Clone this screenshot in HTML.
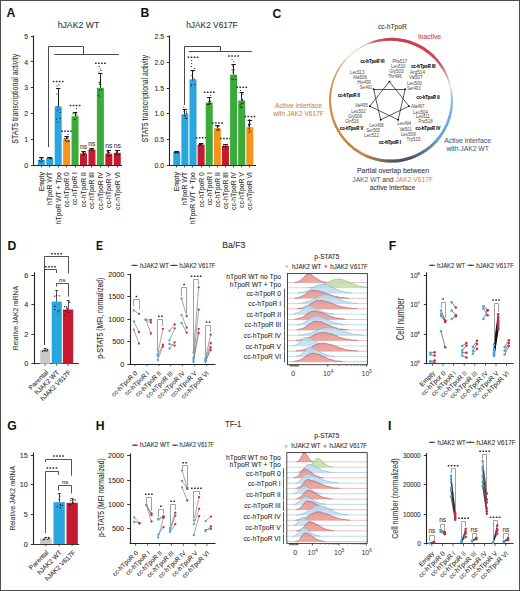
<!DOCTYPE html>
<html><head><meta charset="utf-8"><style>
html,body{margin:0;padding:0;background:#fff;}
body{width:520px;height:591px;overflow:hidden;position:relative;}
svg{display:block;font-family:"Liberation Sans", sans-serif;}
</style></head><body>
<svg width="520" height="591" viewBox="0 0 520 591">
<rect x="0" y="0" width="520" height="591" fill="#fff"/>
<text x="6.60" y="16.80" font-size="12.2" text-anchor="start" fill="#111" font-weight="bold">A</text>
<text x="57.70" y="27.70" font-size="8.8" text-anchor="start" fill="#333" stroke="#333" stroke-width="0.08" textLength="41.5" lengthAdjust="spacingAndGlyphs">hJAK2 WT</text>
<line x1="33.50" y1="35.50" x2="33.50" y2="165.70" stroke="#231f20" stroke-width="1.1"/>
<line x1="33.20" y1="165.50" x2="122.00" y2="165.50" stroke="#231f20" stroke-width="1.1"/>
<line x1="30.90" y1="165.50" x2="33.70" y2="165.50" stroke="#231f20" stroke-width="0.9"/>
<text x="28.10" y="167.70" font-size="6.9" text-anchor="end" fill="#2a2a2a" stroke="#2a2a2a" stroke-width="0.08">0</text>
<line x1="30.90" y1="139.50" x2="33.70" y2="139.50" stroke="#231f20" stroke-width="0.9"/>
<text x="28.10" y="141.90" font-size="6.9" text-anchor="end" fill="#2a2a2a" stroke="#2a2a2a" stroke-width="0.08">1</text>
<line x1="30.90" y1="113.50" x2="33.70" y2="113.50" stroke="#231f20" stroke-width="0.9"/>
<text x="28.10" y="116.10" font-size="6.9" text-anchor="end" fill="#2a2a2a" stroke="#2a2a2a" stroke-width="0.08">2</text>
<line x1="30.90" y1="87.50" x2="33.70" y2="87.50" stroke="#231f20" stroke-width="0.9"/>
<text x="28.10" y="90.30" font-size="6.9" text-anchor="end" fill="#2a2a2a" stroke="#2a2a2a" stroke-width="0.08">3</text>
<line x1="30.90" y1="61.50" x2="33.70" y2="61.50" stroke="#231f20" stroke-width="0.9"/>
<text x="28.10" y="64.50" font-size="6.9" text-anchor="end" fill="#2a2a2a" stroke="#2a2a2a" stroke-width="0.08">4</text>
<line x1="30.90" y1="36.50" x2="33.70" y2="36.50" stroke="#231f20" stroke-width="0.9"/>
<text x="28.10" y="38.70" font-size="6.9" text-anchor="end" fill="#2a2a2a" stroke="#2a2a2a" stroke-width="0.08">5</text>
<rect x="37.80" y="160.04" width="7.00" height="5.16" fill="#2aa6df"/>
<line x1="41.50" y1="165.20" x2="41.50" y2="167.40" stroke="#231f20" stroke-width="0.8"/>
<line x1="41.50" y1="160.04" x2="41.50" y2="157.72" stroke="#1a1a1a" stroke-width="1.0"/>
<line x1="39.10" y1="157.50" x2="43.50" y2="157.50" stroke="#1a1a1a" stroke-width="1.0"/>
<circle cx="41.49" cy="158.88" r="0.6" fill="#1a1a1a"/>
<circle cx="41.76" cy="159.47" r="0.6" fill="#1a1a1a"/>
<circle cx="39.39" cy="160.59" r="0.6" fill="#1a1a1a"/>
<circle cx="42.78" cy="157.89" r="0.6" fill="#1a1a1a"/>
<circle cx="40.13" cy="158.98" r="0.6" fill="#1a1a1a"/>
<circle cx="41.17" cy="162.23" r="0.6" fill="#1a1a1a"/>
<circle cx="41.20" cy="161.52" r="0.6" fill="#1a1a1a"/>
<circle cx="39.76" cy="160.65" r="0.6" fill="#1a1a1a"/>
<circle cx="42.92" cy="160.63" r="0.6" fill="#1a1a1a"/>
<text transform="translate(43.70,172.10) rotate(-90)" font-size="6.8" text-anchor="end" fill="#2a2a2a" stroke="#2a2a2a" stroke-width="0.08">Empty</text>
<rect x="46.24" y="158.23" width="7.00" height="6.97" fill="#2aa6df"/>
<line x1="49.50" y1="165.20" x2="49.50" y2="167.40" stroke="#231f20" stroke-width="0.8"/>
<line x1="49.50" y1="158.23" x2="49.50" y2="157.46" stroke="#1a1a1a" stroke-width="1.0"/>
<line x1="47.54" y1="157.50" x2="51.94" y2="157.50" stroke="#1a1a1a" stroke-width="1.0"/>
<circle cx="50.80" cy="158.27" r="0.6" fill="#1a1a1a"/>
<circle cx="47.82" cy="158.49" r="0.6" fill="#1a1a1a"/>
<circle cx="50.14" cy="158.61" r="0.6" fill="#1a1a1a"/>
<circle cx="47.68" cy="157.94" r="0.6" fill="#1a1a1a"/>
<circle cx="49.62" cy="158.77" r="0.6" fill="#1a1a1a"/>
<circle cx="51.41" cy="158.56" r="0.6" fill="#1a1a1a"/>
<circle cx="51.59" cy="158.55" r="0.6" fill="#1a1a1a"/>
<circle cx="51.06" cy="158.08" r="0.6" fill="#1a1a1a"/>
<circle cx="51.66" cy="158.15" r="0.6" fill="#1a1a1a"/>
<text transform="translate(52.14,172.10) rotate(-90)" font-size="6.8" text-anchor="end" fill="#2a2a2a" stroke="#2a2a2a" stroke-width="0.08">hTpoR WT</text>
<rect x="54.68" y="106.38" width="7.00" height="58.82" fill="#2aa6df"/>
<line x1="58.50" y1="165.20" x2="58.50" y2="167.40" stroke="#231f20" stroke-width="0.8"/>
<line x1="58.50" y1="106.38" x2="58.50" y2="88.57" stroke="#1a1a1a" stroke-width="1.0"/>
<line x1="55.98" y1="88.50" x2="60.38" y2="88.50" stroke="#1a1a1a" stroke-width="1.0"/>
<circle cx="56.41" cy="119.19" r="0.6" fill="#1a1a1a"/>
<circle cx="56.93" cy="94.06" r="0.6" fill="#1a1a1a"/>
<circle cx="57.90" cy="122.12" r="0.6" fill="#1a1a1a"/>
<circle cx="57.30" cy="110.66" r="0.6" fill="#1a1a1a"/>
<circle cx="57.68" cy="106.62" r="0.6" fill="#1a1a1a"/>
<circle cx="58.55" cy="101.33" r="0.6" fill="#1a1a1a"/>
<circle cx="59.96" cy="109.23" r="0.6" fill="#1a1a1a"/>
<circle cx="60.07" cy="112.53" r="0.6" fill="#1a1a1a"/>
<circle cx="60.34" cy="118.43" r="0.6" fill="#1a1a1a"/>
<circle cx="58.80" cy="84.80" r="0.6" fill="#1a1a1a"/>
<circle cx="56.97" cy="86.00" r="0.6" fill="#1a1a1a"/>
<rect x="52.75" y="80.83" width="1.70" height="1.53" rx="0.3" fill="#303030"/>
<rect x="55.80" y="80.83" width="1.70" height="1.53" rx="0.3" fill="#303030"/>
<rect x="58.85" y="80.83" width="1.70" height="1.53" rx="0.3" fill="#303030"/>
<rect x="61.90" y="80.83" width="1.70" height="1.53" rx="0.3" fill="#303030"/>
<text transform="translate(60.58,172.10) rotate(-90)" font-size="6.8" text-anchor="end" fill="#2a2a2a" stroke="#2a2a2a" stroke-width="0.08">hTpoR WT + Tpo</text>
<rect x="63.12" y="139.40" width="7.00" height="25.80" fill="#f7941d"/>
<line x1="66.50" y1="165.20" x2="66.50" y2="167.40" stroke="#231f20" stroke-width="0.8"/>
<line x1="66.50" y1="139.40" x2="66.50" y2="136.82" stroke="#1a1a1a" stroke-width="1.0"/>
<line x1="64.42" y1="136.50" x2="68.82" y2="136.50" stroke="#1a1a1a" stroke-width="1.0"/>
<circle cx="68.66" cy="141.17" r="0.6" fill="#1a1a1a"/>
<circle cx="66.92" cy="141.38" r="0.6" fill="#1a1a1a"/>
<circle cx="65.35" cy="140.45" r="0.6" fill="#1a1a1a"/>
<circle cx="66.94" cy="141.03" r="0.6" fill="#1a1a1a"/>
<circle cx="64.70" cy="138.35" r="0.6" fill="#1a1a1a"/>
<circle cx="68.78" cy="141.14" r="0.6" fill="#1a1a1a"/>
<circle cx="67.94" cy="137.38" r="0.6" fill="#1a1a1a"/>
<circle cx="65.08" cy="138.96" r="0.6" fill="#1a1a1a"/>
<circle cx="67.80" cy="138.39" r="0.6" fill="#1a1a1a"/>
<circle cx="67.96" cy="134.50" r="0.6" fill="#1a1a1a"/>
<rect x="61.20" y="130.44" width="1.70" height="1.53" rx="0.3" fill="#303030"/>
<rect x="64.25" y="130.44" width="1.70" height="1.53" rx="0.3" fill="#303030"/>
<rect x="67.30" y="130.44" width="1.70" height="1.53" rx="0.3" fill="#303030"/>
<rect x="70.34" y="130.44" width="1.70" height="1.53" rx="0.3" fill="#303030"/>
<text transform="translate(69.02,172.10) rotate(-90)" font-size="6.8" text-anchor="end" fill="#2a2a2a" stroke="#2a2a2a" stroke-width="0.08">cc-hTpoR 0</text>
<rect x="71.56" y="116.18" width="7.00" height="49.02" fill="#3aaa3a"/>
<line x1="75.50" y1="165.20" x2="75.50" y2="167.40" stroke="#231f20" stroke-width="0.8"/>
<line x1="75.50" y1="116.18" x2="75.50" y2="112.57" stroke="#1a1a1a" stroke-width="1.0"/>
<line x1="72.86" y1="112.50" x2="77.26" y2="112.50" stroke="#1a1a1a" stroke-width="1.0"/>
<circle cx="75.56" cy="113.05" r="0.6" fill="#1a1a1a"/>
<circle cx="76.02" cy="113.06" r="0.6" fill="#1a1a1a"/>
<circle cx="76.74" cy="115.02" r="0.6" fill="#1a1a1a"/>
<circle cx="75.08" cy="119.48" r="0.6" fill="#1a1a1a"/>
<circle cx="74.22" cy="119.60" r="0.6" fill="#1a1a1a"/>
<circle cx="75.50" cy="113.28" r="0.6" fill="#1a1a1a"/>
<circle cx="73.73" cy="112.96" r="0.6" fill="#1a1a1a"/>
<circle cx="75.55" cy="115.55" r="0.6" fill="#1a1a1a"/>
<circle cx="73.05" cy="113.82" r="0.6" fill="#1a1a1a"/>
<circle cx="76.38" cy="108.50" r="0.6" fill="#1a1a1a"/>
<rect x="69.64" y="104.73" width="1.70" height="1.53" rx="0.3" fill="#303030"/>
<rect x="72.69" y="104.73" width="1.70" height="1.53" rx="0.3" fill="#303030"/>
<rect x="75.73" y="104.73" width="1.70" height="1.53" rx="0.3" fill="#303030"/>
<rect x="78.78" y="104.73" width="1.70" height="1.53" rx="0.3" fill="#303030"/>
<text transform="translate(77.46,172.10) rotate(-90)" font-size="6.8" text-anchor="end" fill="#2a2a2a" stroke="#2a2a2a" stroke-width="0.08">cc-hTpoR I</text>
<rect x="80.00" y="153.59" width="7.00" height="11.61" fill="#c61a30"/>
<line x1="83.50" y1="165.20" x2="83.50" y2="167.40" stroke="#231f20" stroke-width="0.8"/>
<line x1="83.50" y1="153.59" x2="83.50" y2="151.53" stroke="#1a1a1a" stroke-width="1.0"/>
<line x1="81.30" y1="151.50" x2="85.70" y2="151.50" stroke="#1a1a1a" stroke-width="1.0"/>
<circle cx="85.52" cy="152.86" r="0.6" fill="#1a1a1a"/>
<circle cx="82.96" cy="155.15" r="0.6" fill="#1a1a1a"/>
<circle cx="83.59" cy="153.43" r="0.6" fill="#1a1a1a"/>
<circle cx="83.92" cy="154.15" r="0.6" fill="#1a1a1a"/>
<circle cx="84.03" cy="153.82" r="0.6" fill="#1a1a1a"/>
<circle cx="83.53" cy="155.32" r="0.6" fill="#1a1a1a"/>
<circle cx="84.47" cy="153.32" r="0.6" fill="#1a1a1a"/>
<circle cx="82.62" cy="152.56" r="0.6" fill="#1a1a1a"/>
<circle cx="83.59" cy="155.46" r="0.6" fill="#1a1a1a"/>
<text x="83.50" y="149.33" font-size="6.8" text-anchor="middle" fill="#3a3a3a" stroke="#3a3a3a" stroke-width="0.08">ns</text>
<text transform="translate(85.90,172.10) rotate(-90)" font-size="6.8" text-anchor="end" fill="#2a2a2a" stroke="#2a2a2a" stroke-width="0.08">cc-hTpoR II</text>
<rect x="88.44" y="149.72" width="7.00" height="15.48" fill="#c61a30"/>
<line x1="91.50" y1="165.20" x2="91.50" y2="167.40" stroke="#231f20" stroke-width="0.8"/>
<line x1="91.50" y1="149.72" x2="91.50" y2="148.43" stroke="#1a1a1a" stroke-width="1.0"/>
<line x1="89.74" y1="148.50" x2="94.14" y2="148.50" stroke="#1a1a1a" stroke-width="1.0"/>
<circle cx="89.79" cy="149.84" r="0.6" fill="#1a1a1a"/>
<circle cx="92.29" cy="149.51" r="0.6" fill="#1a1a1a"/>
<circle cx="92.45" cy="148.54" r="0.6" fill="#1a1a1a"/>
<circle cx="90.00" cy="150.04" r="0.6" fill="#1a1a1a"/>
<circle cx="91.79" cy="150.03" r="0.6" fill="#1a1a1a"/>
<circle cx="91.29" cy="150.16" r="0.6" fill="#1a1a1a"/>
<circle cx="92.99" cy="150.23" r="0.6" fill="#1a1a1a"/>
<circle cx="90.01" cy="148.55" r="0.6" fill="#1a1a1a"/>
<circle cx="93.98" cy="150.15" r="0.6" fill="#1a1a1a"/>
<text x="91.94" y="146.23" font-size="6.8" text-anchor="middle" fill="#3a3a3a" stroke="#3a3a3a" stroke-width="0.08">ns</text>
<text transform="translate(94.34,172.10) rotate(-90)" font-size="6.8" text-anchor="end" fill="#2a2a2a" stroke="#2a2a2a" stroke-width="0.08">cc-hTpoR III</text>
<rect x="96.88" y="87.80" width="7.00" height="77.40" fill="#3aaa3a"/>
<line x1="100.50" y1="165.20" x2="100.50" y2="167.40" stroke="#231f20" stroke-width="0.8"/>
<line x1="100.50" y1="87.80" x2="100.50" y2="73.61" stroke="#1a1a1a" stroke-width="1.0"/>
<line x1="98.18" y1="73.50" x2="102.58" y2="73.50" stroke="#1a1a1a" stroke-width="1.0"/>
<circle cx="100.19" cy="81.09" r="0.6" fill="#1a1a1a"/>
<circle cx="99.59" cy="90.30" r="0.6" fill="#1a1a1a"/>
<circle cx="99.56" cy="84.13" r="0.6" fill="#1a1a1a"/>
<circle cx="100.80" cy="84.27" r="0.6" fill="#1a1a1a"/>
<circle cx="99.84" cy="82.42" r="0.6" fill="#1a1a1a"/>
<circle cx="98.30" cy="95.14" r="0.6" fill="#1a1a1a"/>
<circle cx="101.41" cy="89.67" r="0.6" fill="#1a1a1a"/>
<circle cx="99.16" cy="82.68" r="0.6" fill="#1a1a1a"/>
<circle cx="99.23" cy="95.99" r="0.6" fill="#1a1a1a"/>
<circle cx="99.25" cy="66.50" r="0.6" fill="#1a1a1a"/>
<circle cx="100.15" cy="69.00" r="0.6" fill="#1a1a1a"/>
<circle cx="101.09" cy="70.50" r="0.6" fill="#1a1a1a"/>
<circle cx="98.95" cy="72.00" r="0.6" fill="#1a1a1a"/>
<rect x="94.95" y="62.53" width="1.70" height="1.53" rx="0.3" fill="#303030"/>
<rect x="98.00" y="62.53" width="1.70" height="1.53" rx="0.3" fill="#303030"/>
<rect x="101.05" y="62.53" width="1.70" height="1.53" rx="0.3" fill="#303030"/>
<rect x="104.10" y="62.53" width="1.70" height="1.53" rx="0.3" fill="#303030"/>
<text transform="translate(102.78,172.10) rotate(-90)" font-size="6.8" text-anchor="end" fill="#2a2a2a" stroke="#2a2a2a" stroke-width="0.08">cc-hTpoR IV</text>
<rect x="105.32" y="153.59" width="7.00" height="11.61" fill="#c61a30"/>
<line x1="108.50" y1="165.20" x2="108.50" y2="167.40" stroke="#231f20" stroke-width="0.8"/>
<line x1="108.50" y1="153.59" x2="108.50" y2="150.24" stroke="#1a1a1a" stroke-width="1.0"/>
<line x1="106.62" y1="150.50" x2="111.02" y2="150.50" stroke="#1a1a1a" stroke-width="1.0"/>
<circle cx="108.09" cy="152.46" r="0.6" fill="#1a1a1a"/>
<circle cx="108.55" cy="155.72" r="0.6" fill="#1a1a1a"/>
<circle cx="107.36" cy="155.86" r="0.6" fill="#1a1a1a"/>
<circle cx="109.48" cy="152.55" r="0.6" fill="#1a1a1a"/>
<circle cx="108.60" cy="156.04" r="0.6" fill="#1a1a1a"/>
<circle cx="107.15" cy="151.84" r="0.6" fill="#1a1a1a"/>
<circle cx="107.46" cy="153.78" r="0.6" fill="#1a1a1a"/>
<circle cx="110.31" cy="155.54" r="0.6" fill="#1a1a1a"/>
<circle cx="107.85" cy="151.57" r="0.6" fill="#1a1a1a"/>
<text x="108.82" y="148.04" font-size="6.8" text-anchor="middle" fill="#3a3a3a" stroke="#3a3a3a" stroke-width="0.08">ns</text>
<text transform="translate(111.22,172.10) rotate(-90)" font-size="6.8" text-anchor="end" fill="#2a2a2a" stroke="#2a2a2a" stroke-width="0.08">cc-hTpoR V</text>
<rect x="113.76" y="152.82" width="7.00" height="12.38" fill="#c61a30"/>
<line x1="117.50" y1="165.20" x2="117.50" y2="167.40" stroke="#231f20" stroke-width="0.8"/>
<line x1="117.50" y1="152.82" x2="117.50" y2="150.24" stroke="#1a1a1a" stroke-width="1.0"/>
<line x1="115.06" y1="150.50" x2="119.46" y2="150.50" stroke="#1a1a1a" stroke-width="1.0"/>
<circle cx="117.88" cy="154.32" r="0.6" fill="#1a1a1a"/>
<circle cx="116.58" cy="154.32" r="0.6" fill="#1a1a1a"/>
<circle cx="116.34" cy="151.00" r="0.6" fill="#1a1a1a"/>
<circle cx="116.25" cy="154.26" r="0.6" fill="#1a1a1a"/>
<circle cx="116.89" cy="152.06" r="0.6" fill="#1a1a1a"/>
<circle cx="116.86" cy="152.42" r="0.6" fill="#1a1a1a"/>
<circle cx="115.75" cy="154.88" r="0.6" fill="#1a1a1a"/>
<circle cx="119.21" cy="150.39" r="0.6" fill="#1a1a1a"/>
<circle cx="119.40" cy="154.68" r="0.6" fill="#1a1a1a"/>
<text x="117.26" y="148.04" font-size="6.8" text-anchor="middle" fill="#3a3a3a" stroke="#3a3a3a" stroke-width="0.08">ns</text>
<text transform="translate(119.66,172.10) rotate(-90)" font-size="6.8" text-anchor="end" fill="#2a2a2a" stroke="#2a2a2a" stroke-width="0.08">cc-hTpoR VI</text>
<text transform="translate(18.20,98.70) rotate(-90)" font-size="9.0" text-anchor="middle" fill="#2f2f2f" stroke="#2f2f2f" stroke-width="0.08" textLength="90" lengthAdjust="spacingAndGlyphs">STAT5 transcriptional activity</text>
<polyline points="48.50,147.00 48.50,46.50 83.50,46.50 83.50,54.40" fill="none" stroke="#4a4a4a" stroke-width="1.0"/>
<line x1="54.40" y1="54.50" x2="119.00" y2="54.50" stroke="#4a4a4a" stroke-width="1.0"/>
<text x="140.60" y="17.10" font-size="12.2" text-anchor="start" fill="#111" font-weight="bold">B</text>
<text x="186.20" y="27.70" font-size="8.8" text-anchor="start" fill="#333" stroke="#333" stroke-width="0.08" textLength="51.5" lengthAdjust="spacingAndGlyphs">hJAK2 V617F</text>
<line x1="169.50" y1="35.50" x2="169.50" y2="165.70" stroke="#231f20" stroke-width="1.1"/>
<line x1="169.10" y1="165.50" x2="256.00" y2="165.50" stroke="#231f20" stroke-width="1.1"/>
<line x1="166.80" y1="165.50" x2="169.60" y2="165.50" stroke="#231f20" stroke-width="0.9"/>
<text x="164.00" y="167.70" font-size="6.9" text-anchor="end" fill="#2a2a2a" stroke="#2a2a2a" stroke-width="0.08">0.0</text>
<line x1="166.80" y1="139.50" x2="169.60" y2="139.50" stroke="#231f20" stroke-width="0.9"/>
<text x="164.00" y="142.00" font-size="6.9" text-anchor="end" fill="#2a2a2a" stroke="#2a2a2a" stroke-width="0.08">0.5</text>
<line x1="166.80" y1="113.50" x2="169.60" y2="113.50" stroke="#231f20" stroke-width="0.9"/>
<text x="164.00" y="116.30" font-size="6.9" text-anchor="end" fill="#2a2a2a" stroke="#2a2a2a" stroke-width="0.08">1.0</text>
<line x1="166.80" y1="88.50" x2="169.60" y2="88.50" stroke="#231f20" stroke-width="0.9"/>
<text x="164.00" y="90.60" font-size="6.9" text-anchor="end" fill="#2a2a2a" stroke="#2a2a2a" stroke-width="0.08">1.5</text>
<line x1="166.80" y1="62.50" x2="169.60" y2="62.50" stroke="#231f20" stroke-width="0.9"/>
<text x="164.00" y="64.90" font-size="6.9" text-anchor="end" fill="#2a2a2a" stroke="#2a2a2a" stroke-width="0.08">2.0</text>
<line x1="166.80" y1="36.50" x2="169.60" y2="36.50" stroke="#231f20" stroke-width="0.9"/>
<text x="164.00" y="39.20" font-size="6.9" text-anchor="end" fill="#2a2a2a" stroke="#2a2a2a" stroke-width="0.08">2.5</text>
<rect x="173.25" y="152.09" width="7.00" height="13.11" fill="#2aa6df"/>
<line x1="176.50" y1="165.20" x2="176.50" y2="167.40" stroke="#231f20" stroke-width="0.8"/>
<line x1="176.50" y1="152.09" x2="176.50" y2="151.06" stroke="#1a1a1a" stroke-width="1.0"/>
<line x1="174.55" y1="151.50" x2="178.95" y2="151.50" stroke="#1a1a1a" stroke-width="1.0"/>
<circle cx="178.73" cy="151.96" r="0.6" fill="#1a1a1a"/>
<circle cx="175.53" cy="152.93" r="0.6" fill="#1a1a1a"/>
<circle cx="178.23" cy="152.57" r="0.6" fill="#1a1a1a"/>
<circle cx="176.83" cy="152.41" r="0.6" fill="#1a1a1a"/>
<circle cx="176.05" cy="151.68" r="0.6" fill="#1a1a1a"/>
<circle cx="174.85" cy="151.56" r="0.6" fill="#1a1a1a"/>
<circle cx="175.81" cy="152.27" r="0.6" fill="#1a1a1a"/>
<circle cx="174.75" cy="152.70" r="0.6" fill="#1a1a1a"/>
<circle cx="177.60" cy="152.88" r="0.6" fill="#1a1a1a"/>
<text transform="translate(179.15,172.10) rotate(-90)" font-size="6.8" text-anchor="end" fill="#2a2a2a" stroke="#2a2a2a" stroke-width="0.08">Empty</text>
<rect x="181.37" y="114.31" width="7.00" height="50.89" fill="#2aa6df"/>
<line x1="184.50" y1="165.20" x2="184.50" y2="167.40" stroke="#231f20" stroke-width="0.8"/>
<line x1="184.50" y1="114.31" x2="184.50" y2="109.17" stroke="#1a1a1a" stroke-width="1.0"/>
<line x1="182.67" y1="109.50" x2="187.07" y2="109.50" stroke="#1a1a1a" stroke-width="1.0"/>
<circle cx="186.61" cy="118.45" r="0.6" fill="#1a1a1a"/>
<circle cx="185.21" cy="118.22" r="0.6" fill="#1a1a1a"/>
<circle cx="185.95" cy="109.56" r="0.6" fill="#1a1a1a"/>
<circle cx="183.99" cy="111.11" r="0.6" fill="#1a1a1a"/>
<circle cx="184.98" cy="115.90" r="0.6" fill="#1a1a1a"/>
<circle cx="186.80" cy="113.47" r="0.6" fill="#1a1a1a"/>
<circle cx="184.17" cy="115.41" r="0.6" fill="#1a1a1a"/>
<circle cx="186.46" cy="111.90" r="0.6" fill="#1a1a1a"/>
<circle cx="186.11" cy="114.09" r="0.6" fill="#1a1a1a"/>
<circle cx="184.34" cy="104.50" r="0.6" fill="#1a1a1a"/>
<circle cx="183.78" cy="107.00" r="0.6" fill="#1a1a1a"/>
<circle cx="184.99" cy="109.50" r="0.6" fill="#1a1a1a"/>
<text transform="translate(187.27,172.10) rotate(-90)" font-size="6.8" text-anchor="end" fill="#2a2a2a" stroke="#2a2a2a" stroke-width="0.08">hTpoR WT</text>
<rect x="189.49" y="79.36" width="7.00" height="85.84" fill="#2aa6df"/>
<line x1="192.50" y1="165.20" x2="192.50" y2="167.40" stroke="#231f20" stroke-width="0.8"/>
<line x1="192.50" y1="79.36" x2="192.50" y2="70.11" stroke="#1a1a1a" stroke-width="1.0"/>
<line x1="190.79" y1="70.50" x2="195.19" y2="70.50" stroke="#1a1a1a" stroke-width="1.0"/>
<circle cx="191.54" cy="84.93" r="0.6" fill="#1a1a1a"/>
<circle cx="194.85" cy="84.49" r="0.6" fill="#1a1a1a"/>
<circle cx="194.41" cy="84.74" r="0.6" fill="#1a1a1a"/>
<circle cx="193.56" cy="70.70" r="0.6" fill="#1a1a1a"/>
<circle cx="191.01" cy="85.74" r="0.6" fill="#1a1a1a"/>
<circle cx="191.97" cy="75.34" r="0.6" fill="#1a1a1a"/>
<circle cx="192.65" cy="79.84" r="0.6" fill="#1a1a1a"/>
<circle cx="194.21" cy="78.89" r="0.6" fill="#1a1a1a"/>
<circle cx="191.03" cy="70.60" r="0.6" fill="#1a1a1a"/>
<circle cx="191.65" cy="60.50" r="0.6" fill="#1a1a1a"/>
<circle cx="191.64" cy="63.50" r="0.6" fill="#1a1a1a"/>
<circle cx="191.44" cy="66.50" r="0.6" fill="#1a1a1a"/>
<circle cx="194.70" cy="68.50" r="0.6" fill="#1a1a1a"/>
<rect x="187.57" y="56.53" width="1.70" height="1.53" rx="0.3" fill="#303030"/>
<rect x="190.62" y="56.53" width="1.70" height="1.53" rx="0.3" fill="#303030"/>
<rect x="193.67" y="56.53" width="1.70" height="1.53" rx="0.3" fill="#303030"/>
<rect x="196.72" y="56.53" width="1.70" height="1.53" rx="0.3" fill="#303030"/>
<text transform="translate(195.39,172.10) rotate(-90)" font-size="6.8" text-anchor="end" fill="#2a2a2a" stroke="#2a2a2a" stroke-width="0.08">hTpoR WT + Tpo</text>
<rect x="197.61" y="144.64" width="7.00" height="20.56" fill="#c61a30"/>
<line x1="201.50" y1="165.20" x2="201.50" y2="167.40" stroke="#231f20" stroke-width="0.8"/>
<line x1="201.50" y1="144.64" x2="201.50" y2="143.10" stroke="#1a1a1a" stroke-width="1.0"/>
<line x1="198.91" y1="143.50" x2="203.31" y2="143.50" stroke="#1a1a1a" stroke-width="1.0"/>
<circle cx="199.29" cy="145.68" r="0.6" fill="#1a1a1a"/>
<circle cx="200.30" cy="144.65" r="0.6" fill="#1a1a1a"/>
<circle cx="200.46" cy="144.10" r="0.6" fill="#1a1a1a"/>
<circle cx="201.49" cy="145.07" r="0.6" fill="#1a1a1a"/>
<circle cx="199.75" cy="144.23" r="0.6" fill="#1a1a1a"/>
<circle cx="199.45" cy="144.14" r="0.6" fill="#1a1a1a"/>
<circle cx="202.06" cy="144.80" r="0.6" fill="#1a1a1a"/>
<circle cx="199.26" cy="144.29" r="0.6" fill="#1a1a1a"/>
<circle cx="200.55" cy="143.70" r="0.6" fill="#1a1a1a"/>
<rect x="195.69" y="137.04" width="1.70" height="1.53" rx="0.3" fill="#303030"/>
<rect x="198.74" y="137.04" width="1.70" height="1.53" rx="0.3" fill="#303030"/>
<rect x="201.79" y="137.04" width="1.70" height="1.53" rx="0.3" fill="#303030"/>
<rect x="204.84" y="137.04" width="1.70" height="1.53" rx="0.3" fill="#303030"/>
<text transform="translate(203.51,172.10) rotate(-90)" font-size="6.8" text-anchor="end" fill="#2a2a2a" stroke="#2a2a2a" stroke-width="0.08">cc-hTpoR 0</text>
<rect x="205.73" y="102.49" width="7.00" height="62.71" fill="#3aaa3a"/>
<line x1="209.50" y1="165.20" x2="209.50" y2="167.40" stroke="#231f20" stroke-width="0.8"/>
<line x1="209.50" y1="102.49" x2="209.50" y2="97.35" stroke="#1a1a1a" stroke-width="1.0"/>
<line x1="207.03" y1="97.50" x2="211.43" y2="97.50" stroke="#1a1a1a" stroke-width="1.0"/>
<circle cx="210.47" cy="103.51" r="0.6" fill="#1a1a1a"/>
<circle cx="210.56" cy="101.32" r="0.6" fill="#1a1a1a"/>
<circle cx="208.93" cy="103.69" r="0.6" fill="#1a1a1a"/>
<circle cx="209.21" cy="101.25" r="0.6" fill="#1a1a1a"/>
<circle cx="208.88" cy="104.47" r="0.6" fill="#1a1a1a"/>
<circle cx="209.06" cy="104.39" r="0.6" fill="#1a1a1a"/>
<circle cx="209.39" cy="100.00" r="0.6" fill="#1a1a1a"/>
<circle cx="207.34" cy="104.40" r="0.6" fill="#1a1a1a"/>
<circle cx="208.90" cy="101.76" r="0.6" fill="#1a1a1a"/>
<circle cx="210.60" cy="95.50" r="0.6" fill="#1a1a1a"/>
<rect x="203.81" y="91.53" width="1.70" height="1.53" rx="0.3" fill="#303030"/>
<rect x="206.86" y="91.53" width="1.70" height="1.53" rx="0.3" fill="#303030"/>
<rect x="209.91" y="91.53" width="1.70" height="1.53" rx="0.3" fill="#303030"/>
<rect x="212.96" y="91.53" width="1.70" height="1.53" rx="0.3" fill="#303030"/>
<text transform="translate(211.63,172.10) rotate(-90)" font-size="6.8" text-anchor="end" fill="#2a2a2a" stroke="#2a2a2a" stroke-width="0.08">cc-hTpoR I</text>
<rect x="213.85" y="128.19" width="7.00" height="37.01" fill="#f7941d"/>
<line x1="217.50" y1="165.20" x2="217.50" y2="167.40" stroke="#231f20" stroke-width="0.8"/>
<line x1="217.50" y1="128.19" x2="217.50" y2="125.62" stroke="#1a1a1a" stroke-width="1.0"/>
<line x1="215.15" y1="125.50" x2="219.55" y2="125.50" stroke="#1a1a1a" stroke-width="1.0"/>
<circle cx="216.80" cy="130.32" r="0.6" fill="#1a1a1a"/>
<circle cx="218.63" cy="130.13" r="0.6" fill="#1a1a1a"/>
<circle cx="217.19" cy="127.03" r="0.6" fill="#1a1a1a"/>
<circle cx="218.73" cy="126.35" r="0.6" fill="#1a1a1a"/>
<circle cx="219.05" cy="128.98" r="0.6" fill="#1a1a1a"/>
<circle cx="218.09" cy="129.62" r="0.6" fill="#1a1a1a"/>
<circle cx="217.63" cy="129.33" r="0.6" fill="#1a1a1a"/>
<circle cx="217.74" cy="126.25" r="0.6" fill="#1a1a1a"/>
<circle cx="215.78" cy="125.77" r="0.6" fill="#1a1a1a"/>
<rect x="211.93" y="122.23" width="1.70" height="1.53" rx="0.3" fill="#303030"/>
<rect x="214.98" y="122.23" width="1.70" height="1.53" rx="0.3" fill="#303030"/>
<rect x="218.03" y="122.23" width="1.70" height="1.53" rx="0.3" fill="#303030"/>
<rect x="221.08" y="122.23" width="1.70" height="1.53" rx="0.3" fill="#303030"/>
<text transform="translate(219.75,172.10) rotate(-90)" font-size="6.8" text-anchor="end" fill="#2a2a2a" stroke="#2a2a2a" stroke-width="0.08">cc-hTpoR II</text>
<rect x="221.97" y="145.67" width="7.00" height="19.53" fill="#c61a30"/>
<line x1="225.50" y1="165.20" x2="225.50" y2="167.40" stroke="#231f20" stroke-width="0.8"/>
<line x1="225.50" y1="145.67" x2="225.50" y2="144.13" stroke="#1a1a1a" stroke-width="1.0"/>
<line x1="223.27" y1="144.50" x2="227.67" y2="144.50" stroke="#1a1a1a" stroke-width="1.0"/>
<circle cx="223.46" cy="146.47" r="0.6" fill="#1a1a1a"/>
<circle cx="223.71" cy="144.47" r="0.6" fill="#1a1a1a"/>
<circle cx="224.06" cy="146.78" r="0.6" fill="#1a1a1a"/>
<circle cx="226.97" cy="144.27" r="0.6" fill="#1a1a1a"/>
<circle cx="226.98" cy="144.56" r="0.6" fill="#1a1a1a"/>
<circle cx="226.95" cy="146.18" r="0.6" fill="#1a1a1a"/>
<circle cx="225.82" cy="146.99" r="0.6" fill="#1a1a1a"/>
<circle cx="223.43" cy="146.54" r="0.6" fill="#1a1a1a"/>
<circle cx="225.52" cy="146.45" r="0.6" fill="#1a1a1a"/>
<rect x="220.05" y="137.74" width="1.70" height="1.53" rx="0.3" fill="#303030"/>
<rect x="223.10" y="137.74" width="1.70" height="1.53" rx="0.3" fill="#303030"/>
<rect x="226.15" y="137.74" width="1.70" height="1.53" rx="0.3" fill="#303030"/>
<rect x="229.20" y="137.74" width="1.70" height="1.53" rx="0.3" fill="#303030"/>
<text transform="translate(227.87,172.10) rotate(-90)" font-size="6.8" text-anchor="end" fill="#2a2a2a" stroke="#2a2a2a" stroke-width="0.08">cc-hTpoR III</text>
<rect x="230.09" y="74.74" width="7.00" height="90.46" fill="#3aaa3a"/>
<line x1="233.50" y1="165.20" x2="233.50" y2="167.40" stroke="#231f20" stroke-width="0.8"/>
<line x1="233.50" y1="74.74" x2="233.50" y2="64.46" stroke="#1a1a1a" stroke-width="1.0"/>
<line x1="231.39" y1="64.50" x2="235.79" y2="64.50" stroke="#1a1a1a" stroke-width="1.0"/>
<circle cx="231.86" cy="78.94" r="0.6" fill="#1a1a1a"/>
<circle cx="235.50" cy="79.60" r="0.6" fill="#1a1a1a"/>
<circle cx="232.82" cy="66.16" r="0.6" fill="#1a1a1a"/>
<circle cx="235.03" cy="75.99" r="0.6" fill="#1a1a1a"/>
<circle cx="232.18" cy="69.70" r="0.6" fill="#1a1a1a"/>
<circle cx="234.10" cy="69.85" r="0.6" fill="#1a1a1a"/>
<circle cx="233.12" cy="79.69" r="0.6" fill="#1a1a1a"/>
<circle cx="233.14" cy="72.15" r="0.6" fill="#1a1a1a"/>
<circle cx="233.23" cy="71.81" r="0.6" fill="#1a1a1a"/>
<circle cx="232.09" cy="59.50" r="0.6" fill="#1a1a1a"/>
<circle cx="233.59" cy="61.50" r="0.6" fill="#1a1a1a"/>
<rect x="228.17" y="55.23" width="1.70" height="1.53" rx="0.3" fill="#303030"/>
<rect x="231.22" y="55.23" width="1.70" height="1.53" rx="0.3" fill="#303030"/>
<rect x="234.27" y="55.23" width="1.70" height="1.53" rx="0.3" fill="#303030"/>
<rect x="237.32" y="55.23" width="1.70" height="1.53" rx="0.3" fill="#303030"/>
<text transform="translate(235.99,172.10) rotate(-90)" font-size="6.8" text-anchor="end" fill="#2a2a2a" stroke="#2a2a2a" stroke-width="0.08">cc-hTpoR IV</text>
<rect x="238.21" y="100.44" width="7.00" height="64.76" fill="#3aaa3a"/>
<line x1="241.50" y1="165.20" x2="241.50" y2="167.40" stroke="#231f20" stroke-width="0.8"/>
<line x1="241.50" y1="100.44" x2="241.50" y2="92.21" stroke="#1a1a1a" stroke-width="1.0"/>
<line x1="239.51" y1="92.50" x2="243.91" y2="92.50" stroke="#1a1a1a" stroke-width="1.0"/>
<circle cx="241.33" cy="107.83" r="0.6" fill="#1a1a1a"/>
<circle cx="240.22" cy="104.30" r="0.6" fill="#1a1a1a"/>
<circle cx="242.84" cy="103.42" r="0.6" fill="#1a1a1a"/>
<circle cx="241.79" cy="103.15" r="0.6" fill="#1a1a1a"/>
<circle cx="242.34" cy="100.18" r="0.6" fill="#1a1a1a"/>
<circle cx="240.17" cy="106.65" r="0.6" fill="#1a1a1a"/>
<circle cx="242.80" cy="94.12" r="0.6" fill="#1a1a1a"/>
<circle cx="241.79" cy="106.95" r="0.6" fill="#1a1a1a"/>
<circle cx="242.67" cy="99.55" r="0.6" fill="#1a1a1a"/>
<circle cx="240.58" cy="90.50" r="0.6" fill="#1a1a1a"/>
<rect x="236.28" y="86.53" width="1.70" height="1.53" rx="0.3" fill="#303030"/>
<rect x="239.34" y="86.53" width="1.70" height="1.53" rx="0.3" fill="#303030"/>
<rect x="242.38" y="86.53" width="1.70" height="1.53" rx="0.3" fill="#303030"/>
<rect x="245.44" y="86.53" width="1.70" height="1.53" rx="0.3" fill="#303030"/>
<text transform="translate(244.11,172.10) rotate(-90)" font-size="6.8" text-anchor="end" fill="#2a2a2a" stroke="#2a2a2a" stroke-width="0.08">cc-hTpoR V</text>
<rect x="246.33" y="127.16" width="7.00" height="38.04" fill="#f7941d"/>
<line x1="249.50" y1="165.20" x2="249.50" y2="167.40" stroke="#231f20" stroke-width="0.8"/>
<line x1="249.50" y1="127.16" x2="249.50" y2="121.00" stroke="#1a1a1a" stroke-width="1.0"/>
<line x1="247.63" y1="120.50" x2="252.03" y2="120.50" stroke="#1a1a1a" stroke-width="1.0"/>
<circle cx="248.51" cy="124.44" r="0.6" fill="#1a1a1a"/>
<circle cx="249.02" cy="128.17" r="0.6" fill="#1a1a1a"/>
<circle cx="250.67" cy="124.03" r="0.6" fill="#1a1a1a"/>
<circle cx="248.93" cy="132.48" r="0.6" fill="#1a1a1a"/>
<circle cx="249.45" cy="129.57" r="0.6" fill="#1a1a1a"/>
<circle cx="250.20" cy="131.31" r="0.6" fill="#1a1a1a"/>
<circle cx="248.59" cy="124.44" r="0.6" fill="#1a1a1a"/>
<circle cx="249.74" cy="121.58" r="0.6" fill="#1a1a1a"/>
<circle cx="248.39" cy="125.79" r="0.6" fill="#1a1a1a"/>
<circle cx="249.33" cy="119.50" r="0.6" fill="#1a1a1a"/>
<rect x="244.41" y="115.73" width="1.70" height="1.53" rx="0.3" fill="#303030"/>
<rect x="247.46" y="115.73" width="1.70" height="1.53" rx="0.3" fill="#303030"/>
<rect x="250.50" y="115.73" width="1.70" height="1.53" rx="0.3" fill="#303030"/>
<rect x="253.56" y="115.73" width="1.70" height="1.53" rx="0.3" fill="#303030"/>
<text transform="translate(252.23,172.10) rotate(-90)" font-size="6.8" text-anchor="end" fill="#2a2a2a" stroke="#2a2a2a" stroke-width="0.08">cc-hTpoR VI</text>
<text transform="translate(147.80,98.90) rotate(-90)" font-size="9.0" text-anchor="middle" fill="#2f2f2f" stroke="#2f2f2f" stroke-width="0.08" textLength="87.4" lengthAdjust="spacingAndGlyphs">STAT5 transcriptional activity</text>
<polyline points="184.50,104.00 184.50,46.50 220.50,46.50 220.50,51.00" fill="none" stroke="#4a4a4a" stroke-width="1.0"/>
<line x1="188.90" y1="51.50" x2="251.80" y2="51.50" stroke="#4a4a4a" stroke-width="1.0"/>
<text x="272.60" y="17.50" font-size="12.2" text-anchor="start" fill="#111" font-weight="bold">C</text>
<text x="392.40" y="29.20" font-size="7.0" text-anchor="middle" fill="#333" stroke="#333" stroke-width="0.08" textLength="29" lengthAdjust="spacingAndGlyphs">cc-hTpoR</text>
<text x="418.00" y="38.80" font-size="7.0" text-anchor="start" fill="#c8364a" stroke="#c8364a" stroke-width="0.08" textLength="23" lengthAdjust="spacingAndGlyphs">Inactive</text>
<text x="298.60" y="108.20" font-size="7.0" text-anchor="middle" fill="#cf8a3e" stroke="#cf8a3e" stroke-width="0.08" textLength="47" lengthAdjust="spacingAndGlyphs">Active interface</text>
<text x="298.60" y="116.20" font-size="7.0" text-anchor="middle" fill="#cf8a3e" stroke="#cf8a3e" stroke-width="0.08" textLength="50.5" lengthAdjust="spacingAndGlyphs">with JAK2 V617F</text>
<text x="467.60" y="143.00" font-size="7.0" text-anchor="middle" fill="#3d5f82" stroke="#3d5f82" stroke-width="0.08" textLength="46.7" lengthAdjust="spacingAndGlyphs">Active interface</text>
<text x="467.60" y="150.80" font-size="7.0" text-anchor="middle" fill="#3d5f82" stroke="#3d5f82" stroke-width="0.08" textLength="42.4" lengthAdjust="spacingAndGlyphs">with JAK2 WT</text>
<text x="393.00" y="173.00" font-size="7.2" text-anchor="middle" fill="#333" stroke="#333" stroke-width="0.08" textLength="72" lengthAdjust="spacingAndGlyphs">Partial overlap between</text>
<text x="352.3" y="182.0" font-size="7.2" textLength="80.7" lengthAdjust="spacingAndGlyphs"><tspan fill="#3d5f82">JAK2 WT</tspan><tspan fill="#333"> and </tspan><tspan fill="#cf8a3e">JAK2 V617F</tspan></text>
<text x="392.40" y="190.00" font-size="7.2" text-anchor="middle" fill="#333" stroke="#333" stroke-width="0.08" textLength="45.5" lengthAdjust="spacingAndGlyphs">active interface</text>
<path d="M366.91,44.27 A60.9,60.9 0 0 1 368.98,43.42" fill="none" stroke="#dea09a" stroke-width="1.00"/>
<path d="M368.38,43.66 A60.9,60.9 0 0 1 370.47,42.86" fill="none" stroke="#dc928e" stroke-width="1.21"/>
<path d="M369.87,43.08 A60.9,60.9 0 0 1 371.98,42.35" fill="none" stroke="#d98382" stroke-width="1.42"/>
<path d="M371.37,42.55 A60.9,60.9 0 0 1 373.50,41.87" fill="none" stroke="#d67477" stroke-width="1.62"/>
<path d="M372.89,42.06 A60.9,60.9 0 0 1 375.03,41.43" fill="none" stroke="#d4666b" stroke-width="1.83"/>
<path d="M374.42,41.60 A60.9,60.9 0 0 1 376.58,41.03" fill="none" stroke="#d15961" stroke-width="2.02"/>
<path d="M375.96,41.19 A60.9,60.9 0 0 1 378.13,40.68" fill="none" stroke="#d1565f" stroke-width="2.12"/>
<path d="M377.51,40.81 A60.9,60.9 0 0 1 379.69,40.36" fill="none" stroke="#d0535d" stroke-width="2.22"/>
<path d="M379.07,40.48 A60.9,60.9 0 0 1 381.26,40.08" fill="none" stroke="#d0515b" stroke-width="2.32"/>
<path d="M380.63,40.19 A60.9,60.9 0 0 1 382.84,39.85" fill="none" stroke="#cf4e59" stroke-width="2.42"/>
<path d="M382.21,39.94 A60.9,60.9 0 0 1 384.42,39.66" fill="none" stroke="#ce4b57" stroke-width="2.52"/>
<path d="M383.79,39.73 A60.9,60.9 0 0 1 386.01,39.50" fill="none" stroke="#ce4855" stroke-width="2.62"/>
<path d="M385.37,39.56 A60.9,60.9 0 0 1 387.60,39.39" fill="none" stroke="#cd4553" stroke-width="2.72"/>
<path d="M386.96,39.43 A60.9,60.9 0 0 1 389.19,39.33" fill="none" stroke="#cd4351" stroke-width="2.82"/>
<path d="M388.56,39.35 A60.9,60.9 0 0 1 390.79,39.30" fill="none" stroke="#cc404f" stroke-width="2.92"/>
<path d="M390.15,39.31 A60.9,60.9 0 0 1 392.38,39.32" fill="none" stroke="#cc3e4e" stroke-width="3.00"/>
<path d="M391.74,39.30 A60.9,60.9 0 0 1 393.97,39.37" fill="none" stroke="#cc3e4e" stroke-width="3.00"/>
<path d="M393.34,39.34 A60.9,60.9 0 0 1 395.57,39.47" fill="none" stroke="#cc3e4e" stroke-width="3.00"/>
<path d="M394.93,39.43 A60.9,60.9 0 0 1 397.15,39.61" fill="none" stroke="#cc3e4e" stroke-width="3.00"/>
<path d="M396.52,39.55 A60.9,60.9 0 0 1 398.74,39.79" fill="none" stroke="#cc3e4e" stroke-width="3.00"/>
<path d="M398.11,39.72 A60.9,60.9 0 0 1 400.32,40.02" fill="none" stroke="#cc3e4e" stroke-width="3.00"/>
<path d="M399.69,39.92 A60.9,60.9 0 0 1 401.89,40.28" fill="none" stroke="#cc3e4e" stroke-width="3.00"/>
<path d="M401.26,40.17 A60.9,60.9 0 0 1 403.45,40.59" fill="none" stroke="#cc3e4e" stroke-width="3.00"/>
<path d="M402.83,40.46 A60.9,60.9 0 0 1 405.01,40.93" fill="none" stroke="#cc3e4e" stroke-width="3.00"/>
<path d="M404.39,40.79 A60.9,60.9 0 0 1 406.56,41.32" fill="none" stroke="#cc3e4e" stroke-width="3.00"/>
<path d="M405.94,41.16 A60.9,60.9 0 0 1 408.09,41.75" fill="none" stroke="#cc3e4e" stroke-width="3.00"/>
<path d="M407.48,41.57 A60.9,60.9 0 0 1 409.62,42.22" fill="none" stroke="#cc3e4e" stroke-width="3.00"/>
<path d="M409.01,42.02 A60.9,60.9 0 0 1 411.13,42.72" fill="none" stroke="#cc3e4e" stroke-width="3.00"/>
<path d="M410.53,42.51 A60.9,60.9 0 0 1 412.63,43.27" fill="none" stroke="#cc3e4e" stroke-width="3.00"/>
<path d="M412.03,43.05 A60.9,60.9 0 0 1 414.11,43.85" fill="none" stroke="#cc3e4e" stroke-width="3.00"/>
<path d="M413.52,43.62 A60.9,60.9 0 0 1 415.58,44.48" fill="none" stroke="#cc3e4e" stroke-width="3.00"/>
<path d="M414.99,44.22 A60.9,60.9 0 0 1 417.03,45.14" fill="none" stroke="#cc3e4e" stroke-width="3.00"/>
<path d="M416.45,44.87 A60.9,60.9 0 0 1 418.46,45.84" fill="none" stroke="#cc3e4e" stroke-width="3.00"/>
<path d="M417.89,45.56 A60.9,60.9 0 0 1 419.87,46.58" fill="none" stroke="#cc3e4e" stroke-width="3.00"/>
<path d="M419.31,46.28 A60.9,60.9 0 0 1 421.27,47.35" fill="none" stroke="#cc3e4e" stroke-width="3.00"/>
<path d="M420.71,47.04 A60.9,60.9 0 0 1 422.64,48.16" fill="none" stroke="#cc3e4e" stroke-width="3.00"/>
<path d="M422.09,47.83 A60.9,60.9 0 0 1 423.99,49.01" fill="none" stroke="#cc3e4e" stroke-width="3.00"/>
<path d="M423.45,48.67 A60.9,60.9 0 0 1 425.32,49.89" fill="none" stroke="#cc3e4e" stroke-width="3.00"/>
<path d="M424.79,49.53 A60.9,60.9 0 0 1 426.62,50.81" fill="none" stroke="#cc3e4e" stroke-width="3.00"/>
<path d="M426.10,50.44 A60.9,60.9 0 0 1 427.90,51.76" fill="none" stroke="#cc3f4f" stroke-width="2.96"/>
<path d="M427.40,51.37 A60.9,60.9 0 0 1 429.16,52.74" fill="none" stroke="#cc4151" stroke-width="2.92"/>
<path d="M428.66,52.34 A60.9,60.9 0 0 1 430.39,53.75" fill="none" stroke="#cc4353" stroke-width="2.87"/>
<path d="M429.90,53.34 A60.9,60.9 0 0 1 431.59,54.80" fill="none" stroke="#cd4655" stroke-width="2.83"/>
<path d="M431.11,54.38 A60.9,60.9 0 0 1 432.77,55.88" fill="none" stroke="#cd4857" stroke-width="2.78"/>
<path d="M432.30,55.44 A60.9,60.9 0 0 1 433.91,56.99" fill="none" stroke="#cd4a59" stroke-width="2.74"/>
<path d="M433.46,56.54 A60.9,60.9 0 0 1 435.03,58.13" fill="none" stroke="#ce4c5b" stroke-width="2.69"/>
<path d="M434.59,57.67 A60.9,60.9 0 0 1 436.11,59.29" fill="none" stroke="#ce4e5d" stroke-width="2.65"/>
<path d="M435.68,58.82 A60.9,60.9 0 0 1 437.17,60.49" fill="none" stroke="#ce505f" stroke-width="2.60"/>
<path d="M436.75,60.01 A60.9,60.9 0 0 1 438.19,61.71" fill="none" stroke="#ce5261" stroke-width="2.56"/>
<path d="M437.79,61.22 A60.9,60.9 0 0 1 439.19,62.96" fill="none" stroke="#cf5463" stroke-width="2.51"/>
<path d="M438.79,62.46 A60.9,60.9 0 0 1 440.14,64.23" fill="none" stroke="#cf5665" stroke-width="2.47"/>
<path d="M439.76,63.72 A60.9,60.9 0 0 1 441.07,65.53" fill="none" stroke="#cf5867" stroke-width="2.42"/>
<path d="M440.70,65.01 A60.9,60.9 0 0 1 441.96,66.85" fill="none" stroke="#d05e6c" stroke-width="2.35"/>
<path d="M441.61,66.32 A60.9,60.9 0 0 1 442.81,68.20" fill="none" stroke="#d26774" stroke-width="2.26"/>
<path d="M442.48,67.66 A60.9,60.9 0 0 1 443.63,69.57" fill="none" stroke="#d4707c" stroke-width="2.17"/>
<path d="M443.31,69.02 A60.9,60.9 0 0 1 444.42,70.95" fill="none" stroke="#d67985" stroke-width="2.08"/>
<path d="M444.11,70.40 A60.9,60.9 0 0 1 445.17,72.36" fill="none" stroke="#d8828d" stroke-width="1.98"/>
<path d="M444.87,71.80 A60.9,60.9 0 0 1 445.88,73.79" fill="none" stroke="#da8b95" stroke-width="1.89"/>
<path d="M445.60,73.22 A60.9,60.9 0 0 1 446.55,75.24" fill="none" stroke="#dc949e" stroke-width="1.80"/>
<path d="M446.28,74.66 A60.9,60.9 0 0 1 447.18,76.70" fill="none" stroke="#dd9da6" stroke-width="1.71"/>
<path d="M446.93,76.11 A60.9,60.9 0 0 1 447.78,78.18" fill="none" stroke="#dfa6ae" stroke-width="1.62"/>
<path d="M447.54,77.58 A60.9,60.9 0 0 1 448.34,79.67" fill="none" stroke="#deb2ba" stroke-width="1.54"/>
<path d="M448.12,79.07 A60.9,60.9 0 0 1 448.85,81.18" fill="none" stroke="#ddbec7" stroke-width="1.46"/>
<path d="M448.65,80.57 A60.9,60.9 0 0 1 449.33,82.70" fill="none" stroke="#dbcad4" stroke-width="1.39"/>
<path d="M449.14,82.09 A60.9,60.9 0 0 1 449.77,84.23" fill="none" stroke="#dad6e0" stroke-width="1.31"/>
<path d="M449.60,83.62 A60.9,60.9 0 0 1 450.17,85.78" fill="none" stroke="#d8e2ed" stroke-width="1.24"/>
<path d="M450.01,85.16 A60.9,60.9 0 0 1 450.52,87.33" fill="none" stroke="#d3e5f3" stroke-width="1.25"/>
<path d="M450.39,86.71 A60.9,60.9 0 0 1 450.84,88.89" fill="none" stroke="#cae1f2" stroke-width="1.35"/>
<path d="M450.72,88.27 A60.9,60.9 0 0 1 451.12,90.46" fill="none" stroke="#c2dcf0" stroke-width="1.45"/>
<path d="M451.01,89.83 A60.9,60.9 0 0 1 451.35,92.04" fill="none" stroke="#b9d8ef" stroke-width="1.55"/>
<path d="M451.26,91.41 A60.9,60.9 0 0 1 451.54,93.62" fill="none" stroke="#b0d3ee" stroke-width="1.65"/>
<path d="M451.47,92.99 A60.9,60.9 0 0 1 451.70,95.21" fill="none" stroke="#a7cfed" stroke-width="1.75"/>
<path d="M451.64,94.57 A60.9,60.9 0 0 1 451.81,96.80" fill="none" stroke="#9fcaeb" stroke-width="1.85"/>
<path d="M451.77,96.16 A60.9,60.9 0 0 1 451.87,98.39" fill="none" stroke="#96c6ea" stroke-width="1.95"/>
<path d="M451.85,97.76 A60.9,60.9 0 0 1 451.90,99.99" fill="none" stroke="#90c3e9" stroke-width="2.02"/>
<path d="M451.89,99.35 A60.9,60.9 0 0 1 451.88,101.58" fill="none" stroke="#8dc1e8" stroke-width="2.07"/>
<path d="M451.90,100.94 A60.9,60.9 0 0 1 451.83,103.17" fill="none" stroke="#8ac0e8" stroke-width="2.11"/>
<path d="M451.86,102.54 A60.9,60.9 0 0 1 451.73,104.77" fill="none" stroke="#88bee7" stroke-width="2.15"/>
<path d="M451.77,104.13 A60.9,60.9 0 0 1 451.59,106.35" fill="none" stroke="#85bce6" stroke-width="2.20"/>
<path d="M451.65,105.72 A60.9,60.9 0 0 1 451.41,107.94" fill="none" stroke="#82bbe6" stroke-width="2.24"/>
<path d="M451.48,107.31 A60.9,60.9 0 0 1 451.18,109.52" fill="none" stroke="#7fb9e5" stroke-width="2.29"/>
<path d="M451.28,108.89 A60.9,60.9 0 0 1 450.92,111.09" fill="none" stroke="#7cb8e4" stroke-width="2.33"/>
<path d="M451.03,110.46 A60.9,60.9 0 0 1 450.61,112.65" fill="none" stroke="#7ab6e4" stroke-width="2.38"/>
<path d="M450.74,112.03 A60.9,60.9 0 0 1 450.27,114.21" fill="none" stroke="#77b4e3" stroke-width="2.42"/>
<path d="M450.41,113.59 A60.9,60.9 0 0 1 449.88,115.76" fill="none" stroke="#74b3e2" stroke-width="2.46"/>
<path d="M450.04,115.14 A60.9,60.9 0 0 1 449.45,117.29" fill="none" stroke="#71b1e1" stroke-width="2.50"/>
<path d="M449.63,116.68 A60.9,60.9 0 0 1 448.98,118.82" fill="none" stroke="#71b0e1" stroke-width="2.52"/>
<path d="M449.18,118.21 A60.9,60.9 0 0 1 448.48,120.33" fill="none" stroke="#70afe0" stroke-width="2.53"/>
<path d="M448.69,119.73 A60.9,60.9 0 0 1 447.93,121.83" fill="none" stroke="#70aedf" stroke-width="2.54"/>
<path d="M448.15,121.23 A60.9,60.9 0 0 1 447.35,123.31" fill="none" stroke="#6faede" stroke-width="2.56"/>
<path d="M447.58,122.72 A60.9,60.9 0 0 1 446.72,124.78" fill="none" stroke="#6faddd" stroke-width="2.57"/>
<path d="M446.98,124.19 A60.9,60.9 0 0 1 446.06,126.23" fill="none" stroke="#6eacdc" stroke-width="2.58"/>
<path d="M446.33,125.65 A60.9,60.9 0 0 1 445.36,127.66" fill="none" stroke="#6eabdc" stroke-width="2.60"/>
<path d="M445.64,127.09 A60.9,60.9 0 0 1 444.62,129.07" fill="none" stroke="#6daadb" stroke-width="2.61"/>
<path d="M444.92,128.51 A60.9,60.9 0 0 1 443.85,130.47" fill="none" stroke="#6da9da" stroke-width="2.62"/>
<path d="M444.16,129.91 A60.9,60.9 0 0 1 443.04,131.84" fill="none" stroke="#6ca8d9" stroke-width="2.64"/>
<path d="M443.37,131.29 A60.9,60.9 0 0 1 442.19,133.19" fill="none" stroke="#6ba7d8" stroke-width="2.65"/>
<path d="M442.53,132.65 A60.9,60.9 0 0 1 441.31,134.52" fill="none" stroke="#6ba6d8" stroke-width="2.67"/>
<path d="M441.67,133.99 A60.9,60.9 0 0 1 440.39,135.82" fill="none" stroke="#6aa5d7" stroke-width="2.68"/>
<path d="M440.76,135.30 A60.9,60.9 0 0 1 439.44,137.10" fill="none" stroke="#6aa4d6" stroke-width="2.69"/>
<path d="M439.83,136.60 A60.9,60.9 0 0 1 438.46,138.36" fill="none" stroke="#69a2d3" stroke-width="2.71"/>
<path d="M438.86,137.86 A60.9,60.9 0 0 1 437.45,139.59" fill="none" stroke="#689ece" stroke-width="2.72"/>
<path d="M437.86,139.10 A60.9,60.9 0 0 1 436.40,140.79" fill="none" stroke="#679bca" stroke-width="2.74"/>
<path d="M436.82,140.31 A60.9,60.9 0 0 1 435.32,141.97" fill="none" stroke="#6698c5" stroke-width="2.75"/>
<path d="M435.76,141.50 A60.9,60.9 0 0 1 434.21,143.11" fill="none" stroke="#6494c0" stroke-width="2.76"/>
<path d="M434.66,142.66 A60.9,60.9 0 0 1 433.07,144.23" fill="none" stroke="#6391bc" stroke-width="2.78"/>
<path d="M433.53,143.79 A60.9,60.9 0 0 1 431.91,145.31" fill="none" stroke="#628db7" stroke-width="2.79"/>
<path d="M432.38,144.88 A60.9,60.9 0 0 1 430.71,146.37" fill="none" stroke="#618ab2" stroke-width="2.81"/>
<path d="M431.19,145.95 A60.9,60.9 0 0 1 429.49,147.39" fill="none" stroke="#6086ad" stroke-width="2.82"/>
<path d="M429.98,146.99 A60.9,60.9 0 0 1 428.24,148.39" fill="none" stroke="#5f83a9" stroke-width="2.84"/>
<path d="M428.74,147.99 A60.9,60.9 0 0 1 426.97,149.34" fill="none" stroke="#5e80a4" stroke-width="2.85"/>
<path d="M427.48,148.96 A60.9,60.9 0 0 1 425.67,150.27" fill="none" stroke="#5c7c9f" stroke-width="2.86"/>
<path d="M426.19,149.90 A60.9,60.9 0 0 1 424.35,151.16" fill="none" stroke="#5b799b" stroke-width="2.88"/>
<path d="M424.88,150.81 A60.9,60.9 0 0 1 423.00,152.01" fill="none" stroke="#5a7596" stroke-width="2.89"/>
<path d="M423.54,151.68 A60.9,60.9 0 0 1 421.63,152.83" fill="none" stroke="#597291" stroke-width="2.90"/>
<path d="M422.18,152.51 A60.9,60.9 0 0 1 420.25,153.62" fill="none" stroke="#576f8d" stroke-width="2.91"/>
<path d="M420.80,153.31 A60.9,60.9 0 0 1 418.84,154.37" fill="none" stroke="#566c89" stroke-width="2.92"/>
<path d="M419.40,154.07 A60.9,60.9 0 0 1 417.41,155.08" fill="none" stroke="#556985" stroke-width="2.93"/>
<path d="M417.98,154.80 A60.9,60.9 0 0 1 415.96,155.75" fill="none" stroke="#536680" stroke-width="2.94"/>
<path d="M416.54,155.48 A60.9,60.9 0 0 1 414.50,156.38" fill="none" stroke="#52637c" stroke-width="2.95"/>
<path d="M415.09,156.13 A60.9,60.9 0 0 1 413.02,156.98" fill="none" stroke="#506078" stroke-width="2.96"/>
<path d="M413.62,156.74 A60.9,60.9 0 0 1 411.53,157.54" fill="none" stroke="#4f5d74" stroke-width="2.97"/>
<path d="M412.13,157.32 A60.9,60.9 0 0 1 410.02,158.05" fill="none" stroke="#4e5a70" stroke-width="2.98"/>
<path d="M410.63,157.85 A60.9,60.9 0 0 1 408.50,158.53" fill="none" stroke="#4c576b" stroke-width="2.98"/>
<path d="M409.11,158.34 A60.9,60.9 0 0 1 406.97,158.97" fill="none" stroke="#4b5467" stroke-width="2.99"/>
<path d="M407.58,158.80 A60.9,60.9 0 0 1 405.42,159.37" fill="none" stroke="#4a5263" stroke-width="3.00"/>
<path d="M406.04,159.21 A60.9,60.9 0 0 1 403.87,159.72" fill="none" stroke="#4b5262" stroke-width="3.00"/>
<path d="M404.49,159.59 A60.9,60.9 0 0 1 402.31,160.04" fill="none" stroke="#4d5261" stroke-width="3.00"/>
<path d="M402.93,159.92 A60.9,60.9 0 0 1 400.74,160.32" fill="none" stroke="#4e5360" stroke-width="3.00"/>
<path d="M401.37,160.21 A60.9,60.9 0 0 1 399.16,160.55" fill="none" stroke="#4f535f" stroke-width="3.00"/>
<path d="M399.79,160.46 A60.9,60.9 0 0 1 397.58,160.74" fill="none" stroke="#51545e" stroke-width="3.00"/>
<path d="M398.21,160.67 A60.9,60.9 0 0 1 395.99,160.90" fill="none" stroke="#52545d" stroke-width="3.00"/>
<path d="M396.63,160.84 A60.9,60.9 0 0 1 394.40,161.01" fill="none" stroke="#54545c" stroke-width="3.00"/>
<path d="M395.04,160.97 A60.9,60.9 0 0 1 392.81,161.07" fill="none" stroke="#55555b" stroke-width="3.00"/>
<path d="M393.44,161.05 A60.9,60.9 0 0 1 391.21,161.10" fill="none" stroke="#56555a" stroke-width="3.00"/>
<path d="M391.85,161.09 A60.9,60.9 0 0 1 389.62,161.08" fill="none" stroke="#595659" stroke-width="3.00"/>
<path d="M390.26,161.10 A60.9,60.9 0 0 1 388.03,161.03" fill="none" stroke="#605957" stroke-width="2.97"/>
<path d="M388.66,161.06 A60.9,60.9 0 0 1 386.43,160.93" fill="none" stroke="#685d56" stroke-width="2.95"/>
<path d="M387.07,160.97 A60.9,60.9 0 0 1 384.85,160.79" fill="none" stroke="#6f6054" stroke-width="2.92"/>
<path d="M385.48,160.85 A60.9,60.9 0 0 1 383.26,160.61" fill="none" stroke="#776352" stroke-width="2.90"/>
<path d="M383.89,160.68 A60.9,60.9 0 0 1 381.68,160.38" fill="none" stroke="#7e6650" stroke-width="2.87"/>
<path d="M382.31,160.48 A60.9,60.9 0 0 1 380.11,160.12" fill="none" stroke="#866a4f" stroke-width="2.85"/>
<path d="M380.74,160.23 A60.9,60.9 0 0 1 378.55,159.81" fill="none" stroke="#8d6d4d" stroke-width="2.82"/>
<path d="M379.17,159.94 A60.9,60.9 0 0 1 376.99,159.47" fill="none" stroke="#94704b" stroke-width="2.80"/>
<path d="M377.61,159.61 A60.9,60.9 0 0 1 375.44,159.08" fill="none" stroke="#99724a" stroke-width="2.77"/>
<path d="M376.06,159.24 A60.9,60.9 0 0 1 373.91,158.65" fill="none" stroke="#9d7449" stroke-width="2.75"/>
<path d="M374.52,158.83 A60.9,60.9 0 0 1 372.38,158.18" fill="none" stroke="#a27648" stroke-width="2.73"/>
<path d="M372.99,158.38 A60.9,60.9 0 0 1 370.87,157.68" fill="none" stroke="#a77847" stroke-width="2.71"/>
<path d="M371.47,157.89 A60.9,60.9 0 0 1 369.37,157.13" fill="none" stroke="#ab7b46" stroke-width="2.69"/>
<path d="M369.97,157.35 A60.9,60.9 0 0 1 367.89,156.55" fill="none" stroke="#b07d45" stroke-width="2.67"/>
<path d="M368.48,156.78 A60.9,60.9 0 0 1 366.42,155.92" fill="none" stroke="#b57f44" stroke-width="2.65"/>
<path d="M367.01,156.18 A60.9,60.9 0 0 1 364.97,155.26" fill="none" stroke="#b98143" stroke-width="2.62"/>
<path d="M365.55,155.53 A60.9,60.9 0 0 1 363.54,154.56" fill="none" stroke="#be8342" stroke-width="2.60"/>
<path d="M364.11,154.84 A60.9,60.9 0 0 1 362.13,153.82" fill="none" stroke="#bf8441" stroke-width="2.59"/>
<path d="M362.69,154.12 A60.9,60.9 0 0 1 360.73,153.05" fill="none" stroke="#bf8441" stroke-width="2.58"/>
<path d="M361.29,153.36 A60.9,60.9 0 0 1 359.36,152.24" fill="none" stroke="#c08441" stroke-width="2.56"/>
<path d="M359.91,152.57 A60.9,60.9 0 0 1 358.01,151.39" fill="none" stroke="#c08540" stroke-width="2.55"/>
<path d="M358.55,151.73 A60.9,60.9 0 0 1 356.68,150.51" fill="none" stroke="#c18540" stroke-width="2.54"/>
<path d="M357.21,150.87 A60.9,60.9 0 0 1 355.38,149.59" fill="none" stroke="#c18540" stroke-width="2.52"/>
<path d="M355.90,149.96 A60.9,60.9 0 0 1 354.10,148.64" fill="none" stroke="#c28540" stroke-width="2.51"/>
<path d="M354.60,149.03 A60.9,60.9 0 0 1 352.84,147.66" fill="none" stroke="#c2863f" stroke-width="2.50"/>
<path d="M353.34,148.06 A60.9,60.9 0 0 1 351.61,146.65" fill="none" stroke="#c2863f" stroke-width="2.48"/>
<path d="M352.10,147.06 A60.9,60.9 0 0 1 350.41,145.60" fill="none" stroke="#c3863f" stroke-width="2.47"/>
<path d="M350.89,146.02 A60.9,60.9 0 0 1 349.23,144.52" fill="none" stroke="#c3863f" stroke-width="2.46"/>
<path d="M349.70,144.96 A60.9,60.9 0 0 1 348.09,143.41" fill="none" stroke="#c4873e" stroke-width="2.44"/>
<path d="M348.54,143.86 A60.9,60.9 0 0 1 346.97,142.27" fill="none" stroke="#c4873e" stroke-width="2.43"/>
<path d="M347.41,142.73 A60.9,60.9 0 0 1 345.89,141.11" fill="none" stroke="#c5873e" stroke-width="2.42"/>
<path d="M346.32,141.58 A60.9,60.9 0 0 1 344.83,139.91" fill="none" stroke="#c5873e" stroke-width="2.40"/>
<path d="M345.25,140.39 A60.9,60.9 0 0 1 343.81,138.69" fill="none" stroke="#c5883d" stroke-width="2.39"/>
<path d="M344.21,139.18 A60.9,60.9 0 0 1 342.81,137.44" fill="none" stroke="#c6883d" stroke-width="2.38"/>
<path d="M343.21,137.94 A60.9,60.9 0 0 1 341.86,136.17" fill="none" stroke="#c6883d" stroke-width="2.36"/>
<path d="M342.24,136.68 A60.9,60.9 0 0 1 340.93,134.87" fill="none" stroke="#c7883d" stroke-width="2.35"/>
<path d="M341.30,135.39 A60.9,60.9 0 0 1 340.04,133.55" fill="none" stroke="#c7893c" stroke-width="2.34"/>
<path d="M340.39,134.08 A60.9,60.9 0 0 1 339.19,132.20" fill="none" stroke="#c8893c" stroke-width="2.32"/>
<path d="M339.52,132.74 A60.9,60.9 0 0 1 338.37,130.83" fill="none" stroke="#c8893c" stroke-width="2.31"/>
<path d="M338.69,131.38 A60.9,60.9 0 0 1 337.58,129.45" fill="none" stroke="#c98a3c" stroke-width="2.30"/>
<path d="M337.89,130.00 A60.9,60.9 0 0 1 336.83,128.04" fill="none" stroke="#c98a3c" stroke-width="2.28"/>
<path d="M337.13,128.60 A60.9,60.9 0 0 1 336.12,126.61" fill="none" stroke="#c98a3c" stroke-width="2.26"/>
<path d="M336.40,127.18 A60.9,60.9 0 0 1 335.45,125.16" fill="none" stroke="#c98a3c" stroke-width="2.25"/>
<path d="M335.72,125.74 A60.9,60.9 0 0 1 334.82,123.70" fill="none" stroke="#ca8b3d" stroke-width="2.23"/>
<path d="M335.07,124.29 A60.9,60.9 0 0 1 334.22,122.22" fill="none" stroke="#ca8b3d" stroke-width="2.21"/>
<path d="M334.46,122.82 A60.9,60.9 0 0 1 333.66,120.73" fill="none" stroke="#ca8b3d" stroke-width="2.19"/>
<path d="M333.88,121.33 A60.9,60.9 0 0 1 333.15,119.22" fill="none" stroke="#cb8b3d" stroke-width="2.18"/>
<path d="M333.35,119.83 A60.9,60.9 0 0 1 332.67,117.70" fill="none" stroke="#cb8c3e" stroke-width="2.16"/>
<path d="M332.86,118.31 A60.9,60.9 0 0 1 332.23,116.17" fill="none" stroke="#cb8c3e" stroke-width="2.14"/>
<path d="M332.40,116.78 A60.9,60.9 0 0 1 331.83,114.62" fill="none" stroke="#cc8c3e" stroke-width="2.13"/>
<path d="M331.99,115.24 A60.9,60.9 0 0 1 331.48,113.07" fill="none" stroke="#cc8c3e" stroke-width="2.11"/>
<path d="M331.61,113.69 A60.9,60.9 0 0 1 331.16,111.51" fill="none" stroke="#cc8d3f" stroke-width="2.09"/>
<path d="M331.28,112.13 A60.9,60.9 0 0 1 330.88,109.94" fill="none" stroke="#cc8d3f" stroke-width="2.07"/>
<path d="M330.99,110.57 A60.9,60.9 0 0 1 330.65,108.36" fill="none" stroke="#cd8d3f" stroke-width="2.06"/>
<path d="M330.74,108.99 A60.9,60.9 0 0 1 330.46,106.78" fill="none" stroke="#cd8d3f" stroke-width="2.04"/>
<path d="M330.53,107.41 A60.9,60.9 0 0 1 330.30,105.19" fill="none" stroke="#cd8e40" stroke-width="2.02"/>
<path d="M330.36,105.83 A60.9,60.9 0 0 1 330.19,103.60" fill="none" stroke="#ce8e40" stroke-width="2.01"/>
<path d="M330.23,104.24 A60.9,60.9 0 0 1 330.13,102.01" fill="none" stroke="#ce8e40" stroke-width="1.99"/>
<path d="M330.15,102.64 A60.9,60.9 0 0 1 330.10,100.41" fill="none" stroke="#ce8e40" stroke-width="1.97"/>
<path d="M330.11,101.05 A60.9,60.9 0 0 1 330.12,98.82" fill="none" stroke="#cf8f41" stroke-width="1.95"/>
<path d="M330.10,99.46 A60.9,60.9 0 0 1 330.17,97.23" fill="none" stroke="#cf8f41" stroke-width="1.94"/>
<path d="M330.14,97.86 A60.9,60.9 0 0 1 330.27,95.63" fill="none" stroke="#cf8f41" stroke-width="1.92"/>
<path d="M330.23,96.27 A60.9,60.9 0 0 1 330.41,94.05" fill="none" stroke="#cf8f41" stroke-width="1.90"/>
<path d="M330.35,94.68 A60.9,60.9 0 0 1 330.59,92.46" fill="none" stroke="#d09143" stroke-width="1.87"/>
<path d="M330.52,93.09 A60.9,60.9 0 0 1 330.82,90.88" fill="none" stroke="#d09246" stroke-width="1.83"/>
<path d="M330.72,91.51 A60.9,60.9 0 0 1 331.08,89.31" fill="none" stroke="#d19348" stroke-width="1.80"/>
<path d="M330.97,89.94 A60.9,60.9 0 0 1 331.39,87.75" fill="none" stroke="#d1944a" stroke-width="1.76"/>
<path d="M331.26,88.37 A60.9,60.9 0 0 1 331.73,86.19" fill="none" stroke="#d2954d" stroke-width="1.73"/>
<path d="M331.59,86.81 A60.9,60.9 0 0 1 332.12,84.64" fill="none" stroke="#d2974f" stroke-width="1.69"/>
<path d="M331.96,85.26 A60.9,60.9 0 0 1 332.55,83.11" fill="none" stroke="#d39851" stroke-width="1.65"/>
<path d="M332.37,83.72 A60.9,60.9 0 0 1 333.02,81.58" fill="none" stroke="#d39953" stroke-width="1.62"/>
<path d="M332.82,82.19 A60.9,60.9 0 0 1 333.52,80.07" fill="none" stroke="#d49a56" stroke-width="1.58"/>
<path d="M333.31,80.67 A60.9,60.9 0 0 1 334.07,78.57" fill="none" stroke="#d49b58" stroke-width="1.55"/>
<path d="M333.85,79.17 A60.9,60.9 0 0 1 334.65,77.09" fill="none" stroke="#d59d5a" stroke-width="1.51"/>
<path d="M334.42,77.68 A60.9,60.9 0 0 1 335.28,75.62" fill="none" stroke="#d59e5c" stroke-width="1.47"/>
<path d="M335.02,76.21 A60.9,60.9 0 0 1 335.94,74.17" fill="none" stroke="#d69f5f" stroke-width="1.44"/>
<path d="M335.67,74.75 A60.9,60.9 0 0 1 336.64,72.74" fill="none" stroke="#d6a061" stroke-width="1.40"/>
<path d="M336.36,73.31 A60.9,60.9 0 0 1 337.38,71.33" fill="none" stroke="#d7a163" stroke-width="1.37"/>
<path d="M337.08,71.89 A60.9,60.9 0 0 1 338.15,69.93" fill="none" stroke="#d7a366" stroke-width="1.33"/>
<path d="M337.84,70.49 A60.9,60.9 0 0 1 338.96,68.56" fill="none" stroke="#d8a468" stroke-width="1.29"/>
<path d="M338.63,69.11 A60.9,60.9 0 0 1 339.81,67.21" fill="none" stroke="#d9a76d" stroke-width="1.26"/>
<path d="M339.47,67.75 A60.9,60.9 0 0 1 340.69,65.88" fill="none" stroke="#daa972" stroke-width="1.22"/>
<path d="M340.33,66.41 A60.9,60.9 0 0 1 341.61,64.58" fill="none" stroke="#dbac77" stroke-width="1.18"/>
<path d="M341.24,65.10 A60.9,60.9 0 0 1 342.56,63.30" fill="none" stroke="#dcaf7c" stroke-width="1.14"/>
<path d="M342.17,63.80 A60.9,60.9 0 0 1 343.54,62.04" fill="none" stroke="#ddb181" stroke-width="1.11"/>
<path d="M343.14,62.54 A60.9,60.9 0 0 1 344.55,60.81" fill="none" stroke="#deb486" stroke-width="1.07"/>
<path d="M344.14,61.30 A60.9,60.9 0 0 1 345.60,59.61" fill="none" stroke="#dfb78b" stroke-width="1.03"/>
<path d="M345.18,60.09 A60.9,60.9 0 0 1 346.68,58.43" fill="none" stroke="#e0ba90" stroke-width="0.99"/>
<path d="M346.24,58.90 A60.9,60.9 0 0 1 347.79,57.29" fill="none" stroke="#e1bc95" stroke-width="0.96"/>
<path d="M347.34,57.74 A60.9,60.9 0 0 1 348.93,56.17" fill="none" stroke="#e2bf9a" stroke-width="0.92"/>
<path d="M348.47,56.61 A60.9,60.9 0 0 1 350.09,55.09" fill="none" stroke="#e3c29f" stroke-width="0.88"/>
<path d="M349.62,55.52 A60.9,60.9 0 0 1 351.29,54.03" fill="none" stroke="#e4c4a4" stroke-width="0.84"/>
<path d="M350.81,54.45 A60.9,60.9 0 0 1 352.51,53.01" fill="none" stroke="#e5c7a9" stroke-width="0.81"/>
<path d="M352.02,53.41 A60.9,60.9 0 0 1 353.76,52.01" fill="none" stroke="#e5c5a9" stroke-width="0.81"/>
<path d="M353.26,52.41 A60.9,60.9 0 0 1 355.03,51.06" fill="none" stroke="#e5c2a8" stroke-width="0.82"/>
<path d="M354.52,51.44 A60.9,60.9 0 0 1 356.33,50.13" fill="none" stroke="#e4c0a7" stroke-width="0.83"/>
<path d="M355.81,50.50 A60.9,60.9 0 0 1 357.65,49.24" fill="none" stroke="#e3bda6" stroke-width="0.83"/>
<path d="M357.12,49.59 A60.9,60.9 0 0 1 359.00,48.39" fill="none" stroke="#e3baa5" stroke-width="0.84"/>
<path d="M358.46,48.72 A60.9,60.9 0 0 1 360.37,47.57" fill="none" stroke="#e2b7a4" stroke-width="0.85"/>
<path d="M359.82,47.89 A60.9,60.9 0 0 1 361.75,46.78" fill="none" stroke="#e2b4a3" stroke-width="0.86"/>
<path d="M361.20,47.09 A60.9,60.9 0 0 1 363.16,46.03" fill="none" stroke="#e1b1a3" stroke-width="0.87"/>
<path d="M362.60,46.33 A60.9,60.9 0 0 1 364.59,45.32" fill="none" stroke="#e1afa2" stroke-width="0.88"/>
<path d="M364.02,45.60 A60.9,60.9 0 0 1 366.04,44.65" fill="none" stroke="#e0aca1" stroke-width="0.89"/>
<path d="M365.46,44.92 A60.9,60.9 0 0 1 367.50,44.02" fill="none" stroke="#e0a9a0" stroke-width="0.90"/>
<polyline points="389.40,81.60 409.00,106.17 380.68,119.81 373.69,89.50 405.11,89.50 398.12,119.81 369.80,106.17 389.40,81.60" fill="none" stroke="#231f20" stroke-width="0.75" stroke-linejoin="miter"/>
<circle cx="389.40" cy="81.60" r="0.95" fill="#111"/>
<circle cx="405.11" cy="89.17" r="0.95" fill="#111"/>
<circle cx="409.00" cy="106.17" r="0.95" fill="#111"/>
<circle cx="398.12" cy="119.81" r="0.95" fill="#111"/>
<circle cx="380.68" cy="119.81" r="0.95" fill="#111"/>
<circle cx="369.80" cy="106.17" r="0.95" fill="#111"/>
<circle cx="373.69" cy="89.17" r="0.95" fill="#111"/>
<text x="360.40" y="63.00" font-size="4.6" text-anchor="start" fill="#111" font-weight="bold" stroke="#111" stroke-width="0.18" textLength="24.1" lengthAdjust="spacingAndGlyphs">cc-hTpoR VI</text>
<text x="392.50" y="62.70" font-size="4.6" text-anchor="start" fill="#4a4a4a" stroke="#4a4a4a" stroke-width="0.0001" textLength="14.7" lengthAdjust="spacingAndGlyphs">Phe517</text>
<text x="391.10" y="68.00" font-size="4.6" text-anchor="start" fill="#4a4a4a" stroke="#4a4a4a" stroke-width="0.0001" textLength="14.4" lengthAdjust="spacingAndGlyphs">Leu510</text>
<text x="389.30" y="73.20" font-size="4.6" text-anchor="start" fill="#4a4a4a" stroke="#4a4a4a" stroke-width="0.0001" textLength="14.2" lengthAdjust="spacingAndGlyphs">Gly503</text>
<text x="387.90" y="78.20" font-size="4.6" text-anchor="start" fill="#4a4a4a" stroke="#4a4a4a" stroke-width="0.0001" textLength="13.8" lengthAdjust="spacingAndGlyphs">Thr496</text>
<text x="350.00" y="73.90" font-size="4.6" text-anchor="start" fill="#4a4a4a" stroke="#4a4a4a" stroke-width="0.0001" textLength="14.3" lengthAdjust="spacingAndGlyphs">Leu513</text>
<text x="353.00" y="79.00" font-size="4.6" text-anchor="start" fill="#4a4a4a" stroke="#4a4a4a" stroke-width="0.0001" textLength="14" lengthAdjust="spacingAndGlyphs">Ala506</text>
<text x="357.20" y="83.90" font-size="4.6" text-anchor="start" fill="#4a4a4a" stroke="#4a4a4a" stroke-width="0.0001" textLength="13.6" lengthAdjust="spacingAndGlyphs">His499</text>
<text x="359.80" y="88.80" font-size="4.6" text-anchor="start" fill="#4a4a4a" stroke="#4a4a4a" stroke-width="0.0001" textLength="12.2" lengthAdjust="spacingAndGlyphs">Ser492</text>
<text x="338.00" y="96.60" font-size="4.6" text-anchor="start" fill="#111" font-weight="bold" stroke="#111" stroke-width="0.18" textLength="21.8" lengthAdjust="spacingAndGlyphs">cc-hTpoR II</text>
<text x="411.20" y="68.40" font-size="4.6" text-anchor="start" fill="#111" font-weight="bold" stroke="#111" stroke-width="0.18" textLength="24.3" lengthAdjust="spacingAndGlyphs">cc-hTpoR III</text>
<text x="410.00" y="74.35" font-size="4.6" text-anchor="start" fill="#4a4a4a" stroke="#4a4a4a" stroke-width="0.0001" textLength="15" lengthAdjust="spacingAndGlyphs">Arg514</text>
<text x="409.00" y="79.35" font-size="4.6" text-anchor="start" fill="#4a4a4a" stroke="#4a4a4a" stroke-width="0.0001" textLength="13.5" lengthAdjust="spacingAndGlyphs">Val507</text>
<text x="406.90" y="84.70" font-size="4.6" text-anchor="start" fill="#4a4a4a" stroke="#4a4a4a" stroke-width="0.0001" textLength="15.0" lengthAdjust="spacingAndGlyphs">Leu500</text>
<text x="406.90" y="89.70" font-size="4.6" text-anchor="start" fill="#4a4a4a" stroke="#4a4a4a" stroke-width="0.0001" textLength="13.7" lengthAdjust="spacingAndGlyphs">Ser493</text>
<text x="416.60" y="98.80" font-size="4.6" text-anchor="start" fill="#111" font-weight="bold" stroke="#111" stroke-width="0.18" textLength="22.9" lengthAdjust="spacingAndGlyphs">cc-hTpoR 0</text>
<text x="411.00" y="107.85" font-size="4.6" text-anchor="start" fill="#4a4a4a" stroke="#4a4a4a" stroke-width="0.0001" textLength="13.4" lengthAdjust="spacingAndGlyphs">Ala497</text>
<text x="413.00" y="113.50" font-size="4.6" text-anchor="start" fill="#4a4a4a" stroke="#4a4a4a" stroke-width="0.0001" textLength="15" lengthAdjust="spacingAndGlyphs">Leu504</text>
<text x="416.00" y="118.20" font-size="4.6" text-anchor="start" fill="#4a4a4a" stroke="#4a4a4a" stroke-width="0.0001" textLength="14" lengthAdjust="spacingAndGlyphs">Leu511</text>
<text x="418.50" y="123.20" font-size="4.6" text-anchor="start" fill="#4a4a4a" stroke="#4a4a4a" stroke-width="0.0001" textLength="14.1" lengthAdjust="spacingAndGlyphs">Pro518</text>
<text x="355.00" y="107.20" font-size="4.6" text-anchor="start" fill="#4a4a4a" stroke="#4a4a4a" stroke-width="0.0001" textLength="12.75" lengthAdjust="spacingAndGlyphs">Val495</text>
<text x="351.25" y="113.10" font-size="4.6" text-anchor="start" fill="#4a4a4a" stroke="#4a4a4a" stroke-width="0.0001" textLength="14.35" lengthAdjust="spacingAndGlyphs">Leu502</text>
<text x="348.00" y="117.85" font-size="4.6" text-anchor="start" fill="#4a4a4a" stroke="#4a4a4a" stroke-width="0.0001" textLength="14" lengthAdjust="spacingAndGlyphs">Gly509</text>
<text x="345.00" y="123.10" font-size="4.6" text-anchor="start" fill="#4a4a4a" stroke="#4a4a4a" stroke-width="0.0001" textLength="13.75" lengthAdjust="spacingAndGlyphs">Gln516</text>
<text x="339.80" y="130.40" font-size="4.6" text-anchor="start" fill="#111" font-weight="bold" stroke="#111" stroke-width="0.18" textLength="23.4" lengthAdjust="spacingAndGlyphs">cc-hTpoR V</text>
<text x="369.40" y="126.60" font-size="4.6" text-anchor="start" fill="#4a4a4a" stroke="#4a4a4a" stroke-width="0.0001" textLength="14.35" lengthAdjust="spacingAndGlyphs">Leu498</text>
<text x="366.25" y="131.60" font-size="4.6" text-anchor="start" fill="#4a4a4a" stroke="#4a4a4a" stroke-width="0.0001" textLength="13.75" lengthAdjust="spacingAndGlyphs">Ser505</text>
<text x="364.00" y="136.85" font-size="4.6" text-anchor="start" fill="#4a4a4a" stroke="#4a4a4a" stroke-width="0.0001" textLength="15" lengthAdjust="spacingAndGlyphs">Leu512</text>
<text x="379.00" y="144.40" font-size="4.6" text-anchor="start" fill="#111" font-weight="bold" stroke="#111" stroke-width="0.18" textLength="22.0" lengthAdjust="spacingAndGlyphs">cc-hTpoR I</text>
<text x="397.30" y="124.70" font-size="4.6" text-anchor="start" fill="#4a4a4a" stroke="#4a4a4a" stroke-width="0.0001" textLength="13.7" lengthAdjust="spacingAndGlyphs">Leu494</text>
<text x="399.40" y="130.50" font-size="4.6" text-anchor="start" fill="#4a4a4a" stroke="#4a4a4a" stroke-width="0.0001" textLength="12.3" lengthAdjust="spacingAndGlyphs">Val501</text>
<text x="400.90" y="135.80" font-size="4.6" text-anchor="start" fill="#4a4a4a" stroke="#4a4a4a" stroke-width="0.0001" textLength="14.7" lengthAdjust="spacingAndGlyphs">Leu508</text>
<text x="406.60" y="140.60" font-size="4.6" text-anchor="start" fill="#4a4a4a" stroke="#4a4a4a" stroke-width="0.0001" textLength="13.8" lengthAdjust="spacingAndGlyphs">Trp515</text>
<text x="415.60" y="130.40" font-size="4.6" text-anchor="start" fill="#111" font-weight="bold" stroke="#111" stroke-width="0.18" textLength="24.8" lengthAdjust="spacingAndGlyphs">cc-hTpoR IV</text>
<text x="7.60" y="250.40" font-size="12.2" text-anchor="start" fill="#111" font-weight="bold">D</text>
<line x1="34.50" y1="272.30" x2="34.50" y2="364.30" stroke="#231f20" stroke-width="1.1"/>
<line x1="31.40" y1="363.50" x2="34.20" y2="363.50" stroke="#231f20" stroke-width="0.9"/>
<text x="28.30" y="366.30" font-size="7.2" text-anchor="end" fill="#2a2a2a" stroke="#2a2a2a" stroke-width="0.08">0</text>
<line x1="31.40" y1="334.50" x2="34.20" y2="334.50" stroke="#231f20" stroke-width="0.9"/>
<text x="28.30" y="336.80" font-size="7.2" text-anchor="end" fill="#2a2a2a" stroke="#2a2a2a" stroke-width="0.08">2</text>
<line x1="31.40" y1="304.50" x2="34.20" y2="304.50" stroke="#231f20" stroke-width="0.9"/>
<text x="28.30" y="307.30" font-size="7.2" text-anchor="end" fill="#2a2a2a" stroke="#2a2a2a" stroke-width="0.08">4</text>
<line x1="31.40" y1="275.50" x2="34.20" y2="275.50" stroke="#231f20" stroke-width="0.9"/>
<text x="28.30" y="277.80" font-size="7.2" text-anchor="end" fill="#2a2a2a" stroke="#2a2a2a" stroke-width="0.08">6</text>
<line x1="33.80" y1="363.50" x2="79.00" y2="363.50" stroke="#231f20" stroke-width="0.9"/>
<rect x="40.20" y="349.79" width="9.80" height="14.01" fill="#c9c9cb"/>
<line x1="45.10" y1="363.80" x2="45.10" y2="366.00" stroke="#231f20" stroke-width="0.7"/>
<line x1="45.50" y1="349.79" x2="45.50" y2="348.31" stroke="#231f20" stroke-width="0.8"/>
<line x1="43.60" y1="348.50" x2="46.60" y2="348.50" stroke="#231f20" stroke-width="0.8"/>
<circle cx="43.85" cy="350.60" r="0.7" fill="#231f20"/>
<circle cx="42.61" cy="351.24" r="0.7" fill="#231f20"/>
<circle cx="44.96" cy="350.08" r="0.7" fill="#231f20"/>
<circle cx="44.88" cy="350.77" r="0.7" fill="#231f20"/>
<circle cx="47.35" cy="349.96" r="0.7" fill="#231f20"/>
<circle cx="44.97" cy="350.44" r="0.7" fill="#231f20"/>
<circle cx="47.60" cy="349.49" r="0.7" fill="#231f20"/>
<circle cx="46.74" cy="351.15" r="0.7" fill="#231f20"/>
<rect x="51.70" y="301.56" width="10.10" height="62.25" fill="#2aa6df"/>
<line x1="56.75" y1="363.80" x2="56.75" y2="366.00" stroke="#231f20" stroke-width="0.7"/>
<line x1="56.50" y1="301.56" x2="56.50" y2="290.49" stroke="#231f20" stroke-width="0.8"/>
<line x1="55.25" y1="290.50" x2="58.25" y2="290.50" stroke="#231f20" stroke-width="0.8"/>
<circle cx="56.52" cy="295.57" r="0.7" fill="#231f20"/>
<circle cx="54.89" cy="306.37" r="0.7" fill="#231f20"/>
<circle cx="57.98" cy="311.70" r="0.7" fill="#231f20"/>
<circle cx="59.23" cy="295.85" r="0.7" fill="#231f20"/>
<circle cx="54.58" cy="296.21" r="0.7" fill="#231f20"/>
<circle cx="54.56" cy="306.08" r="0.7" fill="#231f20"/>
<circle cx="59.26" cy="310.40" r="0.7" fill="#231f20"/>
<circle cx="55.04" cy="309.63" r="0.7" fill="#231f20"/>
<rect x="62.90" y="309.52" width="10.30" height="54.28" fill="#c61a30"/>
<line x1="68.05" y1="363.80" x2="68.05" y2="366.00" stroke="#231f20" stroke-width="0.7"/>
<line x1="68.50" y1="309.52" x2="68.50" y2="300.67" stroke="#231f20" stroke-width="0.8"/>
<line x1="66.55" y1="300.50" x2="69.55" y2="300.50" stroke="#231f20" stroke-width="0.8"/>
<circle cx="66.74" cy="308.16" r="0.7" fill="#231f20"/>
<circle cx="69.65" cy="302.19" r="0.7" fill="#231f20"/>
<circle cx="65.20" cy="315.43" r="0.7" fill="#231f20"/>
<circle cx="66.59" cy="306.98" r="0.7" fill="#231f20"/>
<circle cx="68.61" cy="312.63" r="0.7" fill="#231f20"/>
<circle cx="64.60" cy="306.60" r="0.7" fill="#231f20"/>
<circle cx="67.60" cy="309.27" r="0.7" fill="#231f20"/>
<circle cx="66.02" cy="311.03" r="0.7" fill="#231f20"/>
<polyline points="44.50,345.00 44.50,256.50 68.50,256.50 68.50,273.30" fill="none" stroke="#2a2a2a" stroke-width="0.8"/>
<rect x="51.13" y="253.04" width="1.70" height="1.53" rx="0.3" fill="#303030"/>
<rect x="54.18" y="253.04" width="1.70" height="1.53" rx="0.3" fill="#303030"/>
<rect x="57.23" y="253.04" width="1.70" height="1.53" rx="0.3" fill="#303030"/>
<rect x="60.28" y="253.04" width="1.70" height="1.53" rx="0.3" fill="#303030"/>
<polyline points="44.50,345.00 44.50,269.50 56.50,269.50 56.50,273.00" fill="none" stroke="#2a2a2a" stroke-width="0.8"/>
<rect x="45.02" y="266.04" width="1.70" height="1.53" rx="0.3" fill="#303030"/>
<rect x="48.07" y="266.04" width="1.70" height="1.53" rx="0.3" fill="#303030"/>
<rect x="51.12" y="266.04" width="1.70" height="1.53" rx="0.3" fill="#303030"/>
<rect x="54.17" y="266.04" width="1.70" height="1.53" rx="0.3" fill="#303030"/>
<polyline points="56.50,286.50 56.50,283.50 68.50,283.50 68.50,296.50" fill="none" stroke="#2a2a2a" stroke-width="0.8"/>
<text x="62.30" y="281.90" font-size="6.1" text-anchor="middle" fill="#3a3a3a" stroke="#3a3a3a" stroke-width="0.08">ns</text>
<text transform="translate(18.40,318.20) rotate(-90)" font-size="8.0" text-anchor="middle" fill="#3a3a3a" stroke="#3a3a3a" stroke-width="0.08" textLength="64.3" lengthAdjust="spacingAndGlyphs">Relative JAK2 mRNA</text>
<text transform="translate(48.60,372.80) rotate(-45)" font-size="6.6" text-anchor="end" fill="#2a2a2a" stroke="#2a2a2a" stroke-width="0.08">Parental</text>
<text transform="translate(59.60,372.80) rotate(-45)" font-size="6.6" text-anchor="end" fill="#2a2a2a" stroke="#2a2a2a" stroke-width="0.08">hJAK2 WT</text>
<text transform="translate(71.40,372.80) rotate(-45)" font-size="6.5" text-anchor="end" fill="#2a2a2a" stroke="#2a2a2a" stroke-width="0.08">hJAK2 V617F</text>
<text x="7.20" y="429.90" font-size="12.2" text-anchor="start" fill="#111" font-weight="bold">G</text>
<line x1="33.50" y1="452.55" x2="33.50" y2="544.50" stroke="#231f20" stroke-width="1.1"/>
<line x1="30.80" y1="544.50" x2="33.60" y2="544.50" stroke="#231f20" stroke-width="0.9"/>
<text x="27.70" y="546.50" font-size="7.2" text-anchor="end" fill="#2a2a2a" stroke="#2a2a2a" stroke-width="0.08">0</text>
<line x1="30.80" y1="514.50" x2="33.60" y2="514.50" stroke="#231f20" stroke-width="0.9"/>
<text x="27.70" y="516.85" font-size="7.2" text-anchor="end" fill="#2a2a2a" stroke="#2a2a2a" stroke-width="0.08">5</text>
<line x1="30.80" y1="484.50" x2="33.60" y2="484.50" stroke="#231f20" stroke-width="0.9"/>
<text x="27.70" y="487.20" font-size="7.2" text-anchor="end" fill="#2a2a2a" stroke="#2a2a2a" stroke-width="0.08">10</text>
<line x1="30.80" y1="455.50" x2="33.60" y2="455.50" stroke="#231f20" stroke-width="0.9"/>
<text x="27.70" y="457.55" font-size="7.2" text-anchor="end" fill="#2a2a2a" stroke="#2a2a2a" stroke-width="0.08">15</text>
<line x1="33.20" y1="544.50" x2="79.20" y2="544.50" stroke="#231f20" stroke-width="0.9"/>
<rect x="40.00" y="538.66" width="11.80" height="5.34" fill="#c9c9cb"/>
<line x1="45.90" y1="544.00" x2="45.90" y2="546.20" stroke="#231f20" stroke-width="0.7"/>
<line x1="45.50" y1="538.66" x2="45.50" y2="537.18" stroke="#231f20" stroke-width="0.8"/>
<line x1="44.40" y1="537.50" x2="47.40" y2="537.50" stroke="#231f20" stroke-width="0.8"/>
<circle cx="49.09" cy="538.34" r="0.7" fill="#231f20"/>
<circle cx="46.21" cy="537.53" r="0.7" fill="#231f20"/>
<circle cx="44.32" cy="539.15" r="0.7" fill="#231f20"/>
<circle cx="43.19" cy="539.81" r="0.7" fill="#231f20"/>
<circle cx="48.76" cy="537.47" r="0.7" fill="#231f20"/>
<circle cx="48.99" cy="538.29" r="0.7" fill="#231f20"/>
<circle cx="47.81" cy="539.43" r="0.7" fill="#231f20"/>
<circle cx="44.47" cy="539.18" r="0.7" fill="#231f20"/>
<rect x="53.50" y="502.19" width="11.30" height="41.81" fill="#2aa6df"/>
<line x1="59.15" y1="544.00" x2="59.15" y2="546.20" stroke="#231f20" stroke-width="0.7"/>
<line x1="59.50" y1="502.19" x2="59.50" y2="493.00" stroke="#231f20" stroke-width="0.8"/>
<line x1="57.65" y1="493.50" x2="60.65" y2="493.50" stroke="#231f20" stroke-width="0.8"/>
<circle cx="60.23" cy="507.82" r="0.7" fill="#231f20"/>
<circle cx="57.51" cy="506.87" r="0.7" fill="#231f20"/>
<circle cx="62.38" cy="505.37" r="0.7" fill="#231f20"/>
<circle cx="59.40" cy="495.08" r="0.7" fill="#231f20"/>
<circle cx="59.11" cy="499.48" r="0.7" fill="#231f20"/>
<circle cx="60.68" cy="505.48" r="0.7" fill="#231f20"/>
<circle cx="59.61" cy="496.35" r="0.7" fill="#231f20"/>
<circle cx="60.17" cy="504.60" r="0.7" fill="#231f20"/>
<rect x="66.50" y="502.79" width="11.30" height="41.21" fill="#c61a30"/>
<line x1="72.15" y1="544.00" x2="72.15" y2="546.20" stroke="#231f20" stroke-width="0.7"/>
<line x1="72.50" y1="502.79" x2="72.50" y2="498.93" stroke="#231f20" stroke-width="0.8"/>
<line x1="70.65" y1="498.50" x2="73.65" y2="498.50" stroke="#231f20" stroke-width="0.8"/>
<circle cx="69.90" cy="505.79" r="0.7" fill="#231f20"/>
<circle cx="73.24" cy="499.88" r="0.7" fill="#231f20"/>
<circle cx="75.17" cy="500.02" r="0.7" fill="#231f20"/>
<circle cx="70.97" cy="504.49" r="0.7" fill="#231f20"/>
<circle cx="72.83" cy="503.21" r="0.7" fill="#231f20"/>
<circle cx="73.18" cy="502.46" r="0.7" fill="#231f20"/>
<circle cx="70.84" cy="500.29" r="0.7" fill="#231f20"/>
<circle cx="69.13" cy="504.45" r="0.7" fill="#231f20"/>
<polyline points="45.50,462.00 45.50,459.50 71.50,459.50 71.50,475.80" fill="none" stroke="#2a2a2a" stroke-width="0.8"/>
<rect x="53.12" y="455.24" width="1.70" height="1.53" rx="0.3" fill="#303030"/>
<rect x="56.17" y="455.24" width="1.70" height="1.53" rx="0.3" fill="#303030"/>
<rect x="59.22" y="455.24" width="1.70" height="1.53" rx="0.3" fill="#303030"/>
<rect x="62.27" y="455.24" width="1.70" height="1.53" rx="0.3" fill="#303030"/>
<polyline points="45.50,533.00 45.50,471.50 58.50,471.50 58.50,475.00" fill="none" stroke="#2a2a2a" stroke-width="0.8"/>
<rect x="46.48" y="467.24" width="1.70" height="1.53" rx="0.3" fill="#303030"/>
<rect x="49.52" y="467.24" width="1.70" height="1.53" rx="0.3" fill="#303030"/>
<rect x="52.58" y="467.24" width="1.70" height="1.53" rx="0.3" fill="#303030"/>
<rect x="55.62" y="467.24" width="1.70" height="1.53" rx="0.3" fill="#303030"/>
<polyline points="58.50,490.50 58.50,485.50 71.50,485.50 71.50,493.50" fill="none" stroke="#2a2a2a" stroke-width="0.8"/>
<text x="65.15" y="483.50" font-size="6.1" text-anchor="middle" fill="#3a3a3a" stroke="#3a3a3a" stroke-width="0.08">ns</text>
<text transform="translate(15.40,498.30) rotate(-90)" font-size="8.0" text-anchor="middle" fill="#3a3a3a" stroke="#3a3a3a" stroke-width="0.08" textLength="64.6" lengthAdjust="spacingAndGlyphs">Relative JAK2 mRNA</text>
<text transform="translate(48.90,553.00) rotate(-45)" font-size="6.6" text-anchor="end" fill="#2a2a2a" stroke="#2a2a2a" stroke-width="0.08">Parental</text>
<text transform="translate(62.20,553.00) rotate(-45)" font-size="6.6" text-anchor="end" fill="#2a2a2a" stroke="#2a2a2a" stroke-width="0.08">hJAK2 WT</text>
<text transform="translate(75.80,553.00) rotate(-45)" font-size="6.5" text-anchor="end" fill="#2a2a2a" stroke="#2a2a2a" stroke-width="0.08">hJAK2 V617F</text>
<text x="95.90" y="250.20" font-size="12.2" text-anchor="start" fill="#111" font-weight="bold" textLength="7.0" lengthAdjust="spacingAndGlyphs">E</text>
<text x="222.20" y="247.50" font-size="8.6" text-anchor="start" fill="#2a2a2a" stroke="#2a2a2a" stroke-width="0.08" textLength="23.1" lengthAdjust="spacingAndGlyphs">Ba/F3</text>
<line x1="131.40" y1="265.40" x2="137.60" y2="265.40" stroke="#333" stroke-width="1.0"/>
<circle cx="134.50" cy="265.40" r="0.8" fill="#333"/>
<text x="140.00" y="267.65" font-size="6.4" text-anchor="start" fill="#2a2a2a" stroke="#2a2a2a" stroke-width="0.08" textLength="28.9" lengthAdjust="spacingAndGlyphs">hJAK2 WT</text>
<line x1="170.30" y1="265.40" x2="177.50" y2="265.40" stroke="#6a1a24" stroke-width="1.0"/>
<circle cx="173.90" cy="265.40" r="0.8" fill="#6a1a24"/>
<text x="179.40" y="267.65" font-size="6.4" text-anchor="start" fill="#2a2a2a" stroke="#2a2a2a" stroke-width="0.08" textLength="36.0" lengthAdjust="spacingAndGlyphs">hJAK2 V617F</text>
<line x1="130.50" y1="273.80" x2="130.50" y2="364.50" stroke="#231f20" stroke-width="1.1"/>
<line x1="127.30" y1="364.50" x2="130.10" y2="364.50" stroke="#231f20" stroke-width="0.9"/>
<text x="124.20" y="366.50" font-size="7.2" text-anchor="end" fill="#2a2a2a" stroke="#2a2a2a" stroke-width="0.08">0</text>
<line x1="127.30" y1="341.50" x2="130.10" y2="341.50" stroke="#231f20" stroke-width="0.9"/>
<text x="124.20" y="344.12" font-size="7.2" text-anchor="end" fill="#2a2a2a" stroke="#2a2a2a" stroke-width="0.08">500</text>
<line x1="127.30" y1="319.50" x2="130.10" y2="319.50" stroke="#231f20" stroke-width="0.9"/>
<text x="124.20" y="321.75" font-size="7.2" text-anchor="end" fill="#2a2a2a" stroke="#2a2a2a" stroke-width="0.08">1000</text>
<line x1="127.30" y1="296.50" x2="130.10" y2="296.50" stroke="#231f20" stroke-width="0.9"/>
<text x="124.20" y="299.38" font-size="7.2" text-anchor="end" fill="#2a2a2a" stroke="#2a2a2a" stroke-width="0.08">1500</text>
<line x1="127.30" y1="274.50" x2="130.10" y2="274.50" stroke="#231f20" stroke-width="0.9"/>
<text x="124.20" y="277.00" font-size="7.2" text-anchor="end" fill="#2a2a2a" stroke="#2a2a2a" stroke-width="0.08">2000</text>
<line x1="129.70" y1="364.50" x2="215.50" y2="364.50" stroke="#231f20" stroke-width="1.1"/>
<line x1="134.90" y1="364.00" x2="134.90" y2="366.20" stroke="#231f20" stroke-width="0.7"/>
<line x1="146.80" y1="364.00" x2="146.80" y2="366.20" stroke="#231f20" stroke-width="0.7"/>
<line x1="158.80" y1="364.00" x2="158.80" y2="366.20" stroke="#231f20" stroke-width="0.7"/>
<line x1="170.60" y1="364.00" x2="170.60" y2="366.20" stroke="#231f20" stroke-width="0.7"/>
<line x1="182.60" y1="364.00" x2="182.60" y2="366.20" stroke="#231f20" stroke-width="0.7"/>
<line x1="194.60" y1="364.00" x2="194.60" y2="366.20" stroke="#231f20" stroke-width="0.7"/>
<line x1="206.60" y1="364.00" x2="206.60" y2="366.20" stroke="#231f20" stroke-width="0.7"/>
<line x1="133.80" y1="310.40" x2="139.00" y2="313.80" stroke="#6a6a6a" stroke-width="0.6"/>
<line x1="133.80" y1="321.50" x2="139.00" y2="332.00" stroke="#6a6a6a" stroke-width="0.6"/>
<line x1="133.80" y1="329.60" x2="139.00" y2="343.60" stroke="#6a6a6a" stroke-width="0.6"/>
<circle cx="133.80" cy="310.40" r="1.15" fill="#4aa3dc"/>
<circle cx="139.00" cy="313.80" r="1.15" fill="#c62d3e"/>
<circle cx="133.80" cy="321.50" r="1.15" fill="#4aa3dc"/>
<circle cx="139.00" cy="332.00" r="1.15" fill="#c62d3e"/>
<circle cx="133.80" cy="329.60" r="1.15" fill="#4aa3dc"/>
<circle cx="139.00" cy="343.60" r="1.15" fill="#c62d3e"/>
<line x1="145.70" y1="319.60" x2="150.90" y2="320.00" stroke="#6a6a6a" stroke-width="0.6"/>
<line x1="145.70" y1="319.80" x2="150.90" y2="322.50" stroke="#6a6a6a" stroke-width="0.6"/>
<line x1="145.70" y1="319.60" x2="150.90" y2="333.50" stroke="#6a6a6a" stroke-width="0.6"/>
<circle cx="145.70" cy="319.60" r="1.15" fill="#4aa3dc"/>
<circle cx="150.90" cy="320.00" r="1.15" fill="#c62d3e"/>
<circle cx="145.70" cy="319.80" r="1.15" fill="#4aa3dc"/>
<circle cx="150.90" cy="322.50" r="1.15" fill="#c62d3e"/>
<circle cx="145.70" cy="319.60" r="1.15" fill="#4aa3dc"/>
<circle cx="150.90" cy="333.50" r="1.15" fill="#c62d3e"/>
<line x1="157.70" y1="354.20" x2="162.90" y2="328.80" stroke="#6a6a6a" stroke-width="0.6"/>
<line x1="157.70" y1="356.00" x2="162.90" y2="344.60" stroke="#6a6a6a" stroke-width="0.6"/>
<line x1="157.70" y1="360.00" x2="162.90" y2="346.50" stroke="#6a6a6a" stroke-width="0.6"/>
<circle cx="157.70" cy="354.20" r="1.15" fill="#4aa3dc"/>
<circle cx="162.90" cy="328.80" r="1.15" fill="#c62d3e"/>
<circle cx="157.70" cy="356.00" r="1.15" fill="#4aa3dc"/>
<circle cx="162.90" cy="344.60" r="1.15" fill="#c62d3e"/>
<circle cx="157.70" cy="360.00" r="1.15" fill="#4aa3dc"/>
<circle cx="162.90" cy="346.50" r="1.15" fill="#c62d3e"/>
<line x1="169.50" y1="330.80" x2="174.70" y2="324.40" stroke="#6a6a6a" stroke-width="0.6"/>
<line x1="169.50" y1="340.40" x2="174.70" y2="328.30" stroke="#6a6a6a" stroke-width="0.6"/>
<line x1="169.50" y1="348.50" x2="174.70" y2="342.30" stroke="#6a6a6a" stroke-width="0.6"/>
<line x1="169.50" y1="344.00" x2="174.70" y2="345.60" stroke="#6a6a6a" stroke-width="0.6"/>
<circle cx="169.50" cy="330.80" r="1.15" fill="#4aa3dc"/>
<circle cx="174.70" cy="324.40" r="1.15" fill="#c62d3e"/>
<circle cx="169.50" cy="340.40" r="1.15" fill="#4aa3dc"/>
<circle cx="174.70" cy="328.30" r="1.15" fill="#c62d3e"/>
<circle cx="169.50" cy="348.50" r="1.15" fill="#4aa3dc"/>
<circle cx="174.70" cy="342.30" r="1.15" fill="#c62d3e"/>
<circle cx="169.50" cy="344.00" r="1.15" fill="#4aa3dc"/>
<circle cx="174.70" cy="345.60" r="1.15" fill="#c62d3e"/>
<line x1="181.50" y1="298.50" x2="186.70" y2="316.20" stroke="#6a6a6a" stroke-width="0.6"/>
<line x1="181.50" y1="314.80" x2="186.70" y2="327.70" stroke="#6a6a6a" stroke-width="0.6"/>
<line x1="181.50" y1="323.00" x2="186.70" y2="332.70" stroke="#6a6a6a" stroke-width="0.6"/>
<circle cx="181.50" cy="298.50" r="1.15" fill="#4aa3dc"/>
<circle cx="186.70" cy="316.20" r="1.15" fill="#c62d3e"/>
<circle cx="181.50" cy="314.80" r="1.15" fill="#4aa3dc"/>
<circle cx="186.70" cy="327.70" r="1.15" fill="#c62d3e"/>
<circle cx="181.50" cy="323.00" r="1.15" fill="#4aa3dc"/>
<circle cx="186.70" cy="332.70" r="1.15" fill="#c62d3e"/>
<line x1="193.50" y1="352.30" x2="198.70" y2="287.30" stroke="#6a6a6a" stroke-width="0.6"/>
<line x1="193.50" y1="358.00" x2="198.70" y2="309.60" stroke="#6a6a6a" stroke-width="0.6"/>
<line x1="193.50" y1="362.00" x2="198.70" y2="328.80" stroke="#6a6a6a" stroke-width="0.6"/>
<line x1="193.50" y1="360.00" x2="198.70" y2="333.00" stroke="#6a6a6a" stroke-width="0.6"/>
<circle cx="193.50" cy="352.30" r="1.15" fill="#4aa3dc"/>
<circle cx="198.70" cy="287.30" r="1.15" fill="#c62d3e"/>
<circle cx="193.50" cy="358.00" r="1.15" fill="#4aa3dc"/>
<circle cx="198.70" cy="309.60" r="1.15" fill="#c62d3e"/>
<circle cx="193.50" cy="362.00" r="1.15" fill="#4aa3dc"/>
<circle cx="198.70" cy="328.80" r="1.15" fill="#c62d3e"/>
<circle cx="193.50" cy="360.00" r="1.15" fill="#4aa3dc"/>
<circle cx="198.70" cy="333.00" r="1.15" fill="#c62d3e"/>
<line x1="205.50" y1="358.00" x2="210.70" y2="334.60" stroke="#6a6a6a" stroke-width="0.6"/>
<line x1="205.50" y1="360.00" x2="210.70" y2="343.00" stroke="#6a6a6a" stroke-width="0.6"/>
<line x1="205.50" y1="362.00" x2="210.70" y2="347.50" stroke="#6a6a6a" stroke-width="0.6"/>
<line x1="205.50" y1="361.00" x2="210.70" y2="350.00" stroke="#6a6a6a" stroke-width="0.6"/>
<circle cx="205.50" cy="358.00" r="1.15" fill="#4aa3dc"/>
<circle cx="210.70" cy="334.60" r="1.15" fill="#c62d3e"/>
<circle cx="205.50" cy="360.00" r="1.15" fill="#4aa3dc"/>
<circle cx="210.70" cy="343.00" r="1.15" fill="#c62d3e"/>
<circle cx="205.50" cy="362.00" r="1.15" fill="#4aa3dc"/>
<circle cx="210.70" cy="347.50" r="1.15" fill="#c62d3e"/>
<circle cx="205.50" cy="361.00" r="1.15" fill="#4aa3dc"/>
<circle cx="210.70" cy="350.00" r="1.15" fill="#c62d3e"/>
<polyline points="133.50,306.00 133.50,299.50 139.50,299.50 139.50,310.00" fill="none" stroke="#8a8a8a" stroke-width="0.8"/>
<rect x="135.55" y="295.63" width="1.70" height="1.53" rx="0.3" fill="#303030"/>
<polyline points="157.50,352.00 157.50,319.50 162.50,319.50 162.50,326.00" fill="none" stroke="#8a8a8a" stroke-width="0.8"/>
<rect x="157.93" y="315.44" width="1.70" height="1.53" rx="0.3" fill="#303030"/>
<rect x="160.98" y="315.44" width="1.70" height="1.53" rx="0.3" fill="#303030"/>
<polyline points="181.50,296.00 181.50,287.50 186.50,287.50 186.50,313.00" fill="none" stroke="#8a8a8a" stroke-width="0.8"/>
<rect x="183.25" y="283.74" width="1.70" height="1.53" rx="0.3" fill="#303030"/>
<polyline points="193.50,350.00 193.50,279.50 198.50,279.50 198.50,285.00" fill="none" stroke="#8a8a8a" stroke-width="0.8"/>
<rect x="190.68" y="275.44" width="1.70" height="1.53" rx="0.3" fill="#303030"/>
<rect x="193.73" y="275.44" width="1.70" height="1.53" rx="0.3" fill="#303030"/>
<rect x="196.78" y="275.44" width="1.70" height="1.53" rx="0.3" fill="#303030"/>
<rect x="199.83" y="275.44" width="1.70" height="1.53" rx="0.3" fill="#303030"/>
<polyline points="205.50,356.00 205.50,325.50 210.50,325.50 210.50,332.00" fill="none" stroke="#8a8a8a" stroke-width="0.8"/>
<rect x="205.72" y="321.24" width="1.70" height="1.53" rx="0.3" fill="#303030"/>
<rect x="208.78" y="321.24" width="1.70" height="1.53" rx="0.3" fill="#303030"/>
<text transform="translate(103.40,318.20) rotate(-90)" font-size="8.6" text-anchor="middle" fill="#2a2a2a" stroke="#2a2a2a" stroke-width="0.08" textLength="81" lengthAdjust="spacingAndGlyphs">p-STAT5 (MFI, normalized)</text>
<text transform="translate(137.70,373.60) rotate(-45)" font-size="6.5" text-anchor="end" fill="#2a2a2a" stroke="#2a2a2a" stroke-width="0.08">cc-hTpoR 0</text>
<text transform="translate(149.60,373.60) rotate(-45)" font-size="6.5" text-anchor="end" fill="#2a2a2a" stroke="#2a2a2a" stroke-width="0.08">cc-hTpoR I</text>
<text transform="translate(161.60,373.60) rotate(-45)" font-size="6.5" text-anchor="end" fill="#2a2a2a" stroke="#2a2a2a" stroke-width="0.08">cc-hTpoR II</text>
<text transform="translate(173.40,373.60) rotate(-45)" font-size="6.5" text-anchor="end" fill="#2a2a2a" stroke="#2a2a2a" stroke-width="0.08">cc-hTpoR III</text>
<text transform="translate(185.40,373.60) rotate(-45)" font-size="6.5" text-anchor="end" fill="#2a2a2a" stroke="#2a2a2a" stroke-width="0.08">cc-hTpoR IV</text>
<text transform="translate(197.40,373.60) rotate(-45)" font-size="6.5" text-anchor="end" fill="#2a2a2a" stroke="#2a2a2a" stroke-width="0.08">cc-hTpoR V</text>
<text transform="translate(209.40,373.60) rotate(-45)" font-size="6.5" text-anchor="end" fill="#2a2a2a" stroke="#2a2a2a" stroke-width="0.08">cc-hTpoR VI</text>
<text x="95.70" y="430.00" font-size="12.2" text-anchor="start" fill="#111" font-weight="bold">H</text>
<text x="225.10" y="427.30" font-size="8.6" text-anchor="start" fill="#2a2a2a" stroke="#2a2a2a" stroke-width="0.08" textLength="16.3" lengthAdjust="spacingAndGlyphs">TF-1</text>
<line x1="132.00" y1="445.20" x2="138.00" y2="445.20" stroke="#333" stroke-width="1.0"/>
<circle cx="135.00" cy="445.20" r="0.8" fill="#333"/>
<text x="139.90" y="447.45" font-size="6.4" text-anchor="start" fill="#2a2a2a" stroke="#2a2a2a" stroke-width="0.08" textLength="29.8" lengthAdjust="spacingAndGlyphs">hJAK2 WT</text>
<line x1="172.20" y1="445.20" x2="177.70" y2="445.20" stroke="#6a1a24" stroke-width="1.0"/>
<circle cx="174.95" cy="445.20" r="0.8" fill="#6a1a24"/>
<text x="179.60" y="447.45" font-size="6.4" text-anchor="start" fill="#2a2a2a" stroke="#2a2a2a" stroke-width="0.08" textLength="34.3" lengthAdjust="spacingAndGlyphs">hJAK2 V617F</text>
<line x1="130.50" y1="453.40" x2="130.50" y2="544.10" stroke="#231f20" stroke-width="1.1"/>
<line x1="127.20" y1="528.50" x2="130.00" y2="528.50" stroke="#231f20" stroke-width="0.9"/>
<text x="124.10" y="531.40" font-size="7.2" text-anchor="end" fill="#2a2a2a" stroke="#2a2a2a" stroke-width="0.08">500</text>
<line x1="127.20" y1="504.50" x2="130.00" y2="504.50" stroke="#231f20" stroke-width="0.9"/>
<text x="124.10" y="507.00" font-size="7.2" text-anchor="end" fill="#2a2a2a" stroke="#2a2a2a" stroke-width="0.08">1000</text>
<line x1="127.20" y1="480.50" x2="130.00" y2="480.50" stroke="#231f20" stroke-width="0.9"/>
<text x="124.10" y="482.60" font-size="7.2" text-anchor="end" fill="#2a2a2a" stroke="#2a2a2a" stroke-width="0.08">1500</text>
<line x1="127.20" y1="455.50" x2="130.00" y2="455.50" stroke="#231f20" stroke-width="0.9"/>
<text x="124.10" y="458.20" font-size="7.2" text-anchor="end" fill="#2a2a2a" stroke="#2a2a2a" stroke-width="0.08">2000</text>
<line x1="129.60" y1="543.50" x2="215.50" y2="543.50" stroke="#231f20" stroke-width="1.1"/>
<line x1="135.60" y1="543.60" x2="135.60" y2="545.80" stroke="#231f20" stroke-width="0.7"/>
<line x1="147.60" y1="543.60" x2="147.60" y2="545.80" stroke="#231f20" stroke-width="0.7"/>
<line x1="159.60" y1="543.60" x2="159.60" y2="545.80" stroke="#231f20" stroke-width="0.7"/>
<line x1="171.40" y1="543.60" x2="171.40" y2="545.80" stroke="#231f20" stroke-width="0.7"/>
<line x1="183.40" y1="543.60" x2="183.40" y2="545.80" stroke="#231f20" stroke-width="0.7"/>
<line x1="195.20" y1="543.60" x2="195.20" y2="545.80" stroke="#231f20" stroke-width="0.7"/>
<line x1="207.00" y1="543.60" x2="207.00" y2="545.80" stroke="#231f20" stroke-width="0.7"/>
<line x1="134.20" y1="517.30" x2="139.50" y2="523.50" stroke="#6a6a6a" stroke-width="0.6"/>
<line x1="134.20" y1="521.90" x2="139.50" y2="523.00" stroke="#6a6a6a" stroke-width="0.6"/>
<circle cx="134.20" cy="517.30" r="1.15" fill="#4aa3dc"/>
<circle cx="139.50" cy="523.50" r="1.15" fill="#c62d3e"/>
<circle cx="134.20" cy="521.90" r="1.15" fill="#4aa3dc"/>
<circle cx="139.50" cy="523.00" r="1.15" fill="#c62d3e"/>
<line x1="146.20" y1="504.60" x2="151.50" y2="513.40" stroke="#6a6a6a" stroke-width="0.6"/>
<line x1="146.20" y1="505.00" x2="151.50" y2="515.00" stroke="#6a6a6a" stroke-width="0.6"/>
<line x1="146.20" y1="504.80" x2="151.50" y2="521.50" stroke="#6a6a6a" stroke-width="0.6"/>
<circle cx="146.20" cy="504.60" r="1.15" fill="#4aa3dc"/>
<circle cx="151.50" cy="513.40" r="1.15" fill="#c62d3e"/>
<circle cx="146.20" cy="505.00" r="1.15" fill="#4aa3dc"/>
<circle cx="151.50" cy="515.00" r="1.15" fill="#c62d3e"/>
<circle cx="146.20" cy="504.80" r="1.15" fill="#4aa3dc"/>
<circle cx="151.50" cy="521.50" r="1.15" fill="#c62d3e"/>
<line x1="158.20" y1="519.00" x2="163.50" y2="516.20" stroke="#6a6a6a" stroke-width="0.6"/>
<line x1="158.20" y1="519.60" x2="163.50" y2="517.30" stroke="#6a6a6a" stroke-width="0.6"/>
<line x1="158.20" y1="534.60" x2="163.50" y2="527.20" stroke="#6a6a6a" stroke-width="0.6"/>
<line x1="158.20" y1="537.40" x2="163.50" y2="517.50" stroke="#6a6a6a" stroke-width="0.6"/>
<circle cx="158.20" cy="519.00" r="1.15" fill="#4aa3dc"/>
<circle cx="163.50" cy="516.20" r="1.15" fill="#c62d3e"/>
<circle cx="158.20" cy="519.60" r="1.15" fill="#4aa3dc"/>
<circle cx="163.50" cy="517.30" r="1.15" fill="#c62d3e"/>
<circle cx="158.20" cy="534.60" r="1.15" fill="#4aa3dc"/>
<circle cx="163.50" cy="527.20" r="1.15" fill="#c62d3e"/>
<circle cx="158.20" cy="537.40" r="1.15" fill="#4aa3dc"/>
<circle cx="163.50" cy="517.50" r="1.15" fill="#c62d3e"/>
<line x1="170.00" y1="528.20" x2="175.30" y2="512.70" stroke="#6a6a6a" stroke-width="0.6"/>
<line x1="170.00" y1="530.50" x2="175.30" y2="515.70" stroke="#6a6a6a" stroke-width="0.6"/>
<line x1="170.00" y1="531.90" x2="175.30" y2="524.20" stroke="#6a6a6a" stroke-width="0.6"/>
<circle cx="170.00" cy="528.20" r="1.15" fill="#4aa3dc"/>
<circle cx="175.30" cy="512.70" r="1.15" fill="#c62d3e"/>
<circle cx="170.00" cy="530.50" r="1.15" fill="#4aa3dc"/>
<circle cx="175.30" cy="515.70" r="1.15" fill="#c62d3e"/>
<circle cx="170.00" cy="531.90" r="1.15" fill="#4aa3dc"/>
<circle cx="175.30" cy="524.20" r="1.15" fill="#c62d3e"/>
<line x1="182.00" y1="470.50" x2="187.30" y2="487.80" stroke="#6a6a6a" stroke-width="0.6"/>
<line x1="182.00" y1="481.00" x2="187.30" y2="488.90" stroke="#6a6a6a" stroke-width="0.6"/>
<line x1="182.00" y1="487.30" x2="187.30" y2="500.50" stroke="#6a6a6a" stroke-width="0.6"/>
<circle cx="182.00" cy="470.50" r="1.15" fill="#4aa3dc"/>
<circle cx="187.30" cy="487.80" r="1.15" fill="#c62d3e"/>
<circle cx="182.00" cy="481.00" r="1.15" fill="#4aa3dc"/>
<circle cx="187.30" cy="488.90" r="1.15" fill="#c62d3e"/>
<circle cx="182.00" cy="487.30" r="1.15" fill="#4aa3dc"/>
<circle cx="187.30" cy="500.50" r="1.15" fill="#c62d3e"/>
<line x1="193.80" y1="520.30" x2="199.10" y2="497.20" stroke="#6a6a6a" stroke-width="0.6"/>
<line x1="193.80" y1="524.20" x2="199.10" y2="508.80" stroke="#6a6a6a" stroke-width="0.6"/>
<line x1="193.80" y1="535.00" x2="199.10" y2="516.20" stroke="#6a6a6a" stroke-width="0.6"/>
<circle cx="193.80" cy="520.30" r="1.15" fill="#4aa3dc"/>
<circle cx="199.10" cy="497.20" r="1.15" fill="#c62d3e"/>
<circle cx="193.80" cy="524.20" r="1.15" fill="#4aa3dc"/>
<circle cx="199.10" cy="508.80" r="1.15" fill="#c62d3e"/>
<circle cx="193.80" cy="535.00" r="1.15" fill="#4aa3dc"/>
<circle cx="199.10" cy="516.20" r="1.15" fill="#c62d3e"/>
<line x1="205.60" y1="521.20" x2="210.90" y2="516.60" stroke="#6a6a6a" stroke-width="0.6"/>
<line x1="205.60" y1="531.20" x2="210.90" y2="526.50" stroke="#6a6a6a" stroke-width="0.6"/>
<line x1="205.60" y1="530.00" x2="210.90" y2="528.80" stroke="#6a6a6a" stroke-width="0.6"/>
<circle cx="205.60" cy="521.20" r="1.15" fill="#4aa3dc"/>
<circle cx="210.90" cy="516.60" r="1.15" fill="#c62d3e"/>
<circle cx="205.60" cy="531.20" r="1.15" fill="#4aa3dc"/>
<circle cx="210.90" cy="526.50" r="1.15" fill="#c62d3e"/>
<circle cx="205.60" cy="530.00" r="1.15" fill="#4aa3dc"/>
<circle cx="210.90" cy="528.80" r="1.15" fill="#c62d3e"/>
<polyline points="146.50,503.00 146.50,497.50 151.50,497.50 151.50,511.00" fill="none" stroke="#8a8a8a" stroke-width="0.8"/>
<rect x="144.95" y="493.44" width="1.70" height="1.53" rx="0.3" fill="#303030"/>
<rect x="148.00" y="493.44" width="1.70" height="1.53" rx="0.3" fill="#303030"/>
<rect x="151.05" y="493.44" width="1.70" height="1.53" rx="0.3" fill="#303030"/>
<polyline points="158.50,517.00 158.50,509.50 163.50,509.50 163.50,514.00" fill="none" stroke="#8a8a8a" stroke-width="0.8"/>
<rect x="160.00" y="505.44" width="1.70" height="1.53" rx="0.3" fill="#303030"/>
<polyline points="170.50,526.00 170.50,504.50 175.50,504.50 175.50,510.00" fill="none" stroke="#8a8a8a" stroke-width="0.8"/>
<rect x="170.28" y="500.44" width="1.70" height="1.53" rx="0.3" fill="#303030"/>
<rect x="173.33" y="500.44" width="1.70" height="1.53" rx="0.3" fill="#303030"/>
<polyline points="182.50,469.00 182.50,465.50 187.50,465.50 187.50,486.00" fill="none" stroke="#8a8a8a" stroke-width="0.8"/>
<rect x="182.28" y="462.04" width="1.70" height="1.53" rx="0.3" fill="#303030"/>
<rect x="185.33" y="462.04" width="1.70" height="1.53" rx="0.3" fill="#303030"/>
<polyline points="193.50,518.00 193.50,491.50 199.50,491.50 199.50,495.00" fill="none" stroke="#8a8a8a" stroke-width="0.8"/>
<rect x="191.03" y="487.44" width="1.70" height="1.53" rx="0.3" fill="#303030"/>
<rect x="194.08" y="487.44" width="1.70" height="1.53" rx="0.3" fill="#303030"/>
<rect x="197.12" y="487.44" width="1.70" height="1.53" rx="0.3" fill="#303030"/>
<rect x="200.18" y="487.44" width="1.70" height="1.53" rx="0.3" fill="#303030"/>
<text transform="translate(103.60,497.60) rotate(-90)" font-size="8.6" text-anchor="middle" fill="#2a2a2a" stroke="#2a2a2a" stroke-width="0.08" textLength="78.7" lengthAdjust="spacingAndGlyphs">p-STAT5 (MFI normalized)</text>
<text transform="translate(138.40,553.40) rotate(-45)" font-size="6.4" text-anchor="end" fill="#2a2a2a" stroke="#2a2a2a" stroke-width="0.08">cc-hTpoR 0</text>
<text transform="translate(150.40,553.40) rotate(-45)" font-size="6.4" text-anchor="end" fill="#2a2a2a" stroke="#2a2a2a" stroke-width="0.08">cc-hTpoR I</text>
<text transform="translate(162.40,553.40) rotate(-45)" font-size="6.4" text-anchor="end" fill="#2a2a2a" stroke="#2a2a2a" stroke-width="0.08">cc-hTpoR II</text>
<text transform="translate(174.20,553.40) rotate(-45)" font-size="6.4" text-anchor="end" fill="#2a2a2a" stroke="#2a2a2a" stroke-width="0.08">cc-hTpoR III</text>
<text transform="translate(186.20,553.40) rotate(-45)" font-size="6.4" text-anchor="end" fill="#2a2a2a" stroke="#2a2a2a" stroke-width="0.08">cc-hTpoR IV</text>
<text transform="translate(198.00,553.40) rotate(-45)" font-size="6.4" text-anchor="end" fill="#2a2a2a" stroke="#2a2a2a" stroke-width="0.08">cc-hTpoR V</text>
<text transform="translate(209.80,553.40) rotate(-45)" font-size="6.4" text-anchor="end" fill="#2a2a2a" stroke="#2a2a2a" stroke-width="0.08">cc-hTpoR VI</text>
<line x1="287.50" y1="282.50" x2="367.40" y2="282.50" stroke="#e29a9a" stroke-width="0.6"/>
<path d="M288.00,282.50 L288.00,282.50 L289.13,282.50 L290.25,282.49 L291.38,282.48 L292.51,282.46 L293.64,282.41 L294.76,282.33 L295.89,282.19 L297.02,282.11 L298.14,281.63 L299.27,281.24 L300.40,280.32 L301.53,279.39 L302.65,278.44 L303.78,277.61 L304.91,276.00 L306.03,275.30 L307.16,274.43 L308.29,274.39 L309.42,274.16 L310.54,274.43 L311.67,274.96 L312.80,275.72 L313.92,276.65 L315.05,277.26 L316.18,278.43 L317.31,278.81 L318.43,279.66 L319.56,280.20 L320.69,280.75 L321.81,281.58 L322.94,281.88 L324.07,281.80 L325.20,282.17 L326.32,282.29 L327.45,282.37 L328.58,282.42 L329.70,282.46 L330.83,282.47 L331.96,282.49 L333.09,282.49 L334.21,282.50 L335.34,282.50 L336.47,282.50 L337.59,282.50 L338.72,282.50 L339.85,282.50 L340.98,282.50 L342.10,282.50 L343.23,282.50 L344.36,282.50 L345.48,282.50 L346.61,282.50 L347.74,282.50 L348.87,282.50 L349.99,282.50 L351.12,282.50 L352.25,282.50 L353.37,282.50 L354.50,282.50 L355.63,282.50 L356.76,282.50 L357.88,282.50 L359.01,282.50 L360.14,282.50 L361.26,282.50 L362.39,282.50 L363.52,282.50 L364.65,282.50 L365.77,282.50 L366.90,282.50 L366.90,282.50 Z" fill="#e8928a" fill-opacity="0.82" stroke="none"/>
<path d="M294.76,282.33 L295.89,282.19 L297.02,282.11 L298.14,281.63 L299.27,281.24 L300.40,280.32 L301.53,279.39 L302.65,278.44 L303.78,277.61 L304.91,276.00 L306.03,275.30 L307.16,274.43 L308.29,274.39 L309.42,274.16 L310.54,274.43 L311.67,274.96 L312.80,275.72 L313.92,276.65 L315.05,277.26 L316.18,278.43 L317.31,278.81 L318.43,279.66 L319.56,280.20 L320.69,280.75 L321.81,281.58 L322.94,281.88 L324.07,281.80 L325.20,282.17 L326.32,282.29" fill="none" stroke="#a04e50" stroke-width="0.6"/>
<line x1="287.50" y1="287.78" x2="367.40" y2="287.78" stroke="#a6d08c" stroke-width="0.6"/>
<path d="M288.00,287.78 L288.00,287.78 L289.13,287.78 L290.25,287.78 L291.38,287.78 L292.51,287.78 L293.64,287.78 L294.76,287.78 L295.89,287.77 L297.02,287.77 L298.14,287.77 L299.27,287.76 L300.40,287.76 L301.53,287.74 L302.65,287.73 L303.78,287.71 L304.91,287.69 L306.03,287.65 L307.16,287.61 L308.29,287.56 L309.42,287.49 L310.54,287.40 L311.67,287.10 L312.80,287.11 L313.92,287.14 L315.05,286.99 L316.18,286.73 L317.31,286.37 L318.43,285.80 L319.56,285.61 L320.69,285.10 L321.81,284.88 L322.94,284.45 L324.07,283.74 L325.20,283.26 L326.32,283.05 L327.45,282.07 L328.58,282.00 L329.70,281.54 L330.83,281.09 L331.96,280.31 L333.09,280.03 L334.21,279.72 L335.34,279.51 L336.47,279.55 L337.59,279.30 L338.72,279.08 L339.85,279.50 L340.98,279.43 L342.10,279.73 L343.23,280.10 L344.36,280.01 L345.48,280.86 L346.61,281.23 L347.74,281.59 L348.87,282.09 L349.99,282.54 L351.12,282.87 L352.25,283.55 L353.37,283.72 L354.50,284.44 L355.63,284.94 L356.76,285.21 L357.88,285.64 L359.01,286.20 L360.14,286.45 L361.26,286.25 L362.39,286.87 L363.52,286.96 L364.65,286.78 L365.77,287.11 L366.90,287.31 L366.90,287.78 Z" fill="#bcdca2" fill-opacity="0.82" stroke="none"/>
<path d="M308.29,287.56 L309.42,287.49 L310.54,287.40 L311.67,287.10 L312.80,287.11 L313.92,287.14 L315.05,286.99 L316.18,286.73 L317.31,286.37 L318.43,285.80 L319.56,285.61 L320.69,285.10 L321.81,284.88 L322.94,284.45 L324.07,283.74 L325.20,283.26 L326.32,283.05 L327.45,282.07 L328.58,282.00 L329.70,281.54 L330.83,281.09 L331.96,280.31 L333.09,280.03 L334.21,279.72 L335.34,279.51 L336.47,279.55 L337.59,279.30 L338.72,279.08 L339.85,279.50 L340.98,279.43 L342.10,279.73 L343.23,280.10 L344.36,280.01 L345.48,280.86 L346.61,281.23 L347.74,281.59 L348.87,282.09 L349.99,282.54 L351.12,282.87 L352.25,283.55 L353.37,283.72 L354.50,284.44 L355.63,284.94 L356.76,285.21 L357.88,285.64 L359.01,286.20 L360.14,286.45 L361.26,286.25 L362.39,286.87 L363.52,286.96 L364.65,286.78 L365.77,287.11 L366.90,287.31" fill="none" stroke="#84b468" stroke-width="0.6"/>
<line x1="287.50" y1="293.06" x2="367.40" y2="293.06" stroke="#94c4e4" stroke-width="0.6"/>
<path d="M288.00,293.06 L288.00,293.05 L289.13,293.05 L290.25,293.04 L291.38,293.03 L292.51,293.02 L293.64,293.00 L294.76,292.97 L295.89,292.93 L297.02,292.87 L298.14,292.79 L299.27,292.69 L300.40,292.40 L301.53,292.13 L302.65,292.19 L303.78,292.16 L304.91,291.47 L306.03,291.42 L307.16,290.86 L308.29,290.02 L309.42,289.89 L310.54,289.12 L311.67,288.66 L312.80,287.85 L313.92,287.19 L315.05,286.29 L316.18,285.94 L317.31,285.46 L318.43,284.96 L319.56,284.35 L320.69,284.31 L321.81,284.05 L322.94,283.86 L324.07,283.94 L325.20,284.18 L326.32,284.55 L327.45,284.90 L328.58,285.53 L329.70,286.14 L330.83,286.56 L331.96,287.04 L333.09,287.73 L334.21,288.08 L335.34,288.72 L336.47,289.42 L337.59,289.71 L338.72,290.03 L339.85,290.89 L340.98,291.16 L342.10,291.29 L343.23,291.58 L344.36,291.94 L345.48,292.20 L346.61,292.16 L347.74,292.18 L348.87,292.43 L349.99,292.71 L351.12,292.79 L352.25,292.85 L353.37,292.91 L354.50,292.95 L355.63,292.98 L356.76,293.00 L357.88,293.02 L359.01,293.03 L360.14,293.04 L361.26,293.04 L362.39,293.05 L363.52,293.05 L364.65,293.06 L365.77,293.06 L366.90,293.06 L366.90,293.06 Z" fill="#badcf0" fill-opacity="0.82" stroke="none"/>
<path d="M298.14,292.79 L299.27,292.69 L300.40,292.40 L301.53,292.13 L302.65,292.19 L303.78,292.16 L304.91,291.47 L306.03,291.42 L307.16,290.86 L308.29,290.02 L309.42,289.89 L310.54,289.12 L311.67,288.66 L312.80,287.85 L313.92,287.19 L315.05,286.29 L316.18,285.94 L317.31,285.46 L318.43,284.96 L319.56,284.35 L320.69,284.31 L321.81,284.05 L322.94,283.86 L324.07,283.94 L325.20,284.18 L326.32,284.55 L327.45,284.90 L328.58,285.53 L329.70,286.14 L330.83,286.56 L331.96,287.04 L333.09,287.73 L334.21,288.08 L335.34,288.72 L336.47,289.42 L337.59,289.71 L338.72,290.03 L339.85,290.89 L340.98,291.16 L342.10,291.29 L343.23,291.58 L344.36,291.94 L345.48,292.20 L346.61,292.16 L347.74,292.18 L348.87,292.43 L349.99,292.71 L351.12,292.79 L352.25,292.85" fill="none" stroke="#7ab0d4" stroke-width="0.6"/>
<line x1="287.50" y1="298.34" x2="367.40" y2="298.34" stroke="#e29a9a" stroke-width="0.6"/>
<path d="M288.00,298.34 L288.00,298.33 L289.13,298.32 L290.25,298.31 L291.38,298.29 L292.51,298.25 L293.64,298.20 L294.76,298.12 L295.89,298.01 L297.02,298.02 L298.14,297.42 L299.27,297.33 L300.40,296.80 L301.53,296.36 L302.65,295.79 L303.78,295.31 L304.91,294.47 L306.03,293.64 L307.16,292.93 L308.29,292.23 L309.42,291.76 L310.54,290.94 L311.67,290.52 L312.80,290.55 L313.92,290.49 L315.05,290.72 L316.18,290.43 L317.31,290.81 L318.43,291.02 L319.56,291.06 L320.69,291.92 L321.81,291.81 L322.94,292.10 L324.07,292.72 L325.20,292.93 L326.32,293.62 L327.45,293.86 L328.58,294.13 L329.70,294.48 L330.83,295.27 L331.96,295.36 L333.09,296.01 L334.21,296.13 L335.34,296.70 L336.47,296.58 L337.59,296.79 L338.72,297.01 L339.85,297.53 L340.98,297.58 L342.10,297.55 L343.23,297.53 L344.36,297.98 L345.48,297.96 L346.61,298.04 L347.74,298.10 L348.87,298.15 L349.99,298.19 L351.12,298.22 L352.25,298.25 L353.37,298.27 L354.50,298.29 L355.63,298.30 L356.76,298.31 L357.88,298.32 L359.01,298.32 L360.14,298.33 L361.26,298.33 L362.39,298.33 L363.52,298.34 L364.65,298.34 L365.77,298.34 L366.90,298.34 L366.90,298.34 Z" fill="#e8928a" fill-opacity="0.82" stroke="none"/>
<path d="M294.76,298.12 L295.89,298.01 L297.02,298.02 L298.14,297.42 L299.27,297.33 L300.40,296.80 L301.53,296.36 L302.65,295.79 L303.78,295.31 L304.91,294.47 L306.03,293.64 L307.16,292.93 L308.29,292.23 L309.42,291.76 L310.54,290.94 L311.67,290.52 L312.80,290.55 L313.92,290.49 L315.05,290.72 L316.18,290.43 L317.31,290.81 L318.43,291.02 L319.56,291.06 L320.69,291.92 L321.81,291.81 L322.94,292.10 L324.07,292.72 L325.20,292.93 L326.32,293.62 L327.45,293.86 L328.58,294.13 L329.70,294.48 L330.83,295.27 L331.96,295.36 L333.09,296.01 L334.21,296.13 L335.34,296.70 L336.47,296.58 L337.59,296.79 L338.72,297.01 L339.85,297.53 L340.98,297.58 L342.10,297.55 L343.23,297.53 L344.36,297.98 L345.48,297.96 L346.61,298.04 L347.74,298.10 L348.87,298.15" fill="none" stroke="#a04e50" stroke-width="0.6"/>
<line x1="287.50" y1="303.62" x2="367.40" y2="303.62" stroke="#94c4e4" stroke-width="0.6"/>
<path d="M288.00,303.62 L288.00,303.61 L289.13,303.61 L290.25,303.60 L291.38,303.59 L292.51,303.57 L293.64,303.55 L294.76,303.53 L295.89,303.49 L297.02,303.44 L298.14,303.38 L299.27,303.29 L300.40,303.18 L301.53,303.33 L302.65,302.93 L303.78,302.37 L304.91,302.14 L306.03,301.88 L307.16,301.59 L308.29,301.11 L309.42,300.68 L310.54,300.55 L311.67,300.16 L312.80,299.17 L313.92,299.03 L315.05,298.12 L316.18,297.70 L317.31,297.18 L318.43,296.63 L319.56,295.58 L320.69,295.30 L321.81,295.13 L322.94,295.08 L324.07,294.41 L325.20,294.50 L326.32,294.88 L327.45,294.57 L328.58,294.95 L329.70,295.19 L330.83,295.73 L331.96,296.27 L333.09,296.25 L334.21,297.06 L335.34,297.55 L336.47,298.12 L337.59,298.46 L338.72,299.19 L339.85,299.35 L340.98,299.86 L342.10,300.20 L343.23,300.95 L344.36,301.16 L345.48,301.39 L346.61,301.64 L347.74,302.26 L348.87,302.44 L349.99,302.72 L351.12,302.71 L352.25,302.93 L353.37,302.86 L354.50,303.18 L355.63,303.27 L356.76,303.35 L357.88,303.41 L359.01,303.46 L360.14,303.50 L361.26,303.53 L362.39,303.55 L363.52,303.57 L364.65,303.58 L365.77,303.59 L366.90,303.60 L366.90,303.62 Z" fill="#badcf0" fill-opacity="0.82" stroke="none"/>
<path d="M298.14,303.38 L299.27,303.29 L300.40,303.18 L301.53,303.33 L302.65,302.93 L303.78,302.37 L304.91,302.14 L306.03,301.88 L307.16,301.59 L308.29,301.11 L309.42,300.68 L310.54,300.55 L311.67,300.16 L312.80,299.17 L313.92,299.03 L315.05,298.12 L316.18,297.70 L317.31,297.18 L318.43,296.63 L319.56,295.58 L320.69,295.30 L321.81,295.13 L322.94,295.08 L324.07,294.41 L325.20,294.50 L326.32,294.88 L327.45,294.57 L328.58,294.95 L329.70,295.19 L330.83,295.73 L331.96,296.27 L333.09,296.25 L334.21,297.06 L335.34,297.55 L336.47,298.12 L337.59,298.46 L338.72,299.19 L339.85,299.35 L340.98,299.86 L342.10,300.20 L343.23,300.95 L344.36,301.16 L345.48,301.39 L346.61,301.64 L347.74,302.26 L348.87,302.44 L349.99,302.72 L351.12,302.71 L352.25,302.93 L353.37,302.86 L354.50,303.18 L355.63,303.27 L356.76,303.35 L357.88,303.41" fill="none" stroke="#7ab0d4" stroke-width="0.6"/>
<line x1="287.50" y1="308.90" x2="367.40" y2="308.90" stroke="#e29a9a" stroke-width="0.6"/>
<path d="M288.00,308.90 L288.00,308.89 L289.13,308.89 L290.25,308.88 L291.38,308.87 L292.51,308.86 L293.64,308.84 L294.76,308.80 L295.89,308.75 L297.02,308.68 L298.14,308.58 L299.27,308.57 L300.40,307.98 L301.53,308.02 L302.65,307.90 L303.78,307.50 L304.91,306.72 L306.03,306.30 L307.16,306.08 L308.29,305.33 L309.42,304.78 L310.54,304.06 L311.67,303.10 L312.80,302.68 L313.92,301.96 L315.05,301.19 L316.18,300.80 L317.31,300.35 L318.43,300.44 L319.56,300.79 L320.69,300.36 L321.81,300.76 L322.94,300.66 L324.07,300.87 L325.20,301.47 L326.32,301.53 L327.45,301.75 L328.58,302.18 L329.70,302.85 L330.83,303.22 L331.96,303.28 L333.09,303.82 L334.21,304.67 L335.34,304.62 L336.47,305.22 L337.59,305.51 L338.72,306.08 L339.85,306.31 L340.98,306.73 L342.10,306.87 L343.23,306.93 L344.36,307.16 L345.48,307.32 L346.61,307.96 L347.74,307.70 L348.87,307.80 L349.99,308.50 L351.12,308.15 L352.25,308.67 L353.37,308.52 L354.50,308.59 L355.63,308.65 L356.76,308.70 L357.88,308.74 L359.01,308.77 L360.14,308.80 L361.26,308.82 L362.39,308.84 L363.52,308.85 L364.65,308.86 L365.77,308.87 L366.90,308.88 L366.90,308.90 Z" fill="#e8928a" fill-opacity="0.82" stroke="none"/>
<path d="M297.02,308.68 L298.14,308.58 L299.27,308.57 L300.40,307.98 L301.53,308.02 L302.65,307.90 L303.78,307.50 L304.91,306.72 L306.03,306.30 L307.16,306.08 L308.29,305.33 L309.42,304.78 L310.54,304.06 L311.67,303.10 L312.80,302.68 L313.92,301.96 L315.05,301.19 L316.18,300.80 L317.31,300.35 L318.43,300.44 L319.56,300.79 L320.69,300.36 L321.81,300.76 L322.94,300.66 L324.07,300.87 L325.20,301.47 L326.32,301.53 L327.45,301.75 L328.58,302.18 L329.70,302.85 L330.83,303.22 L331.96,303.28 L333.09,303.82 L334.21,304.67 L335.34,304.62 L336.47,305.22 L337.59,305.51 L338.72,306.08 L339.85,306.31 L340.98,306.73 L342.10,306.87 L343.23,306.93 L344.36,307.16 L345.48,307.32 L346.61,307.96 L347.74,307.70 L348.87,307.80 L349.99,308.50 L351.12,308.15 L352.25,308.67 L353.37,308.52 L354.50,308.59 L355.63,308.65 L356.76,308.70" fill="none" stroke="#a04e50" stroke-width="0.6"/>
<line x1="287.50" y1="314.18" x2="367.40" y2="314.18" stroke="#94c4e4" stroke-width="0.6"/>
<path d="M288.00,314.18 L288.00,314.18 L289.13,314.17 L290.25,314.16 L291.38,314.13 L292.51,314.08 L293.64,313.99 L294.76,313.83 L295.89,313.33 L297.02,313.18 L298.14,312.48 L299.27,312.11 L300.40,311.06 L301.53,310.00 L302.65,308.92 L303.78,307.86 L304.91,306.58 L306.03,306.05 L307.16,305.66 L308.29,305.48 L309.42,306.05 L310.54,306.15 L311.67,306.61 L312.80,306.66 L313.92,307.33 L315.05,307.82 L316.18,308.53 L317.31,308.72 L318.43,309.46 L319.56,310.11 L320.69,310.41 L321.81,311.20 L322.94,311.78 L324.07,312.01 L325.20,312.52 L326.32,312.82 L327.45,312.87 L328.58,313.19 L329.70,313.77 L330.83,313.54 L331.96,313.76 L333.09,313.87 L334.21,313.95 L335.34,314.01 L336.47,314.06 L337.59,314.09 L338.72,314.12 L339.85,314.14 L340.98,314.15 L342.10,314.16 L343.23,314.17 L344.36,314.17 L345.48,314.17 L346.61,314.18 L347.74,314.18 L348.87,314.18 L349.99,314.18 L351.12,314.18 L352.25,314.18 L353.37,314.18 L354.50,314.18 L355.63,314.18 L356.76,314.18 L357.88,314.18 L359.01,314.18 L360.14,314.18 L361.26,314.18 L362.39,314.18 L363.52,314.18 L364.65,314.18 L365.77,314.18 L366.90,314.18 L366.90,314.18 Z" fill="#badcf0" fill-opacity="0.82" stroke="none"/>
<path d="M293.64,313.99 L294.76,313.83 L295.89,313.33 L297.02,313.18 L298.14,312.48 L299.27,312.11 L300.40,311.06 L301.53,310.00 L302.65,308.92 L303.78,307.86 L304.91,306.58 L306.03,306.05 L307.16,305.66 L308.29,305.48 L309.42,306.05 L310.54,306.15 L311.67,306.61 L312.80,306.66 L313.92,307.33 L315.05,307.82 L316.18,308.53 L317.31,308.72 L318.43,309.46 L319.56,310.11 L320.69,310.41 L321.81,311.20 L322.94,311.78 L324.07,312.01 L325.20,312.52 L326.32,312.82 L327.45,312.87 L328.58,313.19 L329.70,313.77 L330.83,313.54 L331.96,313.76 L333.09,313.87 L334.21,313.95" fill="none" stroke="#7ab0d4" stroke-width="0.6"/>
<line x1="287.50" y1="319.46" x2="367.40" y2="319.46" stroke="#e29a9a" stroke-width="0.6"/>
<path d="M288.00,319.46 L288.00,319.45 L289.13,319.44 L290.25,319.43 L291.38,319.40 L292.51,319.37 L293.64,319.31 L294.76,319.22 L295.89,319.10 L297.02,318.89 L298.14,318.44 L299.27,318.21 L300.40,317.78 L301.53,317.75 L302.65,317.04 L303.78,316.44 L304.91,315.75 L306.03,314.71 L307.16,314.08 L308.29,313.04 L309.42,312.24 L310.54,311.95 L311.67,311.49 L312.80,311.27 L313.92,310.96 L315.05,311.19 L316.18,311.11 L317.31,311.68 L318.43,311.90 L319.56,311.85 L320.69,312.62 L321.81,312.58 L322.94,312.98 L324.07,313.83 L325.20,314.05 L326.32,314.67 L327.45,315.22 L328.58,315.32 L329.70,316.19 L330.83,316.33 L331.96,316.82 L333.09,317.12 L334.21,317.69 L335.34,317.99 L336.47,317.97 L337.59,318.09 L338.72,318.41 L339.85,318.64 L340.98,318.59 L342.10,318.76 L343.23,319.07 L344.36,319.15 L345.48,319.22 L346.61,319.27 L347.74,319.31 L348.87,319.35 L349.99,319.38 L351.12,319.40 L352.25,319.41 L353.37,319.43 L354.50,319.44 L355.63,319.44 L356.76,319.45 L357.88,319.45 L359.01,319.45 L360.14,319.46 L361.26,319.46 L362.39,319.46 L363.52,319.46 L364.65,319.46 L365.77,319.46 L366.90,319.46 L366.90,319.46 Z" fill="#e8928a" fill-opacity="0.82" stroke="none"/>
<path d="M294.76,319.22 L295.89,319.10 L297.02,318.89 L298.14,318.44 L299.27,318.21 L300.40,317.78 L301.53,317.75 L302.65,317.04 L303.78,316.44 L304.91,315.75 L306.03,314.71 L307.16,314.08 L308.29,313.04 L309.42,312.24 L310.54,311.95 L311.67,311.49 L312.80,311.27 L313.92,310.96 L315.05,311.19 L316.18,311.11 L317.31,311.68 L318.43,311.90 L319.56,311.85 L320.69,312.62 L321.81,312.58 L322.94,312.98 L324.07,313.83 L325.20,314.05 L326.32,314.67 L327.45,315.22 L328.58,315.32 L329.70,316.19 L330.83,316.33 L331.96,316.82 L333.09,317.12 L334.21,317.69 L335.34,317.99 L336.47,317.97 L337.59,318.09 L338.72,318.41 L339.85,318.64 L340.98,318.59 L342.10,318.76 L343.23,319.07 L344.36,319.15 L345.48,319.22" fill="none" stroke="#a04e50" stroke-width="0.6"/>
<line x1="287.50" y1="324.74" x2="367.40" y2="324.74" stroke="#94c4e4" stroke-width="0.6"/>
<path d="M288.00,324.74 L288.00,324.74 L289.13,324.73 L290.25,324.73 L291.38,324.72 L292.51,324.70 L293.64,324.68 L294.76,324.64 L295.89,324.57 L297.02,324.48 L298.14,324.35 L299.27,324.32 L300.40,324.03 L301.53,323.86 L302.65,323.44 L303.78,322.85 L304.91,321.92 L306.03,321.08 L307.16,320.37 L308.29,319.62 L309.42,318.80 L310.54,317.99 L311.67,317.14 L312.80,316.83 L313.92,316.06 L315.05,315.94 L316.18,316.18 L317.31,316.23 L318.43,316.11 L319.56,316.34 L320.69,317.02 L321.81,316.94 L322.94,317.48 L324.07,318.22 L325.20,318.75 L326.32,319.07 L327.45,319.54 L328.58,320.17 L329.70,321.03 L330.83,321.35 L331.96,322.12 L333.09,322.42 L334.21,322.92 L335.34,322.70 L336.47,323.10 L337.59,323.26 L338.72,323.73 L339.85,323.87 L340.98,323.86 L342.10,324.28 L343.23,324.36 L344.36,324.45 L345.48,324.52 L346.61,324.57 L347.74,324.62 L348.87,324.65 L349.99,324.67 L351.12,324.69 L352.25,324.71 L353.37,324.72 L354.50,324.72 L355.63,324.73 L356.76,324.73 L357.88,324.73 L359.01,324.74 L360.14,324.74 L361.26,324.74 L362.39,324.74 L363.52,324.74 L364.65,324.74 L365.77,324.74 L366.90,324.74 L366.90,324.74 Z" fill="#badcf0" fill-opacity="0.82" stroke="none"/>
<path d="M297.02,324.48 L298.14,324.35 L299.27,324.32 L300.40,324.03 L301.53,323.86 L302.65,323.44 L303.78,322.85 L304.91,321.92 L306.03,321.08 L307.16,320.37 L308.29,319.62 L309.42,318.80 L310.54,317.99 L311.67,317.14 L312.80,316.83 L313.92,316.06 L315.05,315.94 L316.18,316.18 L317.31,316.23 L318.43,316.11 L319.56,316.34 L320.69,317.02 L321.81,316.94 L322.94,317.48 L324.07,318.22 L325.20,318.75 L326.32,319.07 L327.45,319.54 L328.58,320.17 L329.70,321.03 L330.83,321.35 L331.96,322.12 L333.09,322.42 L334.21,322.92 L335.34,322.70 L336.47,323.10 L337.59,323.26 L338.72,323.73 L339.85,323.87 L340.98,323.86 L342.10,324.28 L343.23,324.36 L344.36,324.45 L345.48,324.52" fill="none" stroke="#7ab0d4" stroke-width="0.6"/>
<line x1="287.50" y1="330.02" x2="367.40" y2="330.02" stroke="#e29a9a" stroke-width="0.6"/>
<path d="M288.00,330.02 L288.00,330.02 L289.13,330.01 L290.25,330.01 L291.38,330.00 L292.51,329.98 L293.64,329.96 L294.76,329.92 L295.89,329.85 L297.02,329.76 L298.14,329.63 L299.27,329.20 L300.40,329.07 L301.53,328.70 L302.65,328.61 L303.78,327.86 L304.91,327.14 L306.03,326.29 L307.16,325.72 L308.29,325.00 L309.42,324.17 L310.54,323.49 L311.67,322.69 L312.80,321.75 L313.92,321.25 L315.05,321.40 L316.18,321.40 L317.31,321.31 L318.43,321.66 L319.56,321.72 L320.69,321.84 L321.81,322.13 L322.94,322.43 L324.07,323.25 L325.20,323.87 L326.32,324.36 L327.45,324.60 L328.58,325.22 L329.70,325.87 L330.83,326.28 L331.96,326.61 L333.09,326.92 L334.21,327.39 L335.34,327.55 L336.47,327.89 L337.59,328.49 L338.72,328.94 L339.85,328.91 L340.98,329.02 L342.10,329.16 L343.23,329.37 L344.36,329.70 L345.48,329.62 L346.61,329.71 L347.74,329.78 L348.87,329.83 L349.99,329.88 L351.12,329.91 L352.25,329.94 L353.37,329.96 L354.50,329.97 L355.63,329.99 L356.76,330.00 L357.88,330.00 L359.01,330.01 L360.14,330.01 L361.26,330.01 L362.39,330.02 L363.52,330.02 L364.65,330.02 L365.77,330.02 L366.90,330.02 L366.90,330.02 Z" fill="#e8928a" fill-opacity="0.82" stroke="none"/>
<path d="M297.02,329.76 L298.14,329.63 L299.27,329.20 L300.40,329.07 L301.53,328.70 L302.65,328.61 L303.78,327.86 L304.91,327.14 L306.03,326.29 L307.16,325.72 L308.29,325.00 L309.42,324.17 L310.54,323.49 L311.67,322.69 L312.80,321.75 L313.92,321.25 L315.05,321.40 L316.18,321.40 L317.31,321.31 L318.43,321.66 L319.56,321.72 L320.69,321.84 L321.81,322.13 L322.94,322.43 L324.07,323.25 L325.20,323.87 L326.32,324.36 L327.45,324.60 L328.58,325.22 L329.70,325.87 L330.83,326.28 L331.96,326.61 L333.09,326.92 L334.21,327.39 L335.34,327.55 L336.47,327.89 L337.59,328.49 L338.72,328.94 L339.85,328.91 L340.98,329.02 L342.10,329.16 L343.23,329.37 L344.36,329.70 L345.48,329.62 L346.61,329.71 L347.74,329.78" fill="none" stroke="#a04e50" stroke-width="0.6"/>
<line x1="287.50" y1="335.30" x2="367.40" y2="335.30" stroke="#94c4e4" stroke-width="0.6"/>
<path d="M288.00,335.30 L288.00,335.29 L289.13,335.28 L290.25,335.28 L291.38,335.27 L292.51,335.25 L293.64,335.24 L294.76,335.21 L295.89,335.18 L297.02,335.14 L298.14,335.09 L299.27,335.03 L300.40,334.95 L301.53,334.82 L302.65,335.00 L303.78,334.37 L304.91,334.28 L306.03,334.20 L307.16,333.88 L308.29,333.86 L309.42,333.53 L310.54,333.23 L311.67,332.64 L312.80,331.86 L313.92,331.73 L315.05,331.23 L316.18,330.69 L317.31,330.06 L318.43,329.81 L319.56,329.44 L320.69,328.49 L321.81,328.40 L322.94,327.85 L324.07,327.62 L325.20,327.60 L326.32,327.47 L327.45,327.20 L328.58,326.93 L329.70,327.42 L330.83,327.10 L331.96,327.40 L333.09,327.90 L334.21,327.87 L335.34,328.17 L336.47,328.94 L337.59,329.32 L338.72,329.35 L339.85,329.82 L340.98,330.19 L342.10,330.53 L343.23,331.02 L344.36,331.87 L345.48,331.73 L346.61,332.20 L347.74,332.53 L348.87,332.79 L349.99,333.36 L351.12,333.76 L352.25,334.06 L353.37,334.16 L354.50,334.46 L355.63,334.15 L356.76,334.46 L357.88,334.99 L359.01,334.56 L360.14,334.91 L361.26,334.99 L362.39,335.05 L363.52,335.10 L364.65,335.15 L365.77,335.18 L366.90,335.21 L366.90,335.30 Z" fill="#badcf0" fill-opacity="0.82" stroke="none"/>
<path d="M298.14,335.09 L299.27,335.03 L300.40,334.95 L301.53,334.82 L302.65,335.00 L303.78,334.37 L304.91,334.28 L306.03,334.20 L307.16,333.88 L308.29,333.86 L309.42,333.53 L310.54,333.23 L311.67,332.64 L312.80,331.86 L313.92,331.73 L315.05,331.23 L316.18,330.69 L317.31,330.06 L318.43,329.81 L319.56,329.44 L320.69,328.49 L321.81,328.40 L322.94,327.85 L324.07,327.62 L325.20,327.60 L326.32,327.47 L327.45,327.20 L328.58,326.93 L329.70,327.42 L330.83,327.10 L331.96,327.40 L333.09,327.90 L334.21,327.87 L335.34,328.17 L336.47,328.94 L337.59,329.32 L338.72,329.35 L339.85,329.82 L340.98,330.19 L342.10,330.53 L343.23,331.02 L344.36,331.87 L345.48,331.73 L346.61,332.20 L347.74,332.53 L348.87,332.79 L349.99,333.36 L351.12,333.76 L352.25,334.06 L353.37,334.16 L354.50,334.46 L355.63,334.15 L356.76,334.46 L357.88,334.99 L359.01,334.56 L360.14,334.91 L361.26,334.99 L362.39,335.05 L363.52,335.10" fill="none" stroke="#7ab0d4" stroke-width="0.6"/>
<line x1="287.50" y1="340.58" x2="367.40" y2="340.58" stroke="#e29a9a" stroke-width="0.6"/>
<path d="M288.00,340.58 L288.00,340.56 L289.13,340.55 L290.25,340.54 L291.38,340.52 L292.51,340.50 L293.64,340.46 L294.76,340.42 L295.89,340.36 L297.02,340.28 L298.14,340.19 L299.27,339.93 L300.40,339.90 L301.53,339.59 L302.65,339.54 L303.78,338.97 L304.91,338.78 L306.03,338.86 L307.16,337.97 L308.29,337.99 L309.42,337.08 L310.54,337.05 L311.67,336.33 L312.80,335.77 L313.92,334.92 L315.05,334.34 L316.18,334.27 L317.31,333.47 L318.43,333.09 L319.56,333.16 L320.69,332.97 L321.81,332.34 L322.94,332.86 L324.07,332.65 L325.20,332.66 L326.32,332.65 L327.45,333.03 L328.58,333.65 L329.70,333.53 L330.83,333.78 L331.96,334.16 L333.09,334.54 L334.21,335.09 L335.34,335.84 L336.47,335.76 L337.59,336.25 L338.72,337.10 L339.85,337.53 L340.98,337.89 L342.10,337.80 L343.23,338.19 L344.36,338.85 L345.48,338.85 L346.61,339.23 L347.74,339.22 L348.87,339.24 L349.99,339.60 L351.12,340.00 L352.25,340.14 L353.37,340.13 L354.50,340.16 L355.63,340.26 L356.76,340.32 L357.88,340.37 L359.01,340.42 L360.14,340.45 L361.26,340.48 L362.39,340.50 L363.52,340.52 L364.65,340.54 L365.77,340.55 L366.90,340.56 L366.90,340.58 Z" fill="#e8928a" fill-opacity="0.82" stroke="none"/>
<path d="M295.89,340.36 L297.02,340.28 L298.14,340.19 L299.27,339.93 L300.40,339.90 L301.53,339.59 L302.65,339.54 L303.78,338.97 L304.91,338.78 L306.03,338.86 L307.16,337.97 L308.29,337.99 L309.42,337.08 L310.54,337.05 L311.67,336.33 L312.80,335.77 L313.92,334.92 L315.05,334.34 L316.18,334.27 L317.31,333.47 L318.43,333.09 L319.56,333.16 L320.69,332.97 L321.81,332.34 L322.94,332.86 L324.07,332.65 L325.20,332.66 L326.32,332.65 L327.45,333.03 L328.58,333.65 L329.70,333.53 L330.83,333.78 L331.96,334.16 L333.09,334.54 L334.21,335.09 L335.34,335.84 L336.47,335.76 L337.59,336.25 L338.72,337.10 L339.85,337.53 L340.98,337.89 L342.10,337.80 L343.23,338.19 L344.36,338.85 L345.48,338.85 L346.61,339.23 L347.74,339.22 L348.87,339.24 L349.99,339.60 L351.12,340.00 L352.25,340.14 L353.37,340.13 L354.50,340.16 L355.63,340.26 L356.76,340.32 L357.88,340.37" fill="none" stroke="#a04e50" stroke-width="0.6"/>
<line x1="287.50" y1="345.86" x2="367.40" y2="345.86" stroke="#94c4e4" stroke-width="0.6"/>
<path d="M288.00,345.86 L288.00,345.86 L289.13,345.85 L290.25,345.83 L291.38,345.79 L292.51,345.72 L293.64,345.58 L294.76,345.36 L295.89,344.91 L297.02,344.38 L298.14,343.74 L299.27,342.32 L300.40,341.33 L301.53,340.25 L302.65,339.01 L303.78,337.70 L304.91,337.69 L306.03,337.59 L307.16,337.32 L308.29,337.65 L309.42,337.99 L310.54,338.37 L311.67,339.48 L312.80,339.74 L313.92,340.66 L315.05,340.85 L316.18,341.42 L317.31,342.54 L318.43,343.06 L319.56,343.69 L320.69,343.96 L321.81,344.26 L322.94,344.75 L324.07,344.63 L325.20,345.13 L326.32,345.25 L327.45,345.44 L328.58,345.55 L329.70,345.64 L330.83,345.70 L331.96,345.75 L333.09,345.79 L334.21,345.81 L335.34,345.83 L336.47,345.84 L337.59,345.85 L338.72,345.85 L339.85,345.85 L340.98,345.86 L342.10,345.86 L343.23,345.86 L344.36,345.86 L345.48,345.86 L346.61,345.86 L347.74,345.86 L348.87,345.86 L349.99,345.86 L351.12,345.86 L352.25,345.86 L353.37,345.86 L354.50,345.86 L355.63,345.86 L356.76,345.86 L357.88,345.86 L359.01,345.86 L360.14,345.86 L361.26,345.86 L362.39,345.86 L363.52,345.86 L364.65,345.86 L365.77,345.86 L366.90,345.86 L366.90,345.86 Z" fill="#badcf0" fill-opacity="0.82" stroke="none"/>
<path d="M292.51,345.72 L293.64,345.58 L294.76,345.36 L295.89,344.91 L297.02,344.38 L298.14,343.74 L299.27,342.32 L300.40,341.33 L301.53,340.25 L302.65,339.01 L303.78,337.70 L304.91,337.69 L306.03,337.59 L307.16,337.32 L308.29,337.65 L309.42,337.99 L310.54,338.37 L311.67,339.48 L312.80,339.74 L313.92,340.66 L315.05,340.85 L316.18,341.42 L317.31,342.54 L318.43,343.06 L319.56,343.69 L320.69,343.96 L321.81,344.26 L322.94,344.75 L324.07,344.63 L325.20,345.13 L326.32,345.25 L327.45,345.44 L328.58,345.55 L329.70,345.64" fill="none" stroke="#7ab0d4" stroke-width="0.6"/>
<line x1="287.50" y1="351.14" x2="367.40" y2="351.14" stroke="#e29a9a" stroke-width="0.6"/>
<path d="M288.00,351.14 L288.00,351.12 L289.13,351.11 L290.25,351.10 L291.38,351.08 L292.51,351.06 L293.64,351.02 L294.76,350.98 L295.89,350.92 L297.02,350.84 L298.14,350.75 L299.27,350.41 L300.40,350.53 L301.53,350.18 L302.65,350.07 L303.78,349.73 L304.91,349.39 L306.03,349.06 L307.16,348.81 L308.29,348.60 L309.42,348.09 L310.54,347.54 L311.67,346.99 L312.80,346.11 L313.92,345.98 L315.05,345.03 L316.18,344.45 L317.31,344.22 L318.43,343.98 L319.56,343.43 L320.69,343.39 L321.81,343.04 L322.94,343.42 L324.07,343.16 L325.20,343.27 L326.32,343.46 L327.45,343.88 L328.58,344.21 L329.70,344.24 L330.83,344.53 L331.96,345.00 L333.09,345.07 L334.21,345.69 L335.34,346.36 L336.47,346.74 L337.59,346.73 L338.72,347.61 L339.85,347.72 L340.98,348.45 L342.10,348.43 L343.23,348.67 L344.36,349.17 L345.48,349.65 L346.61,349.62 L347.74,350.11 L348.87,350.21 L349.99,350.17 L351.12,350.29 L352.25,350.54 L353.37,350.58 L354.50,350.66 L355.63,350.82 L356.76,350.88 L357.88,350.93 L359.01,350.98 L360.14,351.01 L361.26,351.04 L362.39,351.06 L363.52,351.08 L364.65,351.10 L365.77,351.11 L366.90,351.12 L366.90,351.14 Z" fill="#e8928a" fill-opacity="0.82" stroke="none"/>
<path d="M295.89,350.92 L297.02,350.84 L298.14,350.75 L299.27,350.41 L300.40,350.53 L301.53,350.18 L302.65,350.07 L303.78,349.73 L304.91,349.39 L306.03,349.06 L307.16,348.81 L308.29,348.60 L309.42,348.09 L310.54,347.54 L311.67,346.99 L312.80,346.11 L313.92,345.98 L315.05,345.03 L316.18,344.45 L317.31,344.22 L318.43,343.98 L319.56,343.43 L320.69,343.39 L321.81,343.04 L322.94,343.42 L324.07,343.16 L325.20,343.27 L326.32,343.46 L327.45,343.88 L328.58,344.21 L329.70,344.24 L330.83,344.53 L331.96,345.00 L333.09,345.07 L334.21,345.69 L335.34,346.36 L336.47,346.74 L337.59,346.73 L338.72,347.61 L339.85,347.72 L340.98,348.45 L342.10,348.43 L343.23,348.67 L344.36,349.17 L345.48,349.65 L346.61,349.62 L347.74,350.11 L348.87,350.21 L349.99,350.17 L351.12,350.29 L352.25,350.54 L353.37,350.58 L354.50,350.66 L355.63,350.82 L356.76,350.88 L357.88,350.93" fill="none" stroke="#a04e50" stroke-width="0.6"/>
<line x1="287.50" y1="356.42" x2="367.40" y2="356.42" stroke="#94c4e4" stroke-width="0.6"/>
<path d="M288.00,356.42 L288.00,356.42 L289.13,356.42 L290.25,356.41 L291.38,356.41 L292.51,356.39 L293.64,356.36 L294.76,356.31 L295.89,356.20 L297.02,356.03 L298.14,355.84 L299.27,355.56 L300.40,354.79 L301.53,353.74 L302.65,352.81 L303.78,351.77 L304.91,350.72 L306.03,349.28 L307.16,348.28 L308.29,347.77 L309.42,347.49 L310.54,347.40 L311.67,347.90 L312.80,348.44 L313.92,348.64 L315.05,349.29 L316.18,349.94 L317.31,350.58 L318.43,351.29 L319.56,351.67 L320.69,352.47 L321.81,352.74 L322.94,353.76 L324.07,353.97 L325.20,354.48 L326.32,355.12 L327.45,355.09 L328.58,355.30 L329.70,355.91 L330.83,355.95 L331.96,356.03 L333.09,356.14 L334.21,356.22 L335.34,356.28 L336.47,356.32 L337.59,356.35 L338.72,356.37 L339.85,356.39 L340.98,356.40 L342.10,356.41 L343.23,356.41 L344.36,356.42 L345.48,356.42 L346.61,356.42 L347.74,356.42 L348.87,356.42 L349.99,356.42 L351.12,356.42 L352.25,356.42 L353.37,356.42 L354.50,356.42 L355.63,356.42 L356.76,356.42 L357.88,356.42 L359.01,356.42 L360.14,356.42 L361.26,356.42 L362.39,356.42 L363.52,356.42 L364.65,356.42 L365.77,356.42 L366.90,356.42 L366.90,356.42 Z" fill="#badcf0" fill-opacity="0.82" stroke="none"/>
<path d="M295.89,356.20 L297.02,356.03 L298.14,355.84 L299.27,355.56 L300.40,354.79 L301.53,353.74 L302.65,352.81 L303.78,351.77 L304.91,350.72 L306.03,349.28 L307.16,348.28 L308.29,347.77 L309.42,347.49 L310.54,347.40 L311.67,347.90 L312.80,348.44 L313.92,348.64 L315.05,349.29 L316.18,349.94 L317.31,350.58 L318.43,351.29 L319.56,351.67 L320.69,352.47 L321.81,352.74 L322.94,353.76 L324.07,353.97 L325.20,354.48 L326.32,355.12 L327.45,355.09 L328.58,355.30 L329.70,355.91 L330.83,355.95 L331.96,356.03 L333.09,356.14 L334.21,356.22" fill="none" stroke="#7ab0d4" stroke-width="0.6"/>
<line x1="287.50" y1="361.70" x2="367.40" y2="361.70" stroke="#e29a9a" stroke-width="0.6"/>
<path d="M288.00,361.70 L288.00,361.68 L289.13,361.67 L290.25,361.65 L291.38,361.61 L292.51,361.56 L293.64,361.47 L294.76,361.36 L295.89,360.94 L297.02,360.68 L298.14,360.57 L299.27,359.98 L300.40,359.99 L301.53,359.02 L302.65,358.40 L303.78,357.72 L304.91,356.99 L306.03,356.11 L307.16,355.42 L308.29,354.70 L309.42,353.95 L310.54,353.28 L311.67,353.55 L312.80,353.32 L313.92,353.02 L315.05,353.39 L316.18,353.81 L317.31,354.27 L318.43,354.09 L319.56,354.49 L320.69,355.24 L321.81,355.71 L322.94,356.52 L324.07,357.01 L325.20,357.23 L326.32,357.79 L327.45,358.37 L328.58,359.01 L329.70,359.02 L330.83,359.52 L331.96,359.68 L333.09,360.31 L334.21,360.20 L335.34,360.98 L336.47,360.92 L337.59,361.11 L338.72,360.96 L339.85,361.31 L340.98,361.40 L342.10,361.47 L343.23,361.53 L344.36,361.57 L345.48,361.61 L346.61,361.63 L347.74,361.65 L348.87,361.66 L349.99,361.67 L351.12,361.68 L352.25,361.69 L353.37,361.69 L354.50,361.69 L355.63,361.70 L356.76,361.70 L357.88,361.70 L359.01,361.70 L360.14,361.70 L361.26,361.70 L362.39,361.70 L363.52,361.70 L364.65,361.70 L365.77,361.70 L366.90,361.70 L366.90,361.70 Z" fill="#e8928a" fill-opacity="0.82" stroke="none"/>
<path d="M293.64,361.47 L294.76,361.36 L295.89,360.94 L297.02,360.68 L298.14,360.57 L299.27,359.98 L300.40,359.99 L301.53,359.02 L302.65,358.40 L303.78,357.72 L304.91,356.99 L306.03,356.11 L307.16,355.42 L308.29,354.70 L309.42,353.95 L310.54,353.28 L311.67,353.55 L312.80,353.32 L313.92,353.02 L315.05,353.39 L316.18,353.81 L317.31,354.27 L318.43,354.09 L319.56,354.49 L320.69,355.24 L321.81,355.71 L322.94,356.52 L324.07,357.01 L325.20,357.23 L326.32,357.79 L327.45,358.37 L328.58,359.01 L329.70,359.02 L330.83,359.52 L331.96,359.68 L333.09,360.31 L334.21,360.20 L335.34,360.98 L336.47,360.92 L337.59,361.11 L338.72,360.96 L339.85,361.31 L340.98,361.40 L342.10,361.47" fill="none" stroke="#a04e50" stroke-width="0.6"/>
<rect x="287.50" y="273.60" width="79.90" height="91.10" fill="none" stroke="#333" stroke-width="0.9"/>
<text x="281.00" y="278.50" font-size="6.7" text-anchor="end" fill="#2a2a2a" stroke="#2a2a2a" stroke-width="0.08">hTpoR WT no Tpo</text>
<text x="281.00" y="286.70" font-size="6.7" text-anchor="end" fill="#2a2a2a" stroke="#2a2a2a" stroke-width="0.08">hTpoR WT + Tpo</text>
<text x="281.00" y="295.80" font-size="6.7" text-anchor="end" fill="#2a2a2a" stroke="#2a2a2a" stroke-width="0.08">cc-hTpoR 0</text>
<text x="281.00" y="306.20" font-size="6.7" text-anchor="end" fill="#2a2a2a" stroke="#2a2a2a" stroke-width="0.08">cc-hTpoR I</text>
<text x="281.00" y="316.70" font-size="6.7" text-anchor="end" fill="#2a2a2a" stroke="#2a2a2a" stroke-width="0.08">cc-hTpoR II</text>
<text x="281.00" y="327.30" font-size="6.7" text-anchor="end" fill="#2a2a2a" stroke="#2a2a2a" stroke-width="0.08">cc-hTpoR III</text>
<text x="281.00" y="338.00" font-size="6.7" text-anchor="end" fill="#2a2a2a" stroke="#2a2a2a" stroke-width="0.08">cc-hTpoR IV</text>
<text x="281.00" y="348.60" font-size="6.7" text-anchor="end" fill="#2a2a2a" stroke="#2a2a2a" stroke-width="0.08">cc-hTpoR V</text>
<text x="281.00" y="359.30" font-size="6.7" text-anchor="end" fill="#2a2a2a" stroke="#2a2a2a" stroke-width="0.08">cc-hTpoR VI</text>
<line x1="284.50" y1="288.60" x2="284.50" y2="298.80" stroke="#333" stroke-width="0.8"/>
<line x1="284.50" y1="299.00" x2="284.50" y2="309.20" stroke="#333" stroke-width="0.8"/>
<line x1="284.50" y1="309.50" x2="284.50" y2="319.70" stroke="#333" stroke-width="0.8"/>
<line x1="284.50" y1="320.10" x2="284.50" y2="330.30" stroke="#333" stroke-width="0.8"/>
<line x1="284.50" y1="330.80" x2="284.50" y2="341.00" stroke="#333" stroke-width="0.8"/>
<line x1="284.50" y1="341.40" x2="284.50" y2="351.60" stroke="#333" stroke-width="0.8"/>
<line x1="284.50" y1="352.10" x2="284.50" y2="362.30" stroke="#333" stroke-width="0.8"/>
<text x="293.20" y="376.10" font-size="7.0" text-anchor="middle" fill="#3a3a3a" stroke="#3a3a3a" stroke-width="0.08">0</text>
<text x="328.10" y="376.10" font-size="7.0" text-anchor="middle" fill="#3a3a3a">10<tspan dy="-2.9" font-size="4.6">4</tspan></text>
<text x="366.70" y="376.10" font-size="7.0" text-anchor="middle" fill="#3a3a3a">10<tspan dy="-2.9" font-size="4.6">5</tspan></text>
<line x1="290.00" y1="364.70" x2="290.00" y2="366.50" stroke="#111" stroke-width="0.5"/>
<line x1="290.80" y1="364.70" x2="290.80" y2="366.50" stroke="#111" stroke-width="0.5"/>
<line x1="291.60" y1="364.70" x2="291.60" y2="366.50" stroke="#111" stroke-width="0.5"/>
<line x1="292.40" y1="364.70" x2="292.40" y2="366.50" stroke="#111" stroke-width="0.5"/>
<line x1="293.20" y1="364.70" x2="293.20" y2="366.50" stroke="#111" stroke-width="0.5"/>
<line x1="294.00" y1="364.70" x2="294.00" y2="366.50" stroke="#111" stroke-width="0.5"/>
<line x1="294.80" y1="364.70" x2="294.80" y2="366.50" stroke="#111" stroke-width="0.5"/>
<line x1="295.60" y1="364.70" x2="295.60" y2="366.50" stroke="#111" stroke-width="0.5"/>
<line x1="296.40" y1="364.70" x2="296.40" y2="366.50" stroke="#111" stroke-width="0.5"/>
<line x1="297.20" y1="364.70" x2="297.20" y2="366.50" stroke="#111" stroke-width="0.5"/>
<line x1="298.00" y1="364.70" x2="298.00" y2="366.50" stroke="#111" stroke-width="0.5"/>
<line x1="298.80" y1="364.70" x2="298.80" y2="366.50" stroke="#111" stroke-width="0.5"/>
<line x1="327.80" y1="364.70" x2="327.80" y2="366.90" stroke="#222" stroke-width="0.7"/>
<line x1="339.42" y1="364.70" x2="339.42" y2="366.00" stroke="#333" stroke-width="0.5"/>
<line x1="346.22" y1="364.70" x2="346.22" y2="366.00" stroke="#333" stroke-width="0.5"/>
<line x1="351.04" y1="364.70" x2="351.04" y2="366.00" stroke="#333" stroke-width="0.5"/>
<line x1="354.78" y1="364.70" x2="354.78" y2="366.00" stroke="#333" stroke-width="0.5"/>
<line x1="357.84" y1="364.70" x2="357.84" y2="366.00" stroke="#333" stroke-width="0.5"/>
<line x1="360.42" y1="364.70" x2="360.42" y2="366.00" stroke="#333" stroke-width="0.5"/>
<line x1="362.66" y1="364.70" x2="362.66" y2="366.00" stroke="#333" stroke-width="0.5"/>
<line x1="364.63" y1="364.70" x2="364.63" y2="366.00" stroke="#333" stroke-width="0.5"/>
<line x1="366.40" y1="364.70" x2="366.40" y2="366.90" stroke="#222" stroke-width="0.7"/>
<text x="326.90" y="259.00" font-size="6.3" text-anchor="middle" fill="#2a2a2a" stroke="#2a2a2a" stroke-width="0.08" textLength="25.1" lengthAdjust="spacingAndGlyphs">p-STAT5</text>
<rect x="285.50" y="265.10" width="2.60" height="2.60" fill="#a9cde4"/>
<text x="291.90" y="268.60" font-size="6.3" text-anchor="start" fill="#2a2a2a" stroke="#2a2a2a" stroke-width="0.08" textLength="29.4" lengthAdjust="spacingAndGlyphs">hJAK2 WT</text>
<rect x="324.40" y="265.10" width="2.60" height="2.60" fill="#d88888"/>
<text x="330.30" y="268.60" font-size="6.3" text-anchor="start" fill="#2a2a2a" stroke="#2a2a2a" stroke-width="0.08" textLength="37.4" lengthAdjust="spacingAndGlyphs">hJAK2 V617F</text>
<line x1="286.80" y1="461.90" x2="367.20" y2="461.90" stroke="#e29a9a" stroke-width="0.6"/>
<path d="M287.30,461.90 L287.30,461.90 L288.43,461.90 L289.57,461.90 L290.70,461.90 L291.84,461.90 L292.97,461.90 L294.11,461.90 L295.24,461.88 L296.37,461.81 L297.51,461.59 L298.64,460.87 L299.78,459.83 L300.91,458.14 L302.05,455.54 L303.18,453.29 L304.31,452.89 L305.45,453.28 L306.58,454.71 L307.72,456.46 L308.85,458.40 L309.99,460.22 L311.12,460.72 L312.25,461.48 L313.39,461.74 L314.52,461.84 L315.66,461.88 L316.79,461.90 L317.93,461.90 L319.06,461.90 L320.19,461.90 L321.33,461.90 L322.46,461.90 L323.60,461.90 L324.73,461.90 L325.87,461.90 L327.00,461.90 L328.13,461.90 L329.27,461.90 L330.40,461.90 L331.54,461.90 L332.67,461.90 L333.81,461.90 L334.94,461.90 L336.07,461.90 L337.21,461.90 L338.34,461.90 L339.48,461.90 L340.61,461.90 L341.75,461.90 L342.88,461.90 L344.01,461.90 L345.15,461.90 L346.28,461.90 L347.42,461.90 L348.55,461.90 L349.69,461.90 L350.82,461.90 L351.95,461.90 L353.09,461.90 L354.22,461.90 L355.36,461.90 L356.49,461.90 L357.63,461.90 L358.76,461.90 L359.89,461.90 L361.03,461.90 L362.16,461.90 L363.30,461.90 L364.43,461.90 L365.57,461.90 L366.70,461.90 L366.70,461.90 Z" fill="#e8928a" fill-opacity="0.82" stroke="none"/>
<path d="M296.37,461.81 L297.51,461.59 L298.64,460.87 L299.78,459.83 L300.91,458.14 L302.05,455.54 L303.18,453.29 L304.31,452.89 L305.45,453.28 L306.58,454.71 L307.72,456.46 L308.85,458.40 L309.99,460.22 L311.12,460.72 L312.25,461.48 L313.39,461.74" fill="none" stroke="#a04e50" stroke-width="0.6"/>
<line x1="286.80" y1="467.21" x2="367.20" y2="467.21" stroke="#a6d08c" stroke-width="0.6"/>
<path d="M287.30,467.21 L287.30,467.21 L288.43,467.21 L289.57,467.21 L290.70,467.21 L291.84,467.21 L292.97,467.21 L294.11,467.21 L295.24,467.21 L296.37,467.21 L297.51,467.21 L298.64,467.21 L299.78,467.21 L300.91,467.21 L302.05,467.21 L303.18,467.20 L304.31,467.17 L305.45,467.12 L306.58,467.00 L307.72,466.80 L308.85,466.46 L309.99,465.67 L311.12,464.99 L312.25,463.86 L313.39,462.41 L314.52,460.91 L315.66,459.39 L316.79,458.58 L317.93,458.70 L319.06,458.93 L320.19,459.49 L321.33,460.76 L322.46,461.38 L323.60,462.81 L324.73,463.89 L325.87,464.31 L327.00,465.55 L328.13,465.84 L329.27,466.18 L330.40,466.48 L331.54,466.88 L332.67,467.02 L333.81,467.11 L334.94,467.15 L336.07,467.18 L337.21,467.20 L338.34,467.20 L339.48,467.21 L340.61,467.21 L341.75,467.21 L342.88,467.21 L344.01,467.21 L345.15,467.21 L346.28,467.21 L347.42,467.21 L348.55,467.21 L349.69,467.21 L350.82,467.21 L351.95,467.21 L353.09,467.21 L354.22,467.21 L355.36,467.21 L356.49,467.21 L357.63,467.21 L358.76,467.21 L359.89,467.21 L361.03,467.21 L362.16,467.21 L363.30,467.21 L364.43,467.21 L365.57,467.21 L366.70,467.21 L366.70,467.21 Z" fill="#bcdca2" fill-opacity="0.82" stroke="none"/>
<path d="M306.58,467.00 L307.72,466.80 L308.85,466.46 L309.99,465.67 L311.12,464.99 L312.25,463.86 L313.39,462.41 L314.52,460.91 L315.66,459.39 L316.79,458.58 L317.93,458.70 L319.06,458.93 L320.19,459.49 L321.33,460.76 L322.46,461.38 L323.60,462.81 L324.73,463.89 L325.87,464.31 L327.00,465.55 L328.13,465.84 L329.27,466.18 L330.40,466.48 L331.54,466.88 L332.67,467.02" fill="none" stroke="#84b468" stroke-width="0.6"/>
<line x1="286.80" y1="472.52" x2="367.20" y2="472.52" stroke="#94c4e4" stroke-width="0.6"/>
<path d="M287.30,472.52 L287.30,472.52 L288.43,472.52 L289.57,472.52 L290.70,472.52 L291.84,472.52 L292.97,472.52 L294.11,472.51 L295.24,472.48 L296.37,472.43 L297.51,472.32 L298.64,471.83 L299.78,471.74 L300.91,471.06 L302.05,470.47 L303.18,469.31 L304.31,467.51 L305.45,466.37 L306.58,465.24 L307.72,464.44 L308.85,464.38 L309.99,464.50 L311.12,464.99 L312.25,465.13 L313.39,465.43 L314.52,466.00 L315.66,466.71 L316.79,467.38 L317.93,467.80 L319.06,468.67 L320.19,468.96 L321.33,469.77 L322.46,470.23 L323.60,470.40 L324.73,471.13 L325.87,471.24 L327.00,471.60 L328.13,471.86 L329.27,472.05 L330.40,472.08 L331.54,472.23 L332.67,472.31 L333.81,472.37 L334.94,472.42 L336.07,472.45 L337.21,472.47 L338.34,472.49 L339.48,472.50 L340.61,472.51 L341.75,472.51 L342.88,472.51 L344.01,472.52 L345.15,472.52 L346.28,472.52 L347.42,472.52 L348.55,472.52 L349.69,472.52 L350.82,472.52 L351.95,472.52 L353.09,472.52 L354.22,472.52 L355.36,472.52 L356.49,472.52 L357.63,472.52 L358.76,472.52 L359.89,472.52 L361.03,472.52 L362.16,472.52 L363.30,472.52 L364.43,472.52 L365.57,472.52 L366.70,472.52 L366.70,472.52 Z" fill="#badcf0" fill-opacity="0.82" stroke="none"/>
<path d="M297.51,472.32 L298.64,471.83 L299.78,471.74 L300.91,471.06 L302.05,470.47 L303.18,469.31 L304.31,467.51 L305.45,466.37 L306.58,465.24 L307.72,464.44 L308.85,464.38 L309.99,464.50 L311.12,464.99 L312.25,465.13 L313.39,465.43 L314.52,466.00 L315.66,466.71 L316.79,467.38 L317.93,467.80 L319.06,468.67 L320.19,468.96 L321.33,469.77 L322.46,470.23 L323.60,470.40 L324.73,471.13 L325.87,471.24 L327.00,471.60 L328.13,471.86 L329.27,472.05 L330.40,472.08 L331.54,472.23 L332.67,472.31" fill="none" stroke="#7ab0d4" stroke-width="0.6"/>
<line x1="286.80" y1="477.83" x2="367.20" y2="477.83" stroke="#e29a9a" stroke-width="0.6"/>
<path d="M287.30,477.83 L287.30,477.83 L288.43,477.83 L289.57,477.83 L290.70,477.83 L291.84,477.81 L292.97,477.78 L294.11,477.70 L295.24,477.51 L296.37,476.87 L297.51,476.63 L298.64,475.61 L299.78,473.92 L300.91,472.24 L302.05,470.38 L303.18,469.52 L304.31,468.94 L305.45,468.78 L306.58,469.49 L307.72,470.13 L308.85,470.45 L309.99,471.66 L311.12,472.22 L312.25,472.92 L313.39,474.09 L314.52,474.64 L315.66,475.56 L316.79,476.05 L317.93,476.24 L319.06,476.87 L320.19,477.36 L321.33,477.35 L322.46,477.52 L323.60,477.63 L324.73,477.70 L325.87,477.75 L327.00,477.78 L328.13,477.80 L329.27,477.81 L330.40,477.82 L331.54,477.83 L332.67,477.83 L333.81,477.83 L334.94,477.83 L336.07,477.83 L337.21,477.83 L338.34,477.83 L339.48,477.83 L340.61,477.83 L341.75,477.83 L342.88,477.83 L344.01,477.83 L345.15,477.83 L346.28,477.83 L347.42,477.83 L348.55,477.83 L349.69,477.83 L350.82,477.83 L351.95,477.83 L353.09,477.83 L354.22,477.83 L355.36,477.83 L356.49,477.83 L357.63,477.83 L358.76,477.83 L359.89,477.83 L361.03,477.83 L362.16,477.83 L363.30,477.83 L364.43,477.83 L365.57,477.83 L366.70,477.83 L366.70,477.83 Z" fill="#e8928a" fill-opacity="0.82" stroke="none"/>
<path d="M294.11,477.70 L295.24,477.51 L296.37,476.87 L297.51,476.63 L298.64,475.61 L299.78,473.92 L300.91,472.24 L302.05,470.38 L303.18,469.52 L304.31,468.94 L305.45,468.78 L306.58,469.49 L307.72,470.13 L308.85,470.45 L309.99,471.66 L311.12,472.22 L312.25,472.92 L313.39,474.09 L314.52,474.64 L315.66,475.56 L316.79,476.05 L317.93,476.24 L319.06,476.87 L320.19,477.36 L321.33,477.35 L322.46,477.52 L323.60,477.63" fill="none" stroke="#a04e50" stroke-width="0.6"/>
<line x1="286.80" y1="483.14" x2="367.20" y2="483.14" stroke="#94c4e4" stroke-width="0.6"/>
<path d="M287.30,483.14 L287.30,483.14 L288.43,483.14 L289.57,483.14 L290.70,483.14 L291.84,483.13 L292.97,483.11 L294.11,483.05 L295.24,482.94 L296.37,482.73 L297.51,482.36 L298.64,481.92 L299.78,480.73 L300.91,479.50 L302.05,478.08 L303.18,476.69 L304.31,475.01 L305.45,474.10 L306.58,474.30 L307.72,474.23 L308.85,474.22 L309.99,474.79 L311.12,475.07 L312.25,475.21 L313.39,475.87 L314.52,476.22 L315.66,476.65 L316.79,476.87 L317.93,477.22 L319.06,478.13 L320.19,478.68 L321.33,478.94 L322.46,479.49 L323.60,480.00 L324.73,480.22 L325.87,480.88 L327.00,481.14 L328.13,481.35 L329.27,481.46 L330.40,481.98 L331.54,482.05 L332.67,482.47 L333.81,482.29 L334.94,482.56 L336.07,482.73 L337.21,482.81 L338.34,482.89 L339.48,482.94 L340.61,482.99 L341.75,483.03 L342.88,483.05 L344.01,483.08 L345.15,483.09 L346.28,483.11 L347.42,483.11 L348.55,483.12 L349.69,483.13 L350.82,483.13 L351.95,483.13 L353.09,483.14 L354.22,483.14 L355.36,483.14 L356.49,483.14 L357.63,483.14 L358.76,483.14 L359.89,483.14 L361.03,483.14 L362.16,483.14 L363.30,483.14 L364.43,483.14 L365.57,483.14 L366.70,483.14 L366.70,483.14 Z" fill="#badcf0" fill-opacity="0.82" stroke="none"/>
<path d="M295.24,482.94 L296.37,482.73 L297.51,482.36 L298.64,481.92 L299.78,480.73 L300.91,479.50 L302.05,478.08 L303.18,476.69 L304.31,475.01 L305.45,474.10 L306.58,474.30 L307.72,474.23 L308.85,474.22 L309.99,474.79 L311.12,475.07 L312.25,475.21 L313.39,475.87 L314.52,476.22 L315.66,476.65 L316.79,476.87 L317.93,477.22 L319.06,478.13 L320.19,478.68 L321.33,478.94 L322.46,479.49 L323.60,480.00 L324.73,480.22 L325.87,480.88 L327.00,481.14 L328.13,481.35 L329.27,481.46 L330.40,481.98 L331.54,482.05 L332.67,482.47 L333.81,482.29 L334.94,482.56 L336.07,482.73 L337.21,482.81 L338.34,482.89" fill="none" stroke="#7ab0d4" stroke-width="0.6"/>
<line x1="286.80" y1="488.45" x2="367.20" y2="488.45" stroke="#e29a9a" stroke-width="0.6"/>
<path d="M287.30,488.45 L287.30,488.45 L288.43,488.45 L289.57,488.45 L290.70,488.45 L291.84,488.45 L292.97,488.44 L294.11,488.42 L295.24,488.37 L296.37,488.26 L297.51,488.05 L298.64,487.48 L299.78,487.00 L300.91,486.19 L302.05,484.70 L303.18,483.25 L304.31,482.05 L305.45,480.64 L306.58,480.03 L307.72,479.65 L308.85,479.67 L309.99,480.07 L311.12,480.51 L312.25,480.75 L313.39,480.87 L314.52,481.18 L315.66,481.40 L316.79,481.98 L317.93,482.48 L319.06,483.35 L320.19,483.35 L321.33,484.33 L322.46,484.52 L323.60,484.95 L324.73,485.28 L325.87,486.10 L327.00,486.00 L328.13,486.56 L329.27,486.82 L330.40,486.90 L331.54,487.15 L332.67,487.80 L333.81,487.86 L334.94,487.97 L336.07,488.20 L337.21,488.06 L338.34,488.14 L339.48,488.21 L340.61,488.26 L341.75,488.31 L342.88,488.34 L344.01,488.37 L345.15,488.39 L346.28,488.40 L347.42,488.42 L348.55,488.43 L349.69,488.43 L350.82,488.44 L351.95,488.44 L353.09,488.44 L354.22,488.45 L355.36,488.45 L356.49,488.45 L357.63,488.45 L358.76,488.45 L359.89,488.45 L361.03,488.45 L362.16,488.45 L363.30,488.45 L364.43,488.45 L365.57,488.45 L366.70,488.45 L366.70,488.45 Z" fill="#e8928a" fill-opacity="0.82" stroke="none"/>
<path d="M296.37,488.26 L297.51,488.05 L298.64,487.48 L299.78,487.00 L300.91,486.19 L302.05,484.70 L303.18,483.25 L304.31,482.05 L305.45,480.64 L306.58,480.03 L307.72,479.65 L308.85,479.67 L309.99,480.07 L311.12,480.51 L312.25,480.75 L313.39,480.87 L314.52,481.18 L315.66,481.40 L316.79,481.98 L317.93,482.48 L319.06,483.35 L320.19,483.35 L321.33,484.33 L322.46,484.52 L323.60,484.95 L324.73,485.28 L325.87,486.10 L327.00,486.00 L328.13,486.56 L329.27,486.82 L330.40,486.90 L331.54,487.15 L332.67,487.80 L333.81,487.86 L334.94,487.97 L336.07,488.20 L337.21,488.06 L338.34,488.14 L339.48,488.21" fill="none" stroke="#a04e50" stroke-width="0.6"/>
<line x1="286.80" y1="493.76" x2="367.20" y2="493.76" stroke="#94c4e4" stroke-width="0.6"/>
<path d="M287.30,493.76 L287.30,493.76 L288.43,493.76 L289.57,493.76 L290.70,493.75 L291.84,493.72 L292.97,493.66 L294.11,493.51 L295.24,492.95 L296.37,492.75 L297.51,491.88 L298.64,490.29 L299.78,488.91 L300.91,487.71 L302.05,486.15 L303.18,485.92 L304.31,485.64 L305.45,486.23 L306.58,486.45 L307.72,487.21 L308.85,487.84 L309.99,488.91 L311.12,489.62 L312.25,490.23 L313.39,491.04 L314.52,491.50 L315.66,492.26 L316.79,492.37 L317.93,492.88 L319.06,493.18 L320.19,493.26 L321.33,493.47 L322.46,493.57 L323.60,493.64 L324.73,493.69 L325.87,493.72 L327.00,493.73 L328.13,493.75 L329.27,493.75 L330.40,493.76 L331.54,493.76 L332.67,493.76 L333.81,493.76 L334.94,493.76 L336.07,493.76 L337.21,493.76 L338.34,493.76 L339.48,493.76 L340.61,493.76 L341.75,493.76 L342.88,493.76 L344.01,493.76 L345.15,493.76 L346.28,493.76 L347.42,493.76 L348.55,493.76 L349.69,493.76 L350.82,493.76 L351.95,493.76 L353.09,493.76 L354.22,493.76 L355.36,493.76 L356.49,493.76 L357.63,493.76 L358.76,493.76 L359.89,493.76 L361.03,493.76 L362.16,493.76 L363.30,493.76 L364.43,493.76 L365.57,493.76 L366.70,493.76 L366.70,493.76 Z" fill="#badcf0" fill-opacity="0.82" stroke="none"/>
<path d="M292.97,493.66 L294.11,493.51 L295.24,492.95 L296.37,492.75 L297.51,491.88 L298.64,490.29 L299.78,488.91 L300.91,487.71 L302.05,486.15 L303.18,485.92 L304.31,485.64 L305.45,486.23 L306.58,486.45 L307.72,487.21 L308.85,487.84 L309.99,488.91 L311.12,489.62 L312.25,490.23 L313.39,491.04 L314.52,491.50 L315.66,492.26 L316.79,492.37 L317.93,492.88 L319.06,493.18 L320.19,493.26 L321.33,493.47 L322.46,493.57" fill="none" stroke="#7ab0d4" stroke-width="0.6"/>
<line x1="286.80" y1="499.07" x2="367.20" y2="499.07" stroke="#e29a9a" stroke-width="0.6"/>
<path d="M287.30,499.07 L287.30,499.07 L288.43,499.07 L289.57,499.07 L290.70,499.07 L291.84,499.07 L292.97,499.06 L294.11,499.04 L295.24,498.99 L296.37,498.88 L297.51,498.67 L298.64,498.02 L299.78,497.47 L300.91,496.85 L302.05,495.39 L303.18,494.30 L304.31,492.69 L305.45,491.71 L306.58,490.86 L307.72,490.61 L308.85,490.50 L309.99,490.54 L311.12,491.21 L312.25,491.78 L313.39,492.43 L314.52,492.60 L315.66,493.22 L316.79,494.37 L317.93,494.87 L319.06,495.35 L320.19,496.08 L321.33,496.26 L322.46,496.98 L323.60,497.47 L324.73,497.79 L325.87,497.82 L327.00,498.05 L328.13,498.54 L329.27,498.85 L330.40,498.74 L331.54,498.83 L332.67,498.90 L333.81,498.95 L334.94,498.99 L336.07,499.02 L337.21,499.03 L338.34,499.05 L339.48,499.06 L340.61,499.06 L341.75,499.06 L342.88,499.07 L344.01,499.07 L345.15,499.07 L346.28,499.07 L347.42,499.07 L348.55,499.07 L349.69,499.07 L350.82,499.07 L351.95,499.07 L353.09,499.07 L354.22,499.07 L355.36,499.07 L356.49,499.07 L357.63,499.07 L358.76,499.07 L359.89,499.07 L361.03,499.07 L362.16,499.07 L363.30,499.07 L364.43,499.07 L365.57,499.07 L366.70,499.07 L366.70,499.07 Z" fill="#e8928a" fill-opacity="0.82" stroke="none"/>
<path d="M296.37,498.88 L297.51,498.67 L298.64,498.02 L299.78,497.47 L300.91,496.85 L302.05,495.39 L303.18,494.30 L304.31,492.69 L305.45,491.71 L306.58,490.86 L307.72,490.61 L308.85,490.50 L309.99,490.54 L311.12,491.21 L312.25,491.78 L313.39,492.43 L314.52,492.60 L315.66,493.22 L316.79,494.37 L317.93,494.87 L319.06,495.35 L320.19,496.08 L321.33,496.26 L322.46,496.98 L323.60,497.47 L324.73,497.79 L325.87,497.82 L327.00,498.05 L328.13,498.54 L329.27,498.85 L330.40,498.74 L331.54,498.83" fill="none" stroke="#a04e50" stroke-width="0.6"/>
<line x1="286.80" y1="504.38" x2="367.20" y2="504.38" stroke="#94c4e4" stroke-width="0.6"/>
<path d="M287.30,504.38 L287.30,504.38 L288.43,504.38 L289.57,504.38 L290.70,504.38 L291.84,504.37 L292.97,504.34 L294.11,504.26 L295.24,504.10 L296.37,503.55 L297.51,502.87 L298.64,501.96 L299.78,501.08 L300.91,499.31 L302.05,497.85 L303.18,497.08 L304.31,496.45 L305.45,496.32 L306.58,496.82 L307.72,496.78 L308.85,497.44 L309.99,498.28 L311.12,498.62 L312.25,499.22 L313.39,500.20 L314.52,500.74 L315.66,501.74 L316.79,501.78 L317.93,502.69 L319.06,502.85 L320.19,503.45 L321.33,503.52 L322.46,503.87 L323.60,503.84 L324.73,504.07 L325.87,504.17 L327.00,504.24 L328.13,504.29 L329.27,504.32 L330.40,504.34 L331.54,504.36 L332.67,504.37 L333.81,504.37 L334.94,504.37 L336.07,504.38 L337.21,504.38 L338.34,504.38 L339.48,504.38 L340.61,504.38 L341.75,504.38 L342.88,504.38 L344.01,504.38 L345.15,504.38 L346.28,504.38 L347.42,504.38 L348.55,504.38 L349.69,504.38 L350.82,504.38 L351.95,504.38 L353.09,504.38 L354.22,504.38 L355.36,504.38 L356.49,504.38 L357.63,504.38 L358.76,504.38 L359.89,504.38 L361.03,504.38 L362.16,504.38 L363.30,504.38 L364.43,504.38 L365.57,504.38 L366.70,504.38 L366.70,504.38 Z" fill="#badcf0" fill-opacity="0.82" stroke="none"/>
<path d="M294.11,504.26 L295.24,504.10 L296.37,503.55 L297.51,502.87 L298.64,501.96 L299.78,501.08 L300.91,499.31 L302.05,497.85 L303.18,497.08 L304.31,496.45 L305.45,496.32 L306.58,496.82 L307.72,496.78 L308.85,497.44 L309.99,498.28 L311.12,498.62 L312.25,499.22 L313.39,500.20 L314.52,500.74 L315.66,501.74 L316.79,501.78 L317.93,502.69 L319.06,502.85 L320.19,503.45 L321.33,503.52 L322.46,503.87 L323.60,503.84 L324.73,504.07 L325.87,504.17" fill="none" stroke="#7ab0d4" stroke-width="0.6"/>
<line x1="286.80" y1="509.69" x2="367.20" y2="509.69" stroke="#e29a9a" stroke-width="0.6"/>
<path d="M287.30,509.69 L287.30,509.69 L288.43,509.69 L289.57,509.69 L290.70,509.69 L291.84,509.69 L292.97,509.68 L294.11,509.66 L295.24,509.61 L296.37,509.50 L297.51,509.29 L298.64,508.74 L299.78,508.26 L300.91,507.56 L302.05,506.09 L303.18,504.60 L304.31,503.25 L305.45,501.81 L306.58,501.16 L307.72,501.14 L308.85,501.23 L309.99,501.50 L311.12,501.67 L312.25,501.97 L313.39,502.51 L314.52,503.31 L315.66,503.86 L316.79,504.74 L317.93,505.21 L319.06,506.13 L320.19,506.62 L321.33,507.19 L322.46,507.71 L323.60,508.00 L324.73,508.30 L325.87,508.53 L327.00,508.62 L328.13,509.26 L329.27,509.24 L330.40,509.36 L331.54,509.45 L332.67,509.52 L333.81,509.57 L334.94,509.61 L336.07,509.64 L337.21,509.65 L338.34,509.67 L339.48,509.68 L340.61,509.68 L341.75,509.68 L342.88,509.69 L344.01,509.69 L345.15,509.69 L346.28,509.69 L347.42,509.69 L348.55,509.69 L349.69,509.69 L350.82,509.69 L351.95,509.69 L353.09,509.69 L354.22,509.69 L355.36,509.69 L356.49,509.69 L357.63,509.69 L358.76,509.69 L359.89,509.69 L361.03,509.69 L362.16,509.69 L363.30,509.69 L364.43,509.69 L365.57,509.69 L366.70,509.69 L366.70,509.69 Z" fill="#e8928a" fill-opacity="0.82" stroke="none"/>
<path d="M296.37,509.50 L297.51,509.29 L298.64,508.74 L299.78,508.26 L300.91,507.56 L302.05,506.09 L303.18,504.60 L304.31,503.25 L305.45,501.81 L306.58,501.16 L307.72,501.14 L308.85,501.23 L309.99,501.50 L311.12,501.67 L312.25,501.97 L313.39,502.51 L314.52,503.31 L315.66,503.86 L316.79,504.74 L317.93,505.21 L319.06,506.13 L320.19,506.62 L321.33,507.19 L322.46,507.71 L323.60,508.00 L324.73,508.30 L325.87,508.53 L327.00,508.62 L328.13,509.26 L329.27,509.24 L330.40,509.36 L331.54,509.45" fill="none" stroke="#a04e50" stroke-width="0.6"/>
<line x1="286.80" y1="515.00" x2="367.20" y2="515.00" stroke="#94c4e4" stroke-width="0.6"/>
<path d="M287.30,515.00 L287.30,515.00 L288.43,514.99 L289.57,514.99 L290.70,514.98 L291.84,514.96 L292.97,514.94 L294.11,514.91 L295.24,514.86 L296.37,514.79 L297.51,514.70 L298.64,514.56 L299.78,514.15 L300.91,514.41 L302.05,513.90 L303.18,513.56 L304.31,512.99 L305.45,512.27 L306.58,512.17 L307.72,510.97 L308.85,510.33 L309.99,509.91 L311.12,508.57 L312.25,508.00 L313.39,507.24 L314.52,506.45 L315.66,506.34 L316.79,505.66 L317.93,505.23 L319.06,505.50 L320.19,505.31 L321.33,505.93 L322.46,506.32 L323.60,506.71 L324.73,506.64 L325.87,507.51 L327.00,507.83 L328.13,508.51 L329.27,509.00 L330.40,509.59 L331.54,510.07 L332.67,510.93 L333.81,511.14 L334.94,512.17 L336.07,512.08 L337.21,513.04 L338.34,512.95 L339.48,513.21 L340.61,513.89 L341.75,514.00 L342.88,514.35 L344.01,514.36 L345.15,514.57 L346.28,514.61 L347.42,514.70 L348.55,514.77 L349.69,514.83 L350.82,514.87 L351.95,514.91 L353.09,514.93 L354.22,514.95 L355.36,514.97 L356.49,514.98 L357.63,514.98 L358.76,514.99 L359.89,514.99 L361.03,514.99 L362.16,515.00 L363.30,515.00 L364.43,515.00 L365.57,515.00 L366.70,515.00 L366.70,515.00 Z" fill="#badcf0" fill-opacity="0.82" stroke="none"/>
<path d="M296.37,514.79 L297.51,514.70 L298.64,514.56 L299.78,514.15 L300.91,514.41 L302.05,513.90 L303.18,513.56 L304.31,512.99 L305.45,512.27 L306.58,512.17 L307.72,510.97 L308.85,510.33 L309.99,509.91 L311.12,508.57 L312.25,508.00 L313.39,507.24 L314.52,506.45 L315.66,506.34 L316.79,505.66 L317.93,505.23 L319.06,505.50 L320.19,505.31 L321.33,505.93 L322.46,506.32 L323.60,506.71 L324.73,506.64 L325.87,507.51 L327.00,507.83 L328.13,508.51 L329.27,509.00 L330.40,509.59 L331.54,510.07 L332.67,510.93 L333.81,511.14 L334.94,512.17 L336.07,512.08 L337.21,513.04 L338.34,512.95 L339.48,513.21 L340.61,513.89 L341.75,514.00 L342.88,514.35 L344.01,514.36 L345.15,514.57 L346.28,514.61 L347.42,514.70 L348.55,514.77" fill="none" stroke="#7ab0d4" stroke-width="0.6"/>
<line x1="286.80" y1="520.31" x2="367.20" y2="520.31" stroke="#e29a9a" stroke-width="0.6"/>
<path d="M287.30,520.31 L287.30,520.30 L288.43,520.30 L289.57,520.29 L290.70,520.28 L291.84,520.26 L292.97,520.23 L294.11,520.19 L295.24,520.13 L296.37,520.05 L297.51,519.94 L298.64,519.54 L299.78,519.69 L300.91,519.34 L302.05,519.29 L303.18,518.32 L304.31,517.89 L305.45,517.71 L306.58,517.26 L307.72,516.29 L308.85,515.75 L309.99,514.94 L311.12,514.13 L312.25,513.51 L313.39,513.01 L314.52,512.19 L315.66,512.01 L316.79,512.09 L317.93,511.77 L319.06,511.96 L320.19,511.97 L321.33,512.24 L322.46,512.69 L323.60,513.07 L324.73,513.58 L325.87,513.71 L327.00,513.99 L328.13,514.54 L329.27,514.85 L330.40,515.44 L331.54,516.12 L332.67,516.60 L333.81,516.82 L334.94,517.20 L336.07,517.53 L337.21,517.94 L338.34,518.45 L339.48,518.59 L340.61,519.23 L341.75,519.26 L342.88,519.32 L344.01,519.54 L345.15,519.44 L346.28,519.98 L347.42,519.93 L348.55,520.01 L349.69,520.08 L350.82,520.13 L351.95,520.17 L353.09,520.21 L354.22,520.23 L355.36,520.25 L356.49,520.27 L357.63,520.28 L358.76,520.29 L359.89,520.29 L361.03,520.30 L362.16,520.30 L363.30,520.30 L364.43,520.31 L365.57,520.31 L366.70,520.31 L366.70,520.31 Z" fill="#e8928a" fill-opacity="0.82" stroke="none"/>
<path d="M295.24,520.13 L296.37,520.05 L297.51,519.94 L298.64,519.54 L299.78,519.69 L300.91,519.34 L302.05,519.29 L303.18,518.32 L304.31,517.89 L305.45,517.71 L306.58,517.26 L307.72,516.29 L308.85,515.75 L309.99,514.94 L311.12,514.13 L312.25,513.51 L313.39,513.01 L314.52,512.19 L315.66,512.01 L316.79,512.09 L317.93,511.77 L319.06,511.96 L320.19,511.97 L321.33,512.24 L322.46,512.69 L323.60,513.07 L324.73,513.58 L325.87,513.71 L327.00,513.99 L328.13,514.54 L329.27,514.85 L330.40,515.44 L331.54,516.12 L332.67,516.60 L333.81,516.82 L334.94,517.20 L336.07,517.53 L337.21,517.94 L338.34,518.45 L339.48,518.59 L340.61,519.23 L341.75,519.26 L342.88,519.32 L344.01,519.54 L345.15,519.44 L346.28,519.98 L347.42,519.93 L348.55,520.01 L349.69,520.08" fill="none" stroke="#a04e50" stroke-width="0.6"/>
<line x1="286.80" y1="525.62" x2="367.20" y2="525.62" stroke="#94c4e4" stroke-width="0.6"/>
<path d="M287.30,525.62 L287.30,525.62 L288.43,525.62 L289.57,525.61 L290.70,525.59 L291.84,525.53 L292.97,525.39 L294.11,525.25 L295.24,524.49 L296.37,523.85 L297.51,522.35 L298.64,520.82 L299.78,519.29 L300.91,518.04 L302.05,517.70 L303.18,517.77 L304.31,518.08 L305.45,518.15 L306.58,519.15 L307.72,519.68 L308.85,520.38 L309.99,521.24 L311.12,521.96 L312.25,522.53 L313.39,523.28 L314.52,523.97 L315.66,524.45 L316.79,524.93 L317.93,524.77 L319.06,525.40 L320.19,525.32 L321.33,525.42 L322.46,525.49 L323.60,525.54 L324.73,525.57 L325.87,525.59 L327.00,525.60 L328.13,525.61 L329.27,525.62 L330.40,525.62 L331.54,525.62 L332.67,525.62 L333.81,525.62 L334.94,525.62 L336.07,525.62 L337.21,525.62 L338.34,525.62 L339.48,525.62 L340.61,525.62 L341.75,525.62 L342.88,525.62 L344.01,525.62 L345.15,525.62 L346.28,525.62 L347.42,525.62 L348.55,525.62 L349.69,525.62 L350.82,525.62 L351.95,525.62 L353.09,525.62 L354.22,525.62 L355.36,525.62 L356.49,525.62 L357.63,525.62 L358.76,525.62 L359.89,525.62 L361.03,525.62 L362.16,525.62 L363.30,525.62 L364.43,525.62 L365.57,525.62 L366.70,525.62 L366.70,525.62 Z" fill="#badcf0" fill-opacity="0.82" stroke="none"/>
<path d="M292.97,525.39 L294.11,525.25 L295.24,524.49 L296.37,523.85 L297.51,522.35 L298.64,520.82 L299.78,519.29 L300.91,518.04 L302.05,517.70 L303.18,517.77 L304.31,518.08 L305.45,518.15 L306.58,519.15 L307.72,519.68 L308.85,520.38 L309.99,521.24 L311.12,521.96 L312.25,522.53 L313.39,523.28 L314.52,523.97 L315.66,524.45 L316.79,524.93 L317.93,524.77 L319.06,525.40 L320.19,525.32 L321.33,525.42" fill="none" stroke="#7ab0d4" stroke-width="0.6"/>
<line x1="286.80" y1="530.93" x2="367.20" y2="530.93" stroke="#e29a9a" stroke-width="0.6"/>
<path d="M287.30,530.93 L287.30,530.93 L288.43,530.93 L289.57,530.93 L290.70,530.93 L291.84,530.93 L292.97,530.92 L294.11,530.90 L295.24,530.87 L296.37,530.79 L297.51,530.66 L298.64,530.59 L299.78,530.14 L300.91,529.70 L302.05,528.35 L303.18,527.63 L304.31,526.42 L305.45,524.58 L306.58,523.59 L307.72,522.81 L308.85,521.87 L309.99,522.16 L311.12,522.34 L312.25,522.33 L313.39,522.56 L314.52,523.11 L315.66,524.06 L316.79,524.46 L317.93,525.07 L319.06,525.84 L320.19,526.80 L321.33,527.04 L322.46,527.50 L323.60,528.61 L324.73,528.71 L325.87,529.17 L327.00,529.89 L328.13,529.77 L329.27,529.89 L330.40,530.57 L331.54,530.49 L332.67,530.61 L333.81,530.70 L334.94,530.77 L336.07,530.82 L337.21,530.85 L338.34,530.88 L339.48,530.90 L340.61,530.91 L341.75,530.92 L342.88,530.92 L344.01,530.92 L345.15,530.93 L346.28,530.93 L347.42,530.93 L348.55,530.93 L349.69,530.93 L350.82,530.93 L351.95,530.93 L353.09,530.93 L354.22,530.93 L355.36,530.93 L356.49,530.93 L357.63,530.93 L358.76,530.93 L359.89,530.93 L361.03,530.93 L362.16,530.93 L363.30,530.93 L364.43,530.93 L365.57,530.93 L366.70,530.93 L366.70,530.93 Z" fill="#e8928a" fill-opacity="0.82" stroke="none"/>
<path d="M296.37,530.79 L297.51,530.66 L298.64,530.59 L299.78,530.14 L300.91,529.70 L302.05,528.35 L303.18,527.63 L304.31,526.42 L305.45,524.58 L306.58,523.59 L307.72,522.81 L308.85,521.87 L309.99,522.16 L311.12,522.34 L312.25,522.33 L313.39,522.56 L314.52,523.11 L315.66,524.06 L316.79,524.46 L317.93,525.07 L319.06,525.84 L320.19,526.80 L321.33,527.04 L322.46,527.50 L323.60,528.61 L324.73,528.71 L325.87,529.17 L327.00,529.89 L328.13,529.77 L329.27,529.89 L330.40,530.57 L331.54,530.49 L332.67,530.61 L333.81,530.70" fill="none" stroke="#a04e50" stroke-width="0.6"/>
<line x1="286.80" y1="536.24" x2="367.20" y2="536.24" stroke="#94c4e4" stroke-width="0.6"/>
<path d="M287.30,536.24 L287.30,536.24 L288.43,536.24 L289.57,536.24 L290.70,536.23 L291.84,536.20 L292.97,536.13 L294.11,535.97 L295.24,535.48 L296.37,534.86 L297.51,534.32 L298.64,532.53 L299.78,531.30 L300.91,529.33 L302.05,528.06 L303.18,527.47 L304.31,527.79 L305.45,528.21 L306.58,528.77 L307.72,529.69 L308.85,530.51 L309.99,531.82 L311.12,532.82 L312.25,533.57 L313.39,534.34 L314.52,534.49 L315.66,535.06 L316.79,535.38 L317.93,535.59 L319.06,535.97 L320.19,536.08 L321.33,536.15 L322.46,536.19 L323.60,536.21 L324.73,536.23 L325.87,536.23 L327.00,536.24 L328.13,536.24 L329.27,536.24 L330.40,536.24 L331.54,536.24 L332.67,536.24 L333.81,536.24 L334.94,536.24 L336.07,536.24 L337.21,536.24 L338.34,536.24 L339.48,536.24 L340.61,536.24 L341.75,536.24 L342.88,536.24 L344.01,536.24 L345.15,536.24 L346.28,536.24 L347.42,536.24 L348.55,536.24 L349.69,536.24 L350.82,536.24 L351.95,536.24 L353.09,536.24 L354.22,536.24 L355.36,536.24 L356.49,536.24 L357.63,536.24 L358.76,536.24 L359.89,536.24 L361.03,536.24 L362.16,536.24 L363.30,536.24 L364.43,536.24 L365.57,536.24 L366.70,536.24 L366.70,536.24 Z" fill="#badcf0" fill-opacity="0.82" stroke="none"/>
<path d="M292.97,536.13 L294.11,535.97 L295.24,535.48 L296.37,534.86 L297.51,534.32 L298.64,532.53 L299.78,531.30 L300.91,529.33 L302.05,528.06 L303.18,527.47 L304.31,527.79 L305.45,528.21 L306.58,528.77 L307.72,529.69 L308.85,530.51 L309.99,531.82 L311.12,532.82 L312.25,533.57 L313.39,534.34 L314.52,534.49 L315.66,535.06 L316.79,535.38 L317.93,535.59 L319.06,535.97 L320.19,536.08" fill="none" stroke="#7ab0d4" stroke-width="0.6"/>
<line x1="286.80" y1="541.55" x2="367.20" y2="541.55" stroke="#e29a9a" stroke-width="0.6"/>
<path d="M287.30,541.55 L287.30,541.55 L288.43,541.55 L289.57,541.55 L290.70,541.55 L291.84,541.54 L292.97,541.53 L294.11,541.50 L295.24,541.41 L296.37,541.22 L297.51,541.11 L298.64,540.38 L299.78,539.32 L300.91,537.67 L302.05,535.74 L303.18,534.35 L304.31,533.02 L305.45,533.19 L306.58,532.95 L307.72,533.32 L308.85,534.26 L309.99,534.50 L311.12,535.72 L312.25,536.19 L313.39,537.24 L314.52,537.70 L315.66,538.91 L316.79,539.25 L317.93,539.77 L319.06,540.40 L320.19,540.71 L321.33,540.78 L322.46,541.12 L323.60,541.27 L324.73,541.37 L325.87,541.44 L327.00,541.48 L328.13,541.51 L329.27,541.53 L330.40,541.54 L331.54,541.54 L332.67,541.55 L333.81,541.55 L334.94,541.55 L336.07,541.55 L337.21,541.55 L338.34,541.55 L339.48,541.55 L340.61,541.55 L341.75,541.55 L342.88,541.55 L344.01,541.55 L345.15,541.55 L346.28,541.55 L347.42,541.55 L348.55,541.55 L349.69,541.55 L350.82,541.55 L351.95,541.55 L353.09,541.55 L354.22,541.55 L355.36,541.55 L356.49,541.55 L357.63,541.55 L358.76,541.55 L359.89,541.55 L361.03,541.55 L362.16,541.55 L363.30,541.55 L364.43,541.55 L365.57,541.55 L366.70,541.55 L366.70,541.55 Z" fill="#e8928a" fill-opacity="0.82" stroke="none"/>
<path d="M295.24,541.41 L296.37,541.22 L297.51,541.11 L298.64,540.38 L299.78,539.32 L300.91,537.67 L302.05,535.74 L303.18,534.35 L304.31,533.02 L305.45,533.19 L306.58,532.95 L307.72,533.32 L308.85,534.26 L309.99,534.50 L311.12,535.72 L312.25,536.19 L313.39,537.24 L314.52,537.70 L315.66,538.91 L316.79,539.25 L317.93,539.77 L319.06,540.40 L320.19,540.71 L321.33,540.78 L322.46,541.12 L323.60,541.27 L324.73,541.37" fill="none" stroke="#a04e50" stroke-width="0.6"/>
<rect x="286.80" y="452.60" width="80.40" height="90.80" fill="none" stroke="#333" stroke-width="0.9"/>
<text x="280.70" y="460.00" font-size="6.7" text-anchor="end" fill="#2a2a2a" stroke="#2a2a2a" stroke-width="0.08">hTpoR WT no Tpo</text>
<text x="280.70" y="467.30" font-size="6.7" text-anchor="end" fill="#2a2a2a" stroke="#2a2a2a" stroke-width="0.08">hTpoR WT + Tpo</text>
<text x="280.70" y="475.50" font-size="6.7" text-anchor="end" fill="#2a2a2a" stroke="#2a2a2a" stroke-width="0.08">cc-hTpoR 0</text>
<text x="280.70" y="486.20" font-size="6.7" text-anchor="end" fill="#2a2a2a" stroke="#2a2a2a" stroke-width="0.08">cc-hTpoR I</text>
<text x="280.70" y="496.90" font-size="6.7" text-anchor="end" fill="#2a2a2a" stroke="#2a2a2a" stroke-width="0.08">cc-hTpoR II</text>
<text x="280.70" y="508.00" font-size="6.7" text-anchor="end" fill="#2a2a2a" stroke="#2a2a2a" stroke-width="0.08">cc-hTpoR III</text>
<text x="280.70" y="519.30" font-size="6.7" text-anchor="end" fill="#2a2a2a" stroke="#2a2a2a" stroke-width="0.08">cc-hTpoR IV</text>
<text x="280.70" y="530.00" font-size="6.7" text-anchor="end" fill="#2a2a2a" stroke="#2a2a2a" stroke-width="0.08">cc-hTpoR V</text>
<text x="280.70" y="541.10" font-size="6.7" text-anchor="end" fill="#2a2a2a" stroke="#2a2a2a" stroke-width="0.08">cc-hTpoR VI</text>
<line x1="283.50" y1="468.30" x2="283.50" y2="478.50" stroke="#333" stroke-width="0.8"/>
<line x1="283.50" y1="479.00" x2="283.50" y2="489.20" stroke="#333" stroke-width="0.8"/>
<line x1="283.50" y1="489.70" x2="283.50" y2="499.90" stroke="#333" stroke-width="0.8"/>
<line x1="283.50" y1="500.80" x2="283.50" y2="511.00" stroke="#333" stroke-width="0.8"/>
<line x1="283.50" y1="512.10" x2="283.50" y2="522.30" stroke="#333" stroke-width="0.8"/>
<line x1="283.50" y1="522.80" x2="283.50" y2="533.00" stroke="#333" stroke-width="0.8"/>
<line x1="283.50" y1="533.90" x2="283.50" y2="544.10" stroke="#333" stroke-width="0.8"/>
<text x="295.20" y="554.80" font-size="7.0" text-anchor="middle" fill="#3a3a3a" stroke="#3a3a3a" stroke-width="0.08">0</text>
<text x="312.70" y="554.80" font-size="7.0" text-anchor="middle" fill="#3a3a3a">10<tspan dy="-2.9" font-size="4.6">4</tspan></text>
<text x="339.20" y="554.80" font-size="7.0" text-anchor="middle" fill="#3a3a3a">10<tspan dy="-2.9" font-size="4.6">5</tspan></text>
<text x="366.60" y="554.80" font-size="7.0" text-anchor="middle" fill="#3a3a3a">10<tspan dy="-2.9" font-size="4.6">6</tspan></text>
<line x1="289.30" y1="543.40" x2="289.30" y2="545.20" stroke="#111" stroke-width="0.5"/>
<line x1="290.10" y1="543.40" x2="290.10" y2="545.20" stroke="#111" stroke-width="0.5"/>
<line x1="290.90" y1="543.40" x2="290.90" y2="545.20" stroke="#111" stroke-width="0.5"/>
<line x1="291.70" y1="543.40" x2="291.70" y2="545.20" stroke="#111" stroke-width="0.5"/>
<line x1="292.50" y1="543.40" x2="292.50" y2="545.20" stroke="#111" stroke-width="0.5"/>
<line x1="293.30" y1="543.40" x2="293.30" y2="545.20" stroke="#111" stroke-width="0.5"/>
<line x1="294.10" y1="543.40" x2="294.10" y2="545.20" stroke="#111" stroke-width="0.5"/>
<line x1="294.90" y1="543.40" x2="294.90" y2="545.20" stroke="#111" stroke-width="0.5"/>
<line x1="295.70" y1="543.40" x2="295.70" y2="545.20" stroke="#111" stroke-width="0.5"/>
<line x1="296.50" y1="543.40" x2="296.50" y2="545.20" stroke="#111" stroke-width="0.5"/>
<line x1="297.30" y1="543.40" x2="297.30" y2="545.20" stroke="#111" stroke-width="0.5"/>
<line x1="298.10" y1="543.40" x2="298.10" y2="545.20" stroke="#111" stroke-width="0.5"/>
<line x1="312.40" y1="543.40" x2="312.40" y2="545.60" stroke="#222" stroke-width="0.7"/>
<line x1="320.38" y1="543.40" x2="320.38" y2="544.70" stroke="#333" stroke-width="0.5"/>
<line x1="325.04" y1="543.40" x2="325.04" y2="544.70" stroke="#333" stroke-width="0.5"/>
<line x1="328.35" y1="543.40" x2="328.35" y2="544.70" stroke="#333" stroke-width="0.5"/>
<line x1="330.92" y1="543.40" x2="330.92" y2="544.70" stroke="#333" stroke-width="0.5"/>
<line x1="333.02" y1="543.40" x2="333.02" y2="544.70" stroke="#333" stroke-width="0.5"/>
<line x1="334.80" y1="543.40" x2="334.80" y2="544.70" stroke="#333" stroke-width="0.5"/>
<line x1="336.33" y1="543.40" x2="336.33" y2="544.70" stroke="#333" stroke-width="0.5"/>
<line x1="337.69" y1="543.40" x2="337.69" y2="544.70" stroke="#333" stroke-width="0.5"/>
<line x1="338.90" y1="543.40" x2="338.90" y2="545.60" stroke="#222" stroke-width="0.7"/>
<line x1="347.15" y1="543.40" x2="347.15" y2="544.70" stroke="#333" stroke-width="0.5"/>
<line x1="351.97" y1="543.40" x2="351.97" y2="544.70" stroke="#333" stroke-width="0.5"/>
<line x1="355.40" y1="543.40" x2="355.40" y2="544.70" stroke="#333" stroke-width="0.5"/>
<line x1="358.05" y1="543.40" x2="358.05" y2="544.70" stroke="#333" stroke-width="0.5"/>
<line x1="360.22" y1="543.40" x2="360.22" y2="544.70" stroke="#333" stroke-width="0.5"/>
<line x1="362.06" y1="543.40" x2="362.06" y2="544.70" stroke="#333" stroke-width="0.5"/>
<line x1="363.64" y1="543.40" x2="363.64" y2="544.70" stroke="#333" stroke-width="0.5"/>
<line x1="365.05" y1="543.40" x2="365.05" y2="544.70" stroke="#333" stroke-width="0.5"/>
<line x1="366.30" y1="543.40" x2="366.30" y2="545.60" stroke="#222" stroke-width="0.7"/>
<text x="326.90" y="437.80" font-size="6.3" text-anchor="middle" fill="#2a2a2a" stroke="#2a2a2a" stroke-width="0.08" textLength="25.1" lengthAdjust="spacingAndGlyphs">p-STAT5</text>
<rect x="284.80" y="444.90" width="2.60" height="2.60" fill="#a9cde4"/>
<text x="291.20" y="448.40" font-size="6.3" text-anchor="start" fill="#2a2a2a" stroke="#2a2a2a" stroke-width="0.08" textLength="29.4" lengthAdjust="spacingAndGlyphs">hJAK2 WT</text>
<rect x="323.70" y="444.90" width="2.60" height="2.60" fill="#d88888"/>
<text x="329.60" y="448.40" font-size="6.3" text-anchor="start" fill="#2a2a2a" stroke="#2a2a2a" stroke-width="0.08" textLength="37.4" lengthAdjust="spacingAndGlyphs">hJAK2 V617F</text>
<text x="388.80" y="249.80" font-size="12.2" text-anchor="start" fill="#111" font-weight="bold">F</text>
<line x1="429.00" y1="265.30" x2="435.00" y2="265.30" stroke="#333" stroke-width="1.0"/>
<circle cx="432.00" cy="265.30" r="0.8" fill="#333"/>
<text x="436.90" y="267.55" font-size="6.4" text-anchor="start" fill="#2a2a2a" stroke="#2a2a2a" stroke-width="0.08" textLength="28.3" lengthAdjust="spacingAndGlyphs">hJAK2 WT</text>
<line x1="467.40" y1="265.30" x2="474.00" y2="265.30" stroke="#6a1a24" stroke-width="1.0"/>
<circle cx="470.70" cy="265.30" r="0.8" fill="#6a1a24"/>
<text x="476.20" y="267.55" font-size="6.4" text-anchor="start" fill="#2a2a2a" stroke="#2a2a2a" stroke-width="0.08" textLength="37.5" lengthAdjust="spacingAndGlyphs">hJAK2 V617F</text>
<line x1="426.50" y1="272.40" x2="426.50" y2="364.20" stroke="#231f20" stroke-width="1.1"/>
<line x1="423.80" y1="363.50" x2="426.60" y2="363.50" stroke="#231f20" stroke-width="0.9"/>
<text x="420.70" y="366.20" font-size="7.2" text-anchor="end" fill="#2a2a2a" stroke="#2a2a2a" stroke-width="0.08"></text>
<line x1="423.80" y1="334.50" x2="426.60" y2="334.50" stroke="#231f20" stroke-width="0.9"/>
<text x="420.70" y="336.70" font-size="7.2" text-anchor="end" fill="#2a2a2a" stroke="#2a2a2a" stroke-width="0.08"></text>
<line x1="423.80" y1="304.50" x2="426.60" y2="304.50" stroke="#231f20" stroke-width="0.9"/>
<text x="420.70" y="307.20" font-size="7.2" text-anchor="end" fill="#2a2a2a" stroke="#2a2a2a" stroke-width="0.08"></text>
<line x1="423.80" y1="275.50" x2="426.60" y2="275.50" stroke="#231f20" stroke-width="0.9"/>
<text x="420.70" y="277.70" font-size="7.2" text-anchor="end" fill="#2a2a2a" stroke="#2a2a2a" stroke-width="0.08"></text>
<text x="420.0" y="366.10" font-size="6.6" text-anchor="end" fill="#2a2a2a" stroke="#2a2a2a" stroke-width="0.08">10<tspan dy="-2.8" font-size="4.3">5</tspan></text>
<text x="420.0" y="336.60" font-size="6.6" text-anchor="end" fill="#2a2a2a" stroke="#2a2a2a" stroke-width="0.08">10<tspan dy="-2.8" font-size="4.3">6</tspan></text>
<text x="420.0" y="307.10" font-size="6.6" text-anchor="end" fill="#2a2a2a" stroke="#2a2a2a" stroke-width="0.08">10<tspan dy="-2.8" font-size="4.3">7</tspan></text>
<text x="420.0" y="277.60" font-size="6.6" text-anchor="end" fill="#2a2a2a" stroke="#2a2a2a" stroke-width="0.08">10<tspan dy="-2.8" font-size="4.3">8</tspan></text>
<line x1="426.20" y1="363.50" x2="513.50" y2="363.50" stroke="#231f20" stroke-width="0.9"/>
<line x1="432.40" y1="363.70" x2="432.40" y2="365.90" stroke="#231f20" stroke-width="0.7"/>
<line x1="443.00" y1="363.70" x2="443.00" y2="365.90" stroke="#231f20" stroke-width="0.7"/>
<line x1="453.60" y1="363.70" x2="453.60" y2="365.90" stroke="#231f20" stroke-width="0.7"/>
<line x1="464.20" y1="363.70" x2="464.20" y2="365.90" stroke="#231f20" stroke-width="0.7"/>
<line x1="474.80" y1="363.70" x2="474.80" y2="365.90" stroke="#231f20" stroke-width="0.7"/>
<line x1="485.40" y1="363.70" x2="485.40" y2="365.90" stroke="#231f20" stroke-width="0.7"/>
<line x1="496.00" y1="363.70" x2="496.00" y2="365.90" stroke="#231f20" stroke-width="0.7"/>
<line x1="506.60" y1="363.70" x2="506.60" y2="365.90" stroke="#231f20" stroke-width="0.7"/>
<line x1="430.40" y1="352.70" x2="434.60" y2="352.30" stroke="#555" stroke-width="0.7"/>
<line x1="430.40" y1="354.60" x2="434.60" y2="355.60" stroke="#555" stroke-width="0.7"/>
<line x1="430.40" y1="362.00" x2="434.60" y2="360.40" stroke="#555" stroke-width="0.7"/>
<line x1="430.40" y1="361.00" x2="434.60" y2="362.70" stroke="#555" stroke-width="0.7"/>
<circle cx="430.40" cy="352.70" r="1.25" fill="#4aa3dc"/>
<circle cx="434.60" cy="352.30" r="1.25" fill="#c62d3e"/>
<circle cx="430.40" cy="354.60" r="1.25" fill="#4aa3dc"/>
<circle cx="434.60" cy="355.60" r="1.25" fill="#c62d3e"/>
<circle cx="430.40" cy="362.00" r="1.25" fill="#4aa3dc"/>
<circle cx="434.60" cy="360.40" r="1.25" fill="#c62d3e"/>
<circle cx="430.40" cy="361.00" r="1.25" fill="#4aa3dc"/>
<circle cx="434.60" cy="362.70" r="1.25" fill="#c62d3e"/>
<line x1="441.00" y1="310.40" x2="445.20" y2="320.40" stroke="#555" stroke-width="0.7"/>
<line x1="441.00" y1="313.80" x2="445.20" y2="322.00" stroke="#555" stroke-width="0.7"/>
<line x1="441.00" y1="316.00" x2="445.20" y2="321.00" stroke="#555" stroke-width="0.7"/>
<line x1="441.00" y1="331.20" x2="445.20" y2="347.30" stroke="#555" stroke-width="0.7"/>
<circle cx="441.00" cy="310.40" r="1.25" fill="#4aa3dc"/>
<circle cx="445.20" cy="320.40" r="1.25" fill="#c62d3e"/>
<circle cx="441.00" cy="313.80" r="1.25" fill="#4aa3dc"/>
<circle cx="445.20" cy="322.00" r="1.25" fill="#c62d3e"/>
<circle cx="441.00" cy="316.00" r="1.25" fill="#4aa3dc"/>
<circle cx="445.20" cy="321.00" r="1.25" fill="#c62d3e"/>
<circle cx="441.00" cy="331.20" r="1.25" fill="#4aa3dc"/>
<circle cx="445.20" cy="347.30" r="1.25" fill="#c62d3e"/>
<line x1="451.60" y1="302.30" x2="455.80" y2="307.50" stroke="#555" stroke-width="0.7"/>
<line x1="451.60" y1="310.40" x2="455.80" y2="315.20" stroke="#555" stroke-width="0.7"/>
<line x1="451.60" y1="319.00" x2="455.80" y2="316.20" stroke="#555" stroke-width="0.7"/>
<circle cx="451.60" cy="302.30" r="1.25" fill="#4aa3dc"/>
<circle cx="455.80" cy="307.50" r="1.25" fill="#c62d3e"/>
<circle cx="451.60" cy="310.40" r="1.25" fill="#4aa3dc"/>
<circle cx="455.80" cy="315.20" r="1.25" fill="#c62d3e"/>
<circle cx="451.60" cy="319.00" r="1.25" fill="#4aa3dc"/>
<circle cx="455.80" cy="316.20" r="1.25" fill="#c62d3e"/>
<line x1="462.20" y1="346.00" x2="466.40" y2="343.00" stroke="#555" stroke-width="0.7"/>
<line x1="462.20" y1="350.40" x2="466.40" y2="345.60" stroke="#555" stroke-width="0.7"/>
<line x1="462.20" y1="352.70" x2="466.40" y2="352.70" stroke="#555" stroke-width="0.7"/>
<line x1="462.20" y1="355.60" x2="466.40" y2="357.50" stroke="#555" stroke-width="0.7"/>
<circle cx="462.20" cy="346.00" r="1.25" fill="#4aa3dc"/>
<circle cx="466.40" cy="343.00" r="1.25" fill="#c62d3e"/>
<circle cx="462.20" cy="350.40" r="1.25" fill="#4aa3dc"/>
<circle cx="466.40" cy="345.60" r="1.25" fill="#c62d3e"/>
<circle cx="462.20" cy="352.70" r="1.25" fill="#4aa3dc"/>
<circle cx="466.40" cy="352.70" r="1.25" fill="#c62d3e"/>
<circle cx="462.20" cy="355.60" r="1.25" fill="#4aa3dc"/>
<circle cx="466.40" cy="357.50" r="1.25" fill="#c62d3e"/>
<line x1="472.80" y1="347.00" x2="477.00" y2="340.80" stroke="#555" stroke-width="0.7"/>
<line x1="472.80" y1="350.80" x2="477.00" y2="344.00" stroke="#555" stroke-width="0.7"/>
<line x1="472.80" y1="353.70" x2="477.00" y2="348.80" stroke="#555" stroke-width="0.7"/>
<circle cx="472.80" cy="347.00" r="1.25" fill="#4aa3dc"/>
<circle cx="477.00" cy="340.80" r="1.25" fill="#c62d3e"/>
<circle cx="472.80" cy="350.80" r="1.25" fill="#4aa3dc"/>
<circle cx="477.00" cy="344.00" r="1.25" fill="#c62d3e"/>
<circle cx="472.80" cy="353.70" r="1.25" fill="#4aa3dc"/>
<circle cx="477.00" cy="348.80" r="1.25" fill="#c62d3e"/>
<line x1="483.40" y1="306.20" x2="487.60" y2="310.00" stroke="#555" stroke-width="0.7"/>
<line x1="483.40" y1="308.50" x2="487.60" y2="315.20" stroke="#555" stroke-width="0.7"/>
<line x1="483.40" y1="319.00" x2="487.60" y2="310.50" stroke="#555" stroke-width="0.7"/>
<circle cx="483.40" cy="306.20" r="1.25" fill="#4aa3dc"/>
<circle cx="487.60" cy="310.00" r="1.25" fill="#c62d3e"/>
<circle cx="483.40" cy="308.50" r="1.25" fill="#4aa3dc"/>
<circle cx="487.60" cy="315.20" r="1.25" fill="#c62d3e"/>
<circle cx="483.40" cy="319.00" r="1.25" fill="#4aa3dc"/>
<circle cx="487.60" cy="310.50" r="1.25" fill="#c62d3e"/>
<line x1="494.00" y1="345.00" x2="498.20" y2="314.20" stroke="#111" stroke-width="0.8"/>
<line x1="494.00" y1="354.60" x2="498.20" y2="322.00" stroke="#111" stroke-width="0.8"/>
<line x1="494.00" y1="355.60" x2="498.20" y2="325.80" stroke="#111" stroke-width="0.8"/>
<line x1="494.00" y1="352.00" x2="498.20" y2="328.70" stroke="#111" stroke-width="0.8"/>
<line x1="494.00" y1="350.00" x2="498.20" y2="320.00" stroke="#111" stroke-width="0.8"/>
<line x1="494.00" y1="354.00" x2="498.20" y2="318.00" stroke="#111" stroke-width="0.8"/>
<line x1="494.00" y1="353.00" x2="498.20" y2="324.00" stroke="#111" stroke-width="0.8"/>
<line x1="494.00" y1="351.00" x2="498.20" y2="326.50" stroke="#111" stroke-width="0.8"/>
<line x1="494.00" y1="355.00" x2="498.20" y2="321.00" stroke="#111" stroke-width="0.8"/>
<line x1="494.00" y1="349.00" x2="498.20" y2="317.00" stroke="#111" stroke-width="0.8"/>
<line x1="494.00" y1="356.00" x2="498.20" y2="329.50" stroke="#111" stroke-width="0.8"/>
<line x1="494.00" y1="352.50" x2="498.20" y2="323.00" stroke="#111" stroke-width="0.8"/>
<circle cx="494.00" cy="345.00" r="1.25" fill="#4aa3dc"/>
<circle cx="498.20" cy="314.20" r="1.25" fill="#c62d3e"/>
<circle cx="494.00" cy="354.60" r="1.25" fill="#4aa3dc"/>
<circle cx="498.20" cy="322.00" r="1.25" fill="#c62d3e"/>
<circle cx="494.00" cy="355.60" r="1.25" fill="#4aa3dc"/>
<circle cx="498.20" cy="325.80" r="1.25" fill="#c62d3e"/>
<circle cx="494.00" cy="352.00" r="1.25" fill="#4aa3dc"/>
<circle cx="498.20" cy="328.70" r="1.25" fill="#c62d3e"/>
<circle cx="494.00" cy="350.00" r="1.25" fill="#4aa3dc"/>
<circle cx="498.20" cy="320.00" r="1.25" fill="#c62d3e"/>
<circle cx="494.00" cy="354.00" r="1.25" fill="#4aa3dc"/>
<circle cx="498.20" cy="318.00" r="1.25" fill="#c62d3e"/>
<circle cx="494.00" cy="353.00" r="1.25" fill="#4aa3dc"/>
<circle cx="498.20" cy="324.00" r="1.25" fill="#c62d3e"/>
<circle cx="494.00" cy="351.00" r="1.25" fill="#4aa3dc"/>
<circle cx="498.20" cy="326.50" r="1.25" fill="#c62d3e"/>
<circle cx="494.00" cy="355.00" r="1.25" fill="#4aa3dc"/>
<circle cx="498.20" cy="321.00" r="1.25" fill="#c62d3e"/>
<circle cx="494.00" cy="349.00" r="1.25" fill="#4aa3dc"/>
<circle cx="498.20" cy="317.00" r="1.25" fill="#c62d3e"/>
<circle cx="494.00" cy="356.00" r="1.25" fill="#4aa3dc"/>
<circle cx="498.20" cy="329.50" r="1.25" fill="#c62d3e"/>
<circle cx="494.00" cy="352.50" r="1.25" fill="#4aa3dc"/>
<circle cx="498.20" cy="323.00" r="1.25" fill="#c62d3e"/>
<line x1="504.60" y1="347.00" x2="508.80" y2="340.20" stroke="#555" stroke-width="0.7"/>
<line x1="504.60" y1="350.80" x2="508.80" y2="343.00" stroke="#555" stroke-width="0.7"/>
<line x1="504.60" y1="354.60" x2="508.80" y2="346.00" stroke="#555" stroke-width="0.7"/>
<circle cx="504.60" cy="347.00" r="1.25" fill="#4aa3dc"/>
<circle cx="508.80" cy="340.20" r="1.25" fill="#c62d3e"/>
<circle cx="504.60" cy="350.80" r="1.25" fill="#4aa3dc"/>
<circle cx="508.80" cy="343.00" r="1.25" fill="#c62d3e"/>
<circle cx="504.60" cy="354.60" r="1.25" fill="#4aa3dc"/>
<circle cx="508.80" cy="346.00" r="1.25" fill="#c62d3e"/>
<polyline points="441.50,308.00 441.50,302.50 445.50,302.50 445.50,318.00" fill="none" stroke="#8a8a8a" stroke-width="0.8"/>
<rect x="442.25" y="298.24" width="1.70" height="1.53" rx="0.3" fill="#303030"/>
<polyline points="494.50,343.00 494.50,303.50 498.50,303.50 498.50,312.00" fill="none" stroke="#8a8a8a" stroke-width="0.8"/>
<rect x="492.20" y="299.24" width="1.70" height="1.53" rx="0.3" fill="#303030"/>
<rect x="495.25" y="299.24" width="1.70" height="1.53" rx="0.3" fill="#303030"/>
<rect x="498.30" y="299.24" width="1.70" height="1.53" rx="0.3" fill="#303030"/>
<text transform="translate(404.20,319.00) rotate(-90)" font-size="10.0" text-anchor="middle" fill="#3a3a3a" stroke="#3a3a3a" stroke-width="0.08" textLength="42.7" lengthAdjust="spacingAndGlyphs">Cell number</text>
<text transform="translate(435.40,373.70) rotate(-45)" font-size="6.6" text-anchor="end" fill="#2a2a2a" stroke="#2a2a2a" stroke-width="0.08">Empty</text>
<text transform="translate(446.00,373.70) rotate(-45)" font-size="6.6" text-anchor="end" fill="#2a2a2a" stroke="#2a2a2a" stroke-width="0.08">cc-hTpor 0</text>
<text transform="translate(456.60,373.70) rotate(-45)" font-size="6.6" text-anchor="end" fill="#2a2a2a" stroke="#2a2a2a" stroke-width="0.08">cc-hTpoR I</text>
<text transform="translate(467.20,373.70) rotate(-45)" font-size="6.6" text-anchor="end" fill="#2a2a2a" stroke="#2a2a2a" stroke-width="0.08">cc-hTpoR II</text>
<text transform="translate(477.80,373.70) rotate(-45)" font-size="6.6" text-anchor="end" fill="#2a2a2a" stroke="#2a2a2a" stroke-width="0.08">cc-hTpoR III</text>
<text transform="translate(488.40,373.70) rotate(-45)" font-size="6.6" text-anchor="end" fill="#2a2a2a" stroke="#2a2a2a" stroke-width="0.08">cc-hTpoR IV</text>
<text transform="translate(499.00,373.70) rotate(-45)" font-size="6.6" text-anchor="end" fill="#2a2a2a" stroke="#2a2a2a" stroke-width="0.08">cc-hTpoR V</text>
<text transform="translate(509.60,373.70) rotate(-45)" font-size="6.6" text-anchor="end" fill="#2a2a2a" stroke="#2a2a2a" stroke-width="0.08">cc-hTpoR VI</text>
<text x="388.00" y="430.00" font-size="12.2" text-anchor="start" fill="#111" font-weight="bold">I</text>
<line x1="429.00" y1="442.30" x2="435.00" y2="442.30" stroke="#333" stroke-width="1.0"/>
<circle cx="432.00" cy="442.30" r="0.8" fill="#333"/>
<text x="437.40" y="444.55" font-size="6.4" text-anchor="start" fill="#2a2a2a" stroke="#2a2a2a" stroke-width="0.08" textLength="28.2" lengthAdjust="spacingAndGlyphs">hJAK2 WT</text>
<line x1="466.10" y1="442.30" x2="474.40" y2="442.30" stroke="#6a1a24" stroke-width="1.0"/>
<circle cx="470.25" cy="442.30" r="0.8" fill="#6a1a24"/>
<text x="476.60" y="444.55" font-size="6.4" text-anchor="start" fill="#2a2a2a" stroke="#2a2a2a" stroke-width="0.08" textLength="38.9" lengthAdjust="spacingAndGlyphs">hJAK2 V617F</text>
<line x1="426.50" y1="453.00" x2="426.50" y2="544.40" stroke="#231f20" stroke-width="1.1"/>
<line x1="423.80" y1="543.50" x2="426.60" y2="543.50" stroke="#231f20" stroke-width="0.9"/>
<text x="420.70" y="546.40" font-size="6.4" text-anchor="end" fill="#2a2a2a" stroke="#2a2a2a" stroke-width="0.08">0</text>
<line x1="423.80" y1="514.50" x2="426.60" y2="514.50" stroke="#231f20" stroke-width="0.9"/>
<text x="420.70" y="516.80" font-size="6.4" text-anchor="end" fill="#2a2a2a" stroke="#2a2a2a" stroke-width="0.08">10000</text>
<line x1="423.80" y1="484.50" x2="426.60" y2="484.50" stroke="#231f20" stroke-width="0.9"/>
<text x="420.70" y="487.20" font-size="6.4" text-anchor="end" fill="#2a2a2a" stroke="#2a2a2a" stroke-width="0.08">20000</text>
<line x1="423.80" y1="455.50" x2="426.60" y2="455.50" stroke="#231f20" stroke-width="0.9"/>
<text x="420.70" y="457.60" font-size="6.4" text-anchor="end" fill="#2a2a2a" stroke="#2a2a2a" stroke-width="0.08">30000</text>
<line x1="426.20" y1="543.50" x2="513.50" y2="543.50" stroke="#231f20" stroke-width="0.9"/>
<line x1="431.80" y1="543.90" x2="431.80" y2="546.10" stroke="#231f20" stroke-width="0.7"/>
<line x1="442.60" y1="543.90" x2="442.60" y2="546.10" stroke="#231f20" stroke-width="0.7"/>
<line x1="453.00" y1="543.90" x2="453.00" y2="546.10" stroke="#231f20" stroke-width="0.7"/>
<line x1="463.50" y1="543.90" x2="463.50" y2="546.10" stroke="#231f20" stroke-width="0.7"/>
<line x1="474.00" y1="543.90" x2="474.00" y2="546.10" stroke="#231f20" stroke-width="0.7"/>
<line x1="484.60" y1="543.90" x2="484.60" y2="546.10" stroke="#231f20" stroke-width="0.7"/>
<line x1="495.00" y1="543.90" x2="495.00" y2="546.10" stroke="#231f20" stroke-width="0.7"/>
<line x1="505.80" y1="543.90" x2="505.80" y2="546.10" stroke="#231f20" stroke-width="0.7"/>
<line x1="429.80" y1="543.01" x2="434.00" y2="541.83" stroke="#222" stroke-width="0.7"/>
<line x1="429.80" y1="543.31" x2="434.00" y2="542.42" stroke="#222" stroke-width="0.7"/>
<circle cx="429.80" cy="543.01" r="1.25" fill="#4aa3dc"/>
<circle cx="434.00" cy="541.83" r="1.25" fill="#c62d3e"/>
<circle cx="429.80" cy="543.31" r="1.25" fill="#4aa3dc"/>
<circle cx="434.00" cy="542.42" r="1.25" fill="#c62d3e"/>
<line x1="440.60" y1="530.58" x2="444.80" y2="533.24" stroke="#222" stroke-width="0.7"/>
<line x1="440.60" y1="529.69" x2="444.80" y2="532.06" stroke="#222" stroke-width="0.7"/>
<line x1="440.60" y1="532.06" x2="444.80" y2="534.13" stroke="#222" stroke-width="0.7"/>
<circle cx="440.60" cy="530.58" r="1.25" fill="#4aa3dc"/>
<circle cx="444.80" cy="533.24" r="1.25" fill="#c62d3e"/>
<circle cx="440.60" cy="529.69" r="1.25" fill="#4aa3dc"/>
<circle cx="444.80" cy="532.06" r="1.25" fill="#c62d3e"/>
<circle cx="440.60" cy="532.06" r="1.25" fill="#4aa3dc"/>
<circle cx="444.80" cy="534.13" r="1.25" fill="#c62d3e"/>
<line x1="451.00" y1="475.82" x2="455.20" y2="512.82" stroke="#222" stroke-width="0.7"/>
<line x1="451.00" y1="481.74" x2="455.20" y2="515.78" stroke="#222" stroke-width="0.7"/>
<line x1="451.00" y1="487.66" x2="455.20" y2="517.26" stroke="#222" stroke-width="0.7"/>
<line x1="451.00" y1="496.54" x2="455.20" y2="519.63" stroke="#222" stroke-width="0.7"/>
<line x1="451.00" y1="478.78" x2="455.20" y2="514.30" stroke="#222" stroke-width="0.7"/>
<line x1="451.00" y1="490.62" x2="455.20" y2="518.44" stroke="#222" stroke-width="0.7"/>
<circle cx="451.00" cy="475.82" r="1.25" fill="#4aa3dc"/>
<circle cx="455.20" cy="512.82" r="1.25" fill="#c62d3e"/>
<circle cx="451.00" cy="481.74" r="1.25" fill="#4aa3dc"/>
<circle cx="455.20" cy="515.78" r="1.25" fill="#c62d3e"/>
<circle cx="451.00" cy="487.66" r="1.25" fill="#4aa3dc"/>
<circle cx="455.20" cy="517.26" r="1.25" fill="#c62d3e"/>
<circle cx="451.00" cy="496.54" r="1.25" fill="#4aa3dc"/>
<circle cx="455.20" cy="519.63" r="1.25" fill="#c62d3e"/>
<circle cx="451.00" cy="478.78" r="1.25" fill="#4aa3dc"/>
<circle cx="455.20" cy="514.30" r="1.25" fill="#c62d3e"/>
<circle cx="451.00" cy="490.62" r="1.25" fill="#4aa3dc"/>
<circle cx="455.20" cy="518.44" r="1.25" fill="#c62d3e"/>
<line x1="461.50" y1="541.53" x2="465.70" y2="529.10" stroke="#222" stroke-width="0.7"/>
<line x1="461.50" y1="542.12" x2="465.70" y2="533.54" stroke="#222" stroke-width="0.7"/>
<line x1="461.50" y1="541.24" x2="465.70" y2="537.09" stroke="#222" stroke-width="0.7"/>
<line x1="461.50" y1="541.83" x2="465.70" y2="531.47" stroke="#222" stroke-width="0.7"/>
<circle cx="461.50" cy="541.53" r="1.25" fill="#4aa3dc"/>
<circle cx="465.70" cy="529.10" r="1.25" fill="#c62d3e"/>
<circle cx="461.50" cy="542.12" r="1.25" fill="#4aa3dc"/>
<circle cx="465.70" cy="533.54" r="1.25" fill="#c62d3e"/>
<circle cx="461.50" cy="541.24" r="1.25" fill="#4aa3dc"/>
<circle cx="465.70" cy="537.09" r="1.25" fill="#c62d3e"/>
<circle cx="461.50" cy="541.83" r="1.25" fill="#4aa3dc"/>
<circle cx="465.70" cy="531.47" r="1.25" fill="#c62d3e"/>
<line x1="472.00" y1="540.94" x2="476.20" y2="538.28" stroke="#222" stroke-width="0.7"/>
<line x1="472.00" y1="541.24" x2="476.20" y2="539.16" stroke="#222" stroke-width="0.7"/>
<line x1="472.00" y1="540.64" x2="476.20" y2="537.98" stroke="#222" stroke-width="0.7"/>
<circle cx="472.00" cy="540.94" r="1.25" fill="#4aa3dc"/>
<circle cx="476.20" cy="538.28" r="1.25" fill="#c62d3e"/>
<circle cx="472.00" cy="541.24" r="1.25" fill="#4aa3dc"/>
<circle cx="476.20" cy="539.16" r="1.25" fill="#c62d3e"/>
<circle cx="472.00" cy="540.64" r="1.25" fill="#4aa3dc"/>
<circle cx="476.20" cy="537.98" r="1.25" fill="#c62d3e"/>
<line x1="482.60" y1="461.02" x2="486.80" y2="493.58" stroke="#222" stroke-width="0.7"/>
<line x1="482.60" y1="469.90" x2="486.80" y2="502.46" stroke="#222" stroke-width="0.7"/>
<line x1="482.60" y1="475.82" x2="486.80" y2="508.38" stroke="#222" stroke-width="0.7"/>
<line x1="482.60" y1="486.18" x2="486.80" y2="513.71" stroke="#222" stroke-width="0.7"/>
<line x1="482.60" y1="466.94" x2="486.80" y2="499.50" stroke="#222" stroke-width="0.7"/>
<line x1="482.60" y1="481.74" x2="486.80" y2="511.34" stroke="#222" stroke-width="0.7"/>
<circle cx="482.60" cy="461.02" r="1.25" fill="#4aa3dc"/>
<circle cx="486.80" cy="493.58" r="1.25" fill="#c62d3e"/>
<circle cx="482.60" cy="469.90" r="1.25" fill="#4aa3dc"/>
<circle cx="486.80" cy="502.46" r="1.25" fill="#c62d3e"/>
<circle cx="482.60" cy="475.82" r="1.25" fill="#4aa3dc"/>
<circle cx="486.80" cy="508.38" r="1.25" fill="#c62d3e"/>
<circle cx="482.60" cy="486.18" r="1.25" fill="#4aa3dc"/>
<circle cx="486.80" cy="513.71" r="1.25" fill="#c62d3e"/>
<circle cx="482.60" cy="466.94" r="1.25" fill="#4aa3dc"/>
<circle cx="486.80" cy="499.50" r="1.25" fill="#c62d3e"/>
<circle cx="482.60" cy="481.74" r="1.25" fill="#4aa3dc"/>
<circle cx="486.80" cy="511.34" r="1.25" fill="#c62d3e"/>
<line x1="493.00" y1="542.42" x2="497.20" y2="525.55" stroke="#222" stroke-width="0.7"/>
<line x1="493.00" y1="542.72" x2="497.20" y2="529.10" stroke="#222" stroke-width="0.7"/>
<line x1="493.00" y1="542.12" x2="497.20" y2="533.54" stroke="#222" stroke-width="0.7"/>
<line x1="493.00" y1="543.01" x2="497.20" y2="530.58" stroke="#222" stroke-width="0.7"/>
<circle cx="493.00" cy="542.42" r="1.25" fill="#4aa3dc"/>
<circle cx="497.20" cy="525.55" r="1.25" fill="#c62d3e"/>
<circle cx="493.00" cy="542.72" r="1.25" fill="#4aa3dc"/>
<circle cx="497.20" cy="529.10" r="1.25" fill="#c62d3e"/>
<circle cx="493.00" cy="542.12" r="1.25" fill="#4aa3dc"/>
<circle cx="497.20" cy="533.54" r="1.25" fill="#c62d3e"/>
<circle cx="493.00" cy="543.01" r="1.25" fill="#4aa3dc"/>
<circle cx="497.20" cy="530.58" r="1.25" fill="#c62d3e"/>
<line x1="503.80" y1="540.94" x2="508.00" y2="537.98" stroke="#222" stroke-width="0.7"/>
<line x1="503.80" y1="541.53" x2="508.00" y2="539.46" stroke="#222" stroke-width="0.7"/>
<line x1="503.80" y1="542.12" x2="508.00" y2="540.05" stroke="#222" stroke-width="0.7"/>
<circle cx="503.80" cy="540.94" r="1.25" fill="#4aa3dc"/>
<circle cx="508.00" cy="537.98" r="1.25" fill="#c62d3e"/>
<circle cx="503.80" cy="541.53" r="1.25" fill="#4aa3dc"/>
<circle cx="508.00" cy="539.46" r="1.25" fill="#c62d3e"/>
<circle cx="503.80" cy="542.12" r="1.25" fill="#4aa3dc"/>
<circle cx="508.00" cy="540.05" r="1.25" fill="#c62d3e"/>
<polyline points="429.50,541.00 429.50,535.50 434.50,535.50 434.50,540.00" fill="none" stroke="#8a8a8a" stroke-width="0.8"/>
<text x="431.90" y="533.20" font-size="6.6" text-anchor="middle" fill="#3a3a3a" stroke="#3a3a3a" stroke-width="0.08">ns</text>
<polyline points="440.50,528.00 440.50,524.50 444.50,524.50 444.50,531.00" fill="none" stroke="#8a8a8a" stroke-width="0.8"/>
<text x="442.70" y="522.40" font-size="6.6" text-anchor="middle" fill="#3a3a3a" stroke="#3a3a3a" stroke-width="0.08">ns</text>
<polyline points="451.50,473.00 451.50,468.50 455.50,468.50 455.50,510.00" fill="none" stroke="#8a8a8a" stroke-width="0.8"/>
<rect x="447.68" y="465.04" width="1.70" height="1.53" rx="0.3" fill="#303030"/>
<rect x="450.73" y="465.04" width="1.70" height="1.53" rx="0.3" fill="#303030"/>
<rect x="453.78" y="465.04" width="1.70" height="1.53" rx="0.3" fill="#303030"/>
<rect x="456.82" y="465.04" width="1.70" height="1.53" rx="0.3" fill="#303030"/>
<polyline points="461.50,540.00 461.50,521.50 465.50,521.50 465.50,527.00" fill="none" stroke="#8a8a8a" stroke-width="0.8"/>
<rect x="458.18" y="517.44" width="1.70" height="1.53" rx="0.3" fill="#303030"/>
<rect x="461.23" y="517.44" width="1.70" height="1.53" rx="0.3" fill="#303030"/>
<rect x="464.28" y="517.44" width="1.70" height="1.53" rx="0.3" fill="#303030"/>
<rect x="467.32" y="517.44" width="1.70" height="1.53" rx="0.3" fill="#303030"/>
<polyline points="472.50,539.00 472.50,533.50 476.50,533.50 476.50,537.00" fill="none" stroke="#8a8a8a" stroke-width="0.8"/>
<text x="474.10" y="531.70" font-size="6.6" text-anchor="middle" fill="#3a3a3a" stroke="#3a3a3a" stroke-width="0.08">ns</text>
<polyline points="482.50,459.00 482.50,454.50 486.50,454.50 486.50,492.00" fill="none" stroke="#8a8a8a" stroke-width="0.8"/>
<rect x="479.28" y="450.54" width="1.70" height="1.53" rx="0.3" fill="#303030"/>
<rect x="482.33" y="450.54" width="1.70" height="1.53" rx="0.3" fill="#303030"/>
<rect x="485.38" y="450.54" width="1.70" height="1.53" rx="0.3" fill="#303030"/>
<rect x="488.43" y="450.54" width="1.70" height="1.53" rx="0.3" fill="#303030"/>
<polyline points="493.50,541.00 493.50,520.50 497.50,520.50 497.50,524.00" fill="none" stroke="#8a8a8a" stroke-width="0.8"/>
<rect x="489.68" y="516.53" width="1.70" height="1.53" rx="0.3" fill="#303030"/>
<rect x="492.73" y="516.53" width="1.70" height="1.53" rx="0.3" fill="#303030"/>
<rect x="495.78" y="516.53" width="1.70" height="1.53" rx="0.3" fill="#303030"/>
<rect x="498.82" y="516.53" width="1.70" height="1.53" rx="0.3" fill="#303030"/>
<polyline points="503.50,539.00 503.50,533.50 508.50,533.50 508.50,537.00" fill="none" stroke="#8a8a8a" stroke-width="0.8"/>
<text x="505.90" y="531.70" font-size="6.6" text-anchor="middle" fill="#3a3a3a" stroke="#3a3a3a" stroke-width="0.08">ns</text>
<text transform="translate(398.00,498.60) rotate(-90)" font-size="8.6" text-anchor="middle" fill="#3a3a3a" stroke="#3a3a3a" stroke-width="0.08" textLength="80.5" lengthAdjust="spacingAndGlyphs">Cell number (normalized)</text>
<text transform="translate(434.60,553.90) rotate(-45)" font-size="6.6" text-anchor="end" fill="#2a2a2a" stroke="#2a2a2a" stroke-width="0.08">Empty</text>
<text transform="translate(445.40,553.90) rotate(-45)" font-size="6.6" text-anchor="end" fill="#2a2a2a" stroke="#2a2a2a" stroke-width="0.08">cc-hTpoR 0</text>
<text transform="translate(455.80,553.90) rotate(-45)" font-size="6.6" text-anchor="end" fill="#2a2a2a" stroke="#2a2a2a" stroke-width="0.08">cc-hTpoR I</text>
<text transform="translate(466.30,553.90) rotate(-45)" font-size="6.6" text-anchor="end" fill="#2a2a2a" stroke="#2a2a2a" stroke-width="0.08">cc-hTpoR II</text>
<text transform="translate(476.80,553.90) rotate(-45)" font-size="6.6" text-anchor="end" fill="#2a2a2a" stroke="#2a2a2a" stroke-width="0.08">cc-hTpoR III</text>
<text transform="translate(487.40,553.90) rotate(-45)" font-size="6.6" text-anchor="end" fill="#2a2a2a" stroke="#2a2a2a" stroke-width="0.08">cc-hTpoR IV</text>
<text transform="translate(497.80,553.90) rotate(-45)" font-size="6.6" text-anchor="end" fill="#2a2a2a" stroke="#2a2a2a" stroke-width="0.08">cc-hTpoR V</text>
<text transform="translate(508.60,553.90) rotate(-45)" font-size="6.6" text-anchor="end" fill="#2a2a2a" stroke="#2a2a2a" stroke-width="0.08">cc-hTpoR VI</text>
<rect x="0.5" y="0.5" width="519" height="590" fill="none" stroke="#4d4d4d" stroke-width="1"/>
</svg>
</body></html>
